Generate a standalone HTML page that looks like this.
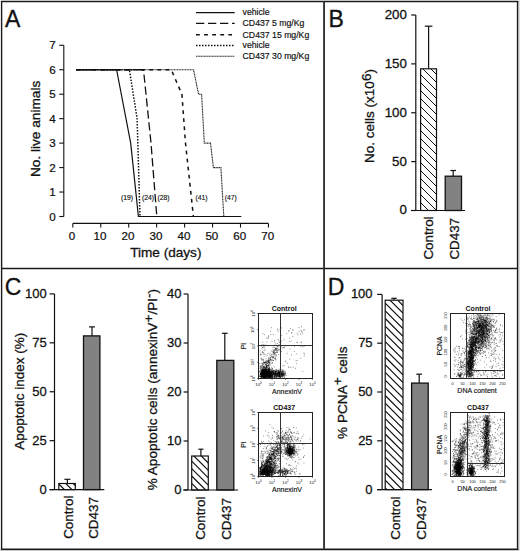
<!DOCTYPE html>
<html><head><meta charset="utf-8"><style>
html,body{margin:0;padding:0;background:#fff;width:520px;height:551px;overflow:hidden}
svg{display:block}
text{font-family:"Liberation Sans", sans-serif;fill:#111}
</style></head><body>
<svg width="520" height="551" viewBox="0 0 520 551">
<rect width="520" height="551" fill="#fff"/>
<rect x="0" y="550" width="520" height="1" fill="#c8c8c8"/>
<rect x="519" y="0" width="1" height="551" fill="#e0e0e0"/>
<text x="5.0" y="27.2" font-size="23" text-anchor="start" stroke="#111" stroke-width="0.3">A</text>
<line x1="63.8" y1="45.28" x2="63.8" y2="216.5" stroke="#111" stroke-width="1.1"/>
<line x1="59.3" y1="216.5" x2="63.8" y2="216.5" stroke="#111" stroke-width="1.1"/>
<text x="55.6" y="220.5" font-size="11.6" text-anchor="end" stroke="#111" stroke-width="0.24">0</text>
<line x1="59.3" y1="192.04" x2="63.8" y2="192.04" stroke="#111" stroke-width="1.1"/>
<text x="55.6" y="196.04" font-size="11.6" text-anchor="end" stroke="#111" stroke-width="0.24">1</text>
<line x1="59.3" y1="167.57999999999998" x2="63.8" y2="167.57999999999998" stroke="#111" stroke-width="1.1"/>
<text x="55.6" y="171.57999999999998" font-size="11.6" text-anchor="end" stroke="#111" stroke-width="0.24">2</text>
<line x1="59.3" y1="143.12" x2="63.8" y2="143.12" stroke="#111" stroke-width="1.1"/>
<text x="55.6" y="147.12" font-size="11.6" text-anchor="end" stroke="#111" stroke-width="0.24">3</text>
<line x1="59.3" y1="118.66" x2="63.8" y2="118.66" stroke="#111" stroke-width="1.1"/>
<text x="55.6" y="122.66" font-size="11.6" text-anchor="end" stroke="#111" stroke-width="0.24">4</text>
<line x1="59.3" y1="94.19999999999999" x2="63.8" y2="94.19999999999999" stroke="#111" stroke-width="1.1"/>
<text x="55.6" y="98.19999999999999" font-size="11.6" text-anchor="end" stroke="#111" stroke-width="0.24">5</text>
<line x1="59.3" y1="69.74000000000001" x2="63.8" y2="69.74000000000001" stroke="#111" stroke-width="1.1"/>
<text x="55.6" y="73.74000000000001" font-size="11.6" text-anchor="end" stroke="#111" stroke-width="0.24">6</text>
<line x1="59.3" y1="45.28" x2="63.8" y2="45.28" stroke="#111" stroke-width="1.1"/>
<text x="55.6" y="49.28" font-size="11.6" text-anchor="end" stroke="#111" stroke-width="0.24">7</text>
<line x1="72.8" y1="223.4" x2="268.45" y2="223.4" stroke="#111" stroke-width="1.1"/>
<line x1="72.8" y1="223.4" x2="72.8" y2="227.6" stroke="#111" stroke-width="1.1"/>
<text x="72.1" y="239.8" font-size="11.6" text-anchor="middle" stroke="#111" stroke-width="0.24">0</text>
<line x1="100.75" y1="223.4" x2="100.75" y2="227.6" stroke="#111" stroke-width="1.1"/>
<text x="100.05" y="239.8" font-size="11.6" text-anchor="middle" stroke="#111" stroke-width="0.24">10</text>
<line x1="128.7" y1="223.4" x2="128.7" y2="227.6" stroke="#111" stroke-width="1.1"/>
<text x="127.99999999999999" y="239.8" font-size="11.6" text-anchor="middle" stroke="#111" stroke-width="0.24">20</text>
<line x1="156.64999999999998" y1="223.4" x2="156.64999999999998" y2="227.6" stroke="#111" stroke-width="1.1"/>
<text x="155.95" y="239.8" font-size="11.6" text-anchor="middle" stroke="#111" stroke-width="0.24">30</text>
<line x1="184.6" y1="223.4" x2="184.6" y2="227.6" stroke="#111" stroke-width="1.1"/>
<text x="183.9" y="239.8" font-size="11.6" text-anchor="middle" stroke="#111" stroke-width="0.24">40</text>
<line x1="212.55" y1="223.4" x2="212.55" y2="227.6" stroke="#111" stroke-width="1.1"/>
<text x="211.85000000000002" y="239.8" font-size="11.6" text-anchor="middle" stroke="#111" stroke-width="0.24">50</text>
<line x1="240.5" y1="223.4" x2="240.5" y2="227.6" stroke="#111" stroke-width="1.1"/>
<text x="239.8" y="239.8" font-size="11.6" text-anchor="middle" stroke="#111" stroke-width="0.24">60</text>
<line x1="268.45" y1="223.4" x2="268.45" y2="227.6" stroke="#111" stroke-width="1.1"/>
<text x="267.75" y="239.8" font-size="11.6" text-anchor="middle" stroke="#111" stroke-width="0.24">70</text>
<text x="165.8" y="256.6" font-size="13.6" text-anchor="middle" stroke="#111" stroke-width="0.29">Time (days)</text>
<text x="39.9" y="128.9" font-size="13.65" text-anchor="middle" stroke="#111" stroke-width="0.29" transform="rotate(-90 39.9 128.9)">No. live animals</text>
<polyline points="76.30,69.74 193.50,69.74 198.60,94.20 201.60,94.20 204.30,143.12 210.50,143.12 213.40,167.58 220.90,167.58 223.80,216.50" fill="none" stroke="#222" stroke-width="1.1" stroke-dasharray="1.1 0.5"/>
<polyline points="76.30,69.74 171.30,69.74 181.90,94.20 185.50,143.12 193.40,216.50" fill="none" stroke="#111" stroke-width="1.5" stroke-dasharray="3.8 4.3"/>
<polyline points="76.30,69.74 143.50,69.74 151.00,143.12 156.80,216.50" fill="none" stroke="#111" stroke-width="1.3" stroke-dasharray="8.3 3.7"/>
<polyline points="76.30,69.74 129.40,69.74 137.10,118.66 140.00,216.50" fill="none" stroke="#111" stroke-width="1.5" stroke-dasharray="1.5 1.5"/>
<polyline points="76.30,69.74 116.60,69.74 130.70,143.12 138.40,216.50 241.30,216.50" fill="none" stroke="#111" stroke-width="1.2"/>
<text x="121.0" y="200.0" font-size="6.8" text-anchor="start" stroke="#111" stroke-width="0.14">(19)</text>
<text x="141.9" y="200.0" font-size="6.8" text-anchor="start" stroke="#111" stroke-width="0.14">(24)</text>
<text x="157.4" y="200.0" font-size="6.8" text-anchor="start" stroke="#111" stroke-width="0.14">(28)</text>
<text x="195.4" y="200.0" font-size="6.8" text-anchor="start" stroke="#111" stroke-width="0.14">(41)</text>
<text x="224.7" y="200.0" font-size="6.8" text-anchor="start" stroke="#111" stroke-width="0.14">(47)</text>
<line x1="196.0" y1="12.6" x2="234.7" y2="12.6" stroke="#111" stroke-width="1.2"/>
<line x1="196.0" y1="23.4" x2="234.7" y2="23.4" stroke="#111" stroke-width="1.3" stroke-dasharray="8.3 3.7"/>
<line x1="196.0" y1="34.8" x2="232.0" y2="34.8" stroke="#111" stroke-width="1.5" stroke-dasharray="3.8 4.3"/>
<line x1="196.0" y1="45.6" x2="234.7" y2="45.6" stroke="#111" stroke-width="1.5" stroke-dasharray="1.5 1.5"/>
<line x1="196.0" y1="56.3" x2="234.7" y2="56.3" stroke="#222" stroke-width="1.1" stroke-dasharray="1.1 0.5"/>
<text x="242.6" y="15.3" font-size="8.7" text-anchor="start" stroke="#111" stroke-width="0.18">vehicle</text>
<text x="242.6" y="26.099999999999998" font-size="8.7" text-anchor="start" stroke="#111" stroke-width="0.18">CD437 5 mg/Kg</text>
<text x="242.6" y="37.5" font-size="8.7" text-anchor="start" stroke="#111" stroke-width="0.18">CD437 15 mg/Kg</text>
<text x="242.6" y="48.300000000000004" font-size="8.7" text-anchor="start" stroke="#111" stroke-width="0.18">vehicle</text>
<text x="242.6" y="59.0" font-size="8.7" text-anchor="start" stroke="#111" stroke-width="0.18">CD437 30 mg/Kg</text>
<text x="328.5" y="27.4" font-size="23" text-anchor="start" stroke="#111" stroke-width="0.3">B</text>
<line x1="415.8" y1="15.0" x2="415.8" y2="210.5" stroke="#111" stroke-width="1.2"/>
<line x1="411.2" y1="210.5" x2="415.8" y2="210.5" stroke="#111" stroke-width="1.2"/>
<text x="406.9" y="214.4" font-size="13.3" text-anchor="end" stroke="#111" stroke-width="0.28">0</text>
<line x1="411.2" y1="161.625" x2="415.8" y2="161.625" stroke="#111" stroke-width="1.2"/>
<text x="406.9" y="165.525" font-size="13.3" text-anchor="end" stroke="#111" stroke-width="0.28">50</text>
<line x1="411.2" y1="112.75" x2="415.8" y2="112.75" stroke="#111" stroke-width="1.2"/>
<text x="406.9" y="116.65" font-size="13.3" text-anchor="end" stroke="#111" stroke-width="0.28">100</text>
<line x1="411.2" y1="63.875" x2="415.8" y2="63.875" stroke="#111" stroke-width="1.2"/>
<text x="406.9" y="67.775" font-size="13.3" text-anchor="end" stroke="#111" stroke-width="0.28">150</text>
<line x1="411.2" y1="15.0" x2="415.8" y2="15.0" stroke="#111" stroke-width="1.2"/>
<text x="406.9" y="18.9" font-size="13.3" text-anchor="end" stroke="#111" stroke-width="0.28">200</text>
<line x1="428.6" y1="68.76249999999999" x2="428.6" y2="26.2" stroke="#111" stroke-width="1.2"/>
<line x1="424.8" y1="26.2" x2="432.40000000000003" y2="26.2" stroke="#111" stroke-width="1.2"/>
<clipPath id="c1"><rect x="420.6" y="68.8" width="15.899999999999977" height="141.7"/></clipPath>
<rect x="420.6" y="68.8" width="15.899999999999977" height="141.7" fill="#fff"/>
<path d="M420.60,210.60L436.50,226.50M420.60,202.60L436.50,218.50M420.60,194.60L436.50,210.50M420.60,186.60L436.50,202.50M420.60,178.60L436.50,194.50M420.60,170.60L436.50,186.50M420.60,162.60L436.50,178.50M420.60,154.60L436.50,170.50M420.60,146.60L436.50,162.50M420.60,138.60L436.50,154.50M420.60,130.60L436.50,146.50M420.60,122.60L436.50,138.50M420.60,114.60L436.50,130.50M420.60,106.60L436.50,122.50M420.60,98.60L436.50,114.50M420.60,90.60L436.50,106.50M420.60,82.60L436.50,98.50M420.60,74.60L436.50,90.50M420.60,66.60L436.50,82.50M420.60,58.60L436.50,74.50M420.60,50.60L436.50,66.50" stroke="#111" stroke-width="1.0" clip-path="url(#c1)"/>
<rect x="420.6" y="68.8" width="15.899999999999977" height="141.7" fill="none" stroke="#111" stroke-width="1.2"/>
<line x1="453.2" y1="176.2" x2="453.2" y2="170.5" stroke="#111" stroke-width="1.2"/>
<line x1="450.4" y1="170.5" x2="456.0" y2="170.5" stroke="#111" stroke-width="1.2"/>
<rect x="445.2" y="176.2" width="16.30000000000001" height="34.30000000000001" fill="#828282" stroke="#111" stroke-width="1.3"/>
<line x1="411.2" y1="210.5" x2="465.0" y2="210.5" stroke="#111" stroke-width="1.2"/>
<text x="433.2" y="259.6" font-size="13.4" text-anchor="start" stroke="#111" stroke-width="0.28" transform="rotate(-90 433.2 259.6)">Control</text>
<text x="459.2" y="259.6" font-size="13.4" text-anchor="start" stroke="#111" stroke-width="0.28" transform="rotate(-90 459.2 259.6)">CD437</text>
<text x="374.5" y="162.9" font-size="13.5" stroke="#111" stroke-width="0.28" transform="rotate(-90 374.5 162.9)">No. cells (x10<tspan dy="-3">6</tspan><tspan dy="3">)</tspan></text>
<text x="4.8" y="295.2" font-size="23" text-anchor="start" stroke="#111" stroke-width="0.3">C</text>
<line x1="54.5" y1="293.9" x2="54.5" y2="489.6" stroke="#111" stroke-width="1.2"/>
<line x1="49.6" y1="489.6" x2="54.5" y2="489.6" stroke="#111" stroke-width="1.2"/>
<text x="46.8" y="493.70000000000005" font-size="13.0" text-anchor="end" stroke="#111" stroke-width="0.27">0</text>
<line x1="49.6" y1="440.675" x2="54.5" y2="440.675" stroke="#111" stroke-width="1.2"/>
<text x="46.8" y="444.77500000000003" font-size="13.0" text-anchor="end" stroke="#111" stroke-width="0.27">25</text>
<line x1="49.6" y1="391.75" x2="54.5" y2="391.75" stroke="#111" stroke-width="1.2"/>
<text x="46.8" y="395.85" font-size="13.0" text-anchor="end" stroke="#111" stroke-width="0.27">50</text>
<line x1="49.6" y1="342.82500000000005" x2="54.5" y2="342.82500000000005" stroke="#111" stroke-width="1.2"/>
<text x="46.8" y="346.92500000000007" font-size="13.0" text-anchor="end" stroke="#111" stroke-width="0.27">75</text>
<line x1="49.6" y1="293.9" x2="54.5" y2="293.9" stroke="#111" stroke-width="1.2"/>
<text x="46.8" y="298.0" font-size="13.0" text-anchor="end" stroke="#111" stroke-width="0.27">100</text>
<line x1="67.4" y1="483.5" x2="67.4" y2="479.3" stroke="#111" stroke-width="1.2"/>
<line x1="64.4" y1="479.3" x2="70.4" y2="479.3" stroke="#111" stroke-width="1.2"/>
<clipPath id="c2"><rect x="58.8" y="483.5" width="16.5" height="6.100000000000023"/></clipPath>
<rect x="58.8" y="483.5" width="16.5" height="6.100000000000023" fill="#fff"/>
<path d="M58.80,491.50L75.30,508.00M58.80,484.00L75.30,500.50M58.80,476.50L75.30,493.00M58.80,469.00L75.30,485.50M58.80,461.50L75.30,478.00" stroke="#111" stroke-width="1.2" clip-path="url(#c2)"/>
<rect x="58.8" y="483.5" width="16.5" height="6.100000000000023" fill="none" stroke="#111" stroke-width="1.2"/>
<line x1="92.0" y1="335.9" x2="92.0" y2="326.9" stroke="#111" stroke-width="1.2"/>
<line x1="89.0" y1="326.9" x2="95.0" y2="326.9" stroke="#111" stroke-width="1.2"/>
<rect x="83.5" y="335.9" width="16.400000000000006" height="153.70000000000005" fill="#828282" stroke="#111" stroke-width="1.3"/>
<line x1="49.6" y1="489.6" x2="104.3" y2="489.6" stroke="#111" stroke-width="1.2"/>
<text x="72.7" y="538.8" font-size="13.4" text-anchor="start" stroke="#111" stroke-width="0.28" transform="rotate(-90 72.7 538.8)">Control</text>
<text x="98.4" y="538.8" font-size="13.4" text-anchor="start" stroke="#111" stroke-width="0.28" transform="rotate(-90 98.4 538.8)">CD437</text>
<text x="23.6" y="449.8" font-size="13.5" text-anchor="start" stroke="#111" stroke-width="0.28" transform="rotate(-90 23.6 449.8)">Apoptotic index (%)</text>
<line x1="188.0" y1="294.0" x2="188.0" y2="490.0" stroke="#111" stroke-width="1.2"/>
<line x1="183.6" y1="490.0" x2="188.0" y2="490.0" stroke="#111" stroke-width="1.2"/>
<text x="181.4" y="494.2" font-size="13.0" text-anchor="end" stroke="#111" stroke-width="0.27">0</text>
<line x1="183.6" y1="441.0" x2="188.0" y2="441.0" stroke="#111" stroke-width="1.2"/>
<text x="181.4" y="445.2" font-size="13.0" text-anchor="end" stroke="#111" stroke-width="0.27">10</text>
<line x1="183.6" y1="392.0" x2="188.0" y2="392.0" stroke="#111" stroke-width="1.2"/>
<text x="181.4" y="396.2" font-size="13.0" text-anchor="end" stroke="#111" stroke-width="0.27">20</text>
<line x1="183.6" y1="343.0" x2="188.0" y2="343.0" stroke="#111" stroke-width="1.2"/>
<text x="181.4" y="347.2" font-size="13.0" text-anchor="end" stroke="#111" stroke-width="0.27">30</text>
<line x1="183.6" y1="294.0" x2="188.0" y2="294.0" stroke="#111" stroke-width="1.2"/>
<text x="181.4" y="298.2" font-size="13.0" text-anchor="end" stroke="#111" stroke-width="0.27">40</text>
<line x1="200.9" y1="456.0" x2="200.9" y2="449.2" stroke="#111" stroke-width="1.2"/>
<line x1="198.3" y1="449.2" x2="203.5" y2="449.2" stroke="#111" stroke-width="1.2"/>
<clipPath id="c3"><rect x="191.7" y="456.0" width="16.600000000000023" height="34.0"/></clipPath>
<rect x="191.7" y="456.0" width="16.600000000000023" height="34.0" fill="#fff"/>
<path d="M191.70,490.80L208.30,507.40M191.70,483.40L208.30,500.00M191.70,476.00L208.30,492.60M191.70,468.60L208.30,485.20M191.70,461.20L208.30,477.80M191.70,453.80L208.30,470.40M191.70,446.40L208.30,463.00M191.70,439.00L208.30,455.60" stroke="#111" stroke-width="1.2" clip-path="url(#c3)"/>
<rect x="191.7" y="456.0" width="16.600000000000023" height="34.0" fill="none" stroke="#111" stroke-width="1.2"/>
<line x1="224.8" y1="360.4" x2="224.8" y2="333.3" stroke="#111" stroke-width="1.2"/>
<line x1="221.9" y1="333.3" x2="227.70000000000002" y2="333.3" stroke="#111" stroke-width="1.2"/>
<rect x="216.8" y="360.4" width="17.0" height="129.60000000000002" fill="#828282" stroke="#111" stroke-width="1.3"/>
<line x1="183.3" y1="490.0" x2="238.1" y2="490.0" stroke="#111" stroke-width="1.2"/>
<text x="205.4" y="539.8" font-size="13.4" text-anchor="start" stroke="#111" stroke-width="0.28" transform="rotate(-90 205.4 539.8)">Control</text>
<text x="231.3" y="539.8" font-size="13.4" text-anchor="start" stroke="#111" stroke-width="0.28" transform="rotate(-90 231.3 539.8)">CD437</text>
<text x="157.4" y="490.3" font-size="13.6" stroke="#111" stroke-width="0.28" transform="rotate(-90 157.4 490.3)">% Apoptotic cells (annexinV<tspan dy="-4.5">+</tspan><tspan dy="4.5">/PI</tspan><tspan dy="-4.5">-</tspan><tspan dy="4.5">)</tspan></text>
<path d="M266.9,372.6h0.9M269.3,372.2h0.9M272.6,375.1h0.9M261.3,375.8h0.9M269.8,371.8h0.9M265.2,370.6h0.9M260.1,374.5h0.9M264.5,370.9h0.9M273.9,375.7h0.9M268.9,373.1h0.9M272.6,371.8h0.9M263.7,373.9h0.9M262.5,372.7h0.9M269.2,370.0h0.9M271.9,376.9h0.9M265.3,371.8h0.9M263.3,374.5h0.9M268.3,371.6h0.9M266.4,371.9h0.9M263.9,373.9h0.9M263.7,375.3h0.9M267.9,376.8h0.9M270.7,373.6h0.9M267.0,371.1h0.9M276.3,373.1h0.9M268.8,369.9h0.9M269.9,375.6h0.9M265.6,373.6h0.9M270.0,373.4h0.9M270.6,374.4h0.9M268.9,374.4h0.9M265.3,376.4h0.9M271.1,373.7h0.9M260.8,372.9h0.9M272.7,376.3h0.9M268.9,367.2h0.9M268.7,373.7h0.9M265.5,373.1h0.9M275.2,373.5h0.9M266.5,375.2h0.9M269.3,376.0h0.9M261.0,374.1h0.9M263.2,374.8h0.9M269.7,373.1h0.9M273.0,370.3h0.9M263.4,370.8h0.9M269.2,374.2h0.9M268.3,372.0h0.9M269.6,376.1h0.9M268.3,373.1h0.9M267.4,371.2h0.9M267.5,367.6h0.9M266.4,374.6h0.9M259.6,374.8h0.9M272.0,374.4h0.9M262.2,372.4h0.9M273.1,372.0h0.9M274.4,372.9h0.9M264.0,369.5h0.9M262.6,375.7h0.9M267.4,376.3h0.9M264.6,369.9h0.9M263.6,373.0h0.9M271.8,374.1h0.9M271.6,377.7h0.9M267.2,375.4h0.9M272.1,377.3h0.9M268.9,372.0h0.9M269.4,369.7h0.9M271.0,377.6h0.9M268.3,374.8h0.9M261.4,371.3h0.9M277.2,376.8h0.9M263.6,376.7h0.9M272.4,370.6h0.9M264.2,375.1h0.9M267.2,373.6h0.9M264.9,377.2h0.9M263.6,372.3h0.9M269.2,376.7h0.9M264.1,372.8h0.9M278.9,377.6h0.9M270.5,377.0h0.9M262.2,376.3h0.9M269.2,373.7h0.9M269.6,375.9h0.9M271.2,374.9h0.9M274.8,373.0h0.9M261.7,374.8h0.9M268.1,376.6h0.9M272.6,374.0h0.9M260.9,376.6h0.9M274.5,374.5h0.9M269.3,372.5h0.9M263.5,376.7h0.9M264.7,372.0h0.9M268.7,375.3h0.9M267.7,373.6h0.9M265.4,373.4h0.9M261.0,377.1h0.9M268.4,377.6h0.9M266.0,374.6h0.9M268.5,373.0h0.9M269.6,376.8h0.9M264.5,371.6h0.9M264.3,377.4h0.9M264.8,371.4h0.9M267.6,374.6h0.9M265.6,374.5h0.9M270.0,376.0h0.9M264.9,372.7h0.9M270.3,371.6h0.9M261.9,374.0h0.9M267.7,377.3h0.9M270.3,376.1h0.9M265.4,373.2h0.9M262.7,376.5h0.9M272.7,372.8h0.9M261.0,376.5h0.9M268.6,375.5h0.9M264.8,375.8h0.9M271.5,375.6h0.9M265.0,374.5h0.9M276.9,375.4h0.9M261.0,375.1h0.9M274.9,372.4h0.9M267.3,370.8h0.9M261.3,371.4h0.9M272.6,372.5h0.9M261.6,373.0h0.9M271.7,377.1h0.9M278.7,375.1h0.9M264.1,377.5h0.9M264.8,375.7h0.9M264.3,376.3h0.9M261.1,373.1h0.9M266.5,372.0h0.9M263.7,376.0h0.9M268.0,377.4h0.9M273.2,373.6h0.9M264.2,370.0h0.9M267.0,372.1h0.9M263.2,375.6h0.9M268.4,374.0h0.9M268.7,377.5h0.9M267.8,375.9h0.9M269.3,369.8h0.9M271.3,373.0h0.9M268.2,371.3h0.9M260.0,373.4h0.9M266.7,374.4h0.9M273.6,366.9h0.9M260.6,373.5h0.9M265.7,377.5h0.9M268.2,373.5h0.9M260.5,372.6h0.9M264.5,373.9h0.9M267.2,374.5h0.9M272.4,375.3h0.9M267.6,376.1h0.9M268.9,374.8h0.9M271.1,375.8h0.9M261.1,374.6h0.9M263.7,373.3h0.9M273.3,372.8h0.9M266.4,372.4h0.9M268.7,375.2h0.9M265.7,373.0h0.9M261.3,374.1h0.9M264.0,375.7h0.9M266.0,374.0h0.9M263.1,373.5h0.9M266.5,370.3h0.9M264.0,374.5h0.9M267.7,373.8h0.9M267.9,376.7h0.9M261.6,373.6h0.9M267.2,376.2h0.9M265.6,376.9h0.9M266.5,373.3h0.9M266.6,375.3h0.9M259.3,371.2h0.9M274.4,376.6h0.9M262.2,375.3h0.9M271.9,371.6h0.9M264.7,377.2h0.9M274.4,374.2h0.9M265.7,367.5h0.9M259.7,366.5h0.9M271.1,374.4h0.9M266.2,373.8h0.9M260.0,374.7h0.9M266.3,377.3h0.9M261.8,368.9h0.9M267.1,367.9h0.9M262.7,375.1h0.9M262.2,370.4h0.9M266.0,374.6h0.9M267.7,373.0h0.9M261.8,368.9h0.9M262.6,374.2h0.9M268.1,372.9h0.9M268.4,372.3h0.9M266.2,368.9h0.9M266.5,375.0h0.9M265.7,371.2h0.9M267.4,371.8h0.9M266.8,375.9h0.9M266.3,371.8h0.9M260.2,374.2h0.9M260.0,374.0h0.9M265.2,370.0h0.9M266.7,371.0h0.9M267.7,370.5h0.9M263.5,372.3h0.9M266.0,372.9h0.9M262.1,372.3h0.9M262.1,372.2h0.9M261.4,370.3h0.9M263.1,371.5h0.9M265.1,369.1h0.9M266.2,365.8h0.9M260.5,376.5h0.9M262.9,369.9h0.9M266.9,375.3h0.9M262.3,368.2h0.9M266.3,371.7h0.9M264.4,373.6h0.9M263.6,371.3h0.9M259.4,370.8h0.9M265.7,370.1h0.9M263.3,361.8h0.9M265.0,368.7h0.9M263.5,368.9h0.9M260.7,374.4h0.9M264.3,371.5h0.9M265.1,376.6h0.9M266.0,372.2h0.9M261.1,370.8h0.9M260.6,372.7h0.9M269.6,376.4h0.9M263.7,376.2h0.9M262.9,369.6h0.9M263.5,370.9h0.9M262.5,369.9h0.9M266.0,369.8h0.9M260.9,373.8h0.9M264.6,372.1h0.9M262.6,365.1h0.9M266.2,372.6h0.9M265.8,370.9h0.9M268.7,372.6h0.9M268.7,373.0h0.9M269.7,371.7h0.9M268.2,371.5h0.9M265.7,367.0h0.9M265.3,368.4h0.9M262.0,373.5h0.9M260.2,368.1h0.9M279.9,374.7h0.9M278.6,377.6h0.9M279.5,373.7h0.9M279.9,372.1h0.9M273.8,374.1h0.9M279.9,373.5h0.9M277.8,376.2h0.9M279.0,376.6h0.9M278.0,375.4h0.9M280.1,375.2h0.9M276.6,377.8h0.9M279.7,376.7h0.9M274.8,373.5h0.9M279.1,375.3h0.9M283.7,374.2h0.9M280.2,373.0h0.9M279.5,376.1h0.9M280.0,373.5h0.9M281.3,372.2h0.9M279.2,374.4h0.9M274.8,371.9h0.9M278.9,374.5h0.9M280.2,376.2h0.9M279.4,373.7h0.9M280.5,371.7h0.9M277.4,375.8h0.9M281.4,373.3h0.9M275.1,371.9h0.9M275.8,371.6h0.9M275.1,372.2h0.9M276.4,374.1h0.9M278.0,372.8h0.9M280.1,371.9h0.9M279.8,374.0h0.9M276.1,377.1h0.9M277.7,374.7h0.9M282.8,372.8h0.9M276.9,373.8h0.9M274.4,375.5h0.9M278.5,375.7h0.9M282.2,372.0h0.9M283.9,373.9h0.9M279.6,374.7h0.9M278.9,372.6h0.9M283.3,375.7h0.9M278.9,375.1h0.9M272.6,371.6h0.9M282.6,372.3h0.9M278.8,373.5h0.9M274.2,375.7h0.9M276.2,373.2h0.9M276.9,373.5h0.9M279.3,377.1h0.9M279.7,370.1h0.9M282.5,371.7h0.9M277.4,372.3h0.9M275.2,372.1h0.9M275.2,371.6h0.9M277.0,370.9h0.9M285.0,373.6h0.9M276.9,375.2h0.9M278.7,375.4h0.9M274.4,374.7h0.9M281.7,374.5h0.9M279.7,372.9h0.9M274.2,373.7h0.9M282.5,374.2h0.9M285.0,372.0h0.9M279.6,371.7h0.9M278.0,372.6h0.9M280.4,372.4h0.9M278.1,376.2h0.9M283.7,373.9h0.9M277.7,374.4h0.9M272.9,357.3h0.9M280.5,349.8h0.9M265.6,358.8h0.9M268.3,361.5h0.9M265.6,370.0h0.9M265.3,367.0h0.9M265.5,367.8h0.9M279.3,344.7h0.9M262.1,363.6h0.9M271.9,362.8h0.9M277.0,343.5h0.9M264.9,364.2h0.9M266.7,361.7h0.9M267.1,363.7h0.9M274.2,347.6h0.9M281.0,351.6h0.9M273.2,353.4h0.9M276.3,349.1h0.9M269.4,355.0h0.9M275.5,349.4h0.9M261.8,365.3h0.9M269.8,359.2h0.9M265.1,370.1h0.9M276.8,346.7h0.9M262.5,371.1h0.9M263.1,367.0h0.9M278.2,354.6h0.9M267.5,353.5h0.9M283.6,347.9h0.9M268.2,365.8h0.9M265.5,362.0h0.9M278.5,347.0h0.9M259.0,363.7h0.9M263.6,362.9h0.9M267.5,371.7h0.9M268.9,367.0h0.9M272.5,352.4h0.9M270.7,359.9h0.9M278.4,349.7h0.9M275.6,352.5h0.9M268.3,362.5h0.9M269.3,362.9h0.9M275.5,352.5h0.9M278.5,350.9h0.9M280.2,346.7h0.9M275.3,344.0h0.9M265.7,362.8h0.9M266.5,363.4h0.9M265.2,361.0h0.9M273.0,352.0h0.9M271.6,351.5h0.9M267.5,365.6h0.9M263.6,362.7h0.9M261.7,367.7h0.9M262.2,366.2h0.9M266.4,342.0h0.9M300.7,341.9h0.9M292.0,329.9h0.9M270.0,331.3h0.9M292.6,330.1h0.9M265.9,338.2h0.9M297.2,342.4h0.9M268.1,336.0h0.9M267.0,338.0h0.9M304.0,329.8h0.9M298.7,327.6h0.9M297.4,334.8h0.9M262.5,333.5h0.9M285.4,361.7h0.9M296.8,360.4h0.9M282.8,347.5h0.9M293.7,351.5h0.9M301.9,346.9h0.9M303.6,346.5h0.9M295.1,368.3h0.9M285.3,361.2h0.9M260.9,359.2h0.9M260.4,366.6h0.9M261.4,359.9h0.9M263.6,350.4h0.9M263.7,356.4h0.9M263.1,346.7h0.9M262.3,352.9h0.9M261.1,346.0h0.9M260.4,352.9h0.9M263.3,366.2h0.9" stroke="#000" stroke-opacity="0.5" stroke-width="0.9" fill="none"/><path d="M261.3,374.7h0.9M266.6,374.4h0.9M271.0,373.6h0.9M267.0,376.5h0.9M264.6,373.3h0.9M271.3,373.5h0.9M270.1,375.0h0.9M262.9,376.6h0.9M273.1,374.2h0.9M261.8,373.2h0.9M268.7,371.7h0.9M261.0,374.5h0.9M270.1,374.9h0.9M265.7,373.6h0.9M265.6,375.4h0.9M264.2,377.2h0.9M259.5,371.6h0.9M261.6,376.7h0.9M266.6,374.9h0.9M275.4,369.4h0.9M272.3,376.9h0.9M275.1,374.2h0.9M272.1,371.9h0.9M269.1,372.5h0.9M270.7,377.1h0.9M263.0,377.6h0.9M271.4,372.5h0.9M270.1,375.1h0.9M266.5,377.6h0.9M262.2,373.0h0.9M272.6,374.2h0.9M270.0,375.6h0.9M265.1,376.8h0.9M266.6,375.1h0.9M269.8,377.1h0.9M268.5,372.5h0.9M267.6,374.2h0.9M264.0,375.2h0.9M260.8,373.6h0.9M263.5,372.5h0.9M268.9,372.3h0.9M263.5,372.4h0.9M261.3,376.3h0.9M263.3,369.9h0.9M272.7,373.8h0.9M263.2,377.2h0.9M268.1,369.7h0.9M268.8,376.6h0.9M269.8,374.6h0.9M265.3,377.8h0.9M263.6,376.0h0.9M270.3,376.9h0.9M261.6,375.6h0.9M264.2,375.8h0.9M269.1,372.3h0.9M266.3,374.8h0.9M262.1,371.7h0.9M271.3,370.9h0.9M263.9,374.2h0.9M266.1,374.2h0.9M269.5,373.2h0.9M269.5,372.9h0.9M259.1,376.4h0.9M273.3,372.4h0.9M265.8,372.4h0.9M266.9,375.3h0.9M270.7,376.1h0.9M263.7,373.7h0.9M264.6,376.9h0.9M271.0,375.5h0.9M267.4,374.0h0.9M263.0,370.0h0.9M262.8,373.3h0.9M260.2,376.4h0.9M268.6,375.0h0.9M260.6,377.1h0.9M271.3,375.1h0.9M264.5,376.7h0.9M274.3,374.3h0.9M264.4,374.4h0.9M265.2,376.9h0.9M278.1,371.6h0.9M268.2,370.6h0.9M272.5,374.2h0.9M259.9,376.8h0.9M262.6,372.3h0.9M271.0,371.3h0.9M265.3,369.9h0.9M273.0,371.5h0.9M266.4,374.3h0.9M261.1,373.2h0.9M265.1,376.7h0.9M262.3,373.6h0.9M261.0,377.7h0.9M269.6,374.8h0.9M267.5,371.6h0.9M270.0,374.2h0.9M260.9,373.6h0.9M266.2,376.7h0.9M265.0,377.6h0.9M270.6,374.5h0.9M273.7,374.3h0.9M264.4,375.3h0.9M266.2,376.4h0.9M270.6,375.4h0.9M265.4,375.8h0.9M265.2,372.9h0.9M269.6,375.5h0.9M265.3,375.8h0.9M266.4,375.4h0.9M262.3,374.4h0.9M270.0,372.7h0.9M272.1,372.4h0.9M263.1,374.0h0.9M263.2,371.9h0.9M268.9,373.9h0.9M271.5,377.0h0.9M262.1,376.9h0.9M271.8,375.6h0.9M262.0,374.5h0.9M268.4,368.9h0.9M263.7,376.1h0.9M261.8,369.7h0.9M270.2,376.0h0.9M267.7,370.5h0.9M269.4,376.6h0.9M267.8,372.6h0.9M271.8,372.9h0.9M264.6,376.2h0.9M273.8,373.0h0.9M261.9,376.8h0.9M265.1,376.5h0.9M261.2,375.6h0.9M267.9,371.0h0.9M263.9,374.9h0.9M264.1,375.7h0.9M263.9,371.4h0.9M259.1,368.1h0.9M261.0,372.6h0.9M274.2,377.7h0.9M271.7,377.7h0.9M259.9,375.0h0.9M274.1,377.4h0.9M266.0,373.9h0.9M263.4,374.4h0.9M269.9,373.4h0.9M263.6,372.5h0.9M260.8,376.1h0.9M271.4,376.8h0.9M261.7,373.1h0.9M268.9,376.6h0.9M270.6,371.7h0.9M265.2,373.9h0.9M266.3,372.4h0.9M262.3,375.5h0.9M270.2,372.6h0.9M266.3,376.3h0.9M267.8,374.5h0.9M267.6,376.7h0.9M265.0,372.6h0.9M261.5,371.9h0.9M264.0,370.1h0.9M263.9,371.5h0.9M271.8,375.4h0.9M263.2,372.8h0.9M271.0,374.8h0.9M273.6,374.3h0.9M267.2,371.5h0.9M267.9,373.8h0.9M266.2,369.3h0.9M262.4,377.0h0.9M262.9,374.0h0.9M270.4,374.5h0.9M278.5,371.2h0.9M272.6,374.8h0.9M263.1,374.0h0.9M264.2,376.9h0.9M268.4,373.9h0.9M262.2,373.1h0.9M275.1,373.2h0.9M266.6,376.3h0.9M262.7,376.4h0.9M271.1,372.5h0.9M262.2,376.4h0.9M269.8,376.9h0.9M274.7,372.1h0.9M268.2,376.9h0.9M263.7,369.4h0.9M265.5,374.4h0.9M264.9,371.6h0.9M263.8,375.6h0.9M262.3,370.2h0.9M266.2,373.7h0.9M265.8,371.0h0.9M265.5,371.9h0.9M265.6,372.9h0.9M264.1,372.6h0.9M263.0,377.7h0.9M266.7,371.0h0.9M263.9,374.7h0.9M268.5,364.5h0.9M261.2,369.9h0.9M260.9,370.0h0.9M263.5,367.6h0.9M268.3,365.0h0.9M263.2,368.8h0.9M263.3,370.1h0.9M268.5,370.8h0.9M262.1,375.2h0.9M269.1,373.7h0.9M266.7,372.5h0.9M263.6,370.8h0.9M266.7,369.2h0.9M263.4,371.9h0.9M263.5,370.5h0.9M266.4,372.6h0.9M264.8,369.2h0.9M261.7,373.0h0.9M264.6,369.2h0.9M265.1,374.2h0.9M267.3,370.9h0.9M264.5,374.3h0.9M268.5,370.9h0.9M264.4,369.4h0.9M264.1,362.5h0.9M271.3,370.7h0.9M263.8,371.1h0.9M263.9,373.6h0.9M264.0,373.4h0.9M264.6,369.8h0.9M266.4,366.3h0.9M261.1,371.3h0.9M262.7,375.0h0.9M262.4,369.2h0.9M260.4,375.3h0.9M261.0,373.4h0.9M263.6,372.7h0.9M267.2,363.3h0.9M268.6,370.4h0.9M264.0,372.5h0.9M268.0,375.0h0.9M261.9,370.1h0.9M261.7,372.6h0.9M261.0,371.7h0.9M263.4,370.0h0.9M267.5,367.1h0.9M267.8,369.8h0.9M263.7,368.1h0.9M261.5,373.5h0.9M268.3,373.1h0.9M262.5,376.0h0.9M264.4,375.6h0.9M266.3,368.9h0.9M261.4,376.9h0.9M268.2,375.1h0.9M270.7,371.8h0.9M265.9,370.7h0.9M266.6,373.4h0.9M275.9,375.0h0.9M278.0,376.6h0.9M282.7,376.1h0.9M275.9,370.3h0.9M279.7,373.9h0.9M279.1,374.4h0.9M277.1,372.8h0.9M275.2,371.3h0.9M282.8,373.7h0.9M282.1,374.0h0.9M279.5,375.1h0.9M279.2,374.5h0.9M274.2,373.7h0.9M278.7,373.9h0.9M274.4,371.3h0.9M279.8,373.9h0.9M276.1,371.9h0.9M282.5,369.9h0.9M277.3,373.6h0.9M276.9,373.6h0.9M281.3,374.5h0.9M279.7,373.5h0.9M280.5,376.8h0.9M277.4,373.7h0.9M280.6,370.4h0.9M281.4,369.7h0.9M276.4,373.8h0.9M282.5,373.8h0.9M281.5,374.9h0.9M281.8,373.2h0.9M279.8,373.1h0.9M281.0,373.6h0.9M278.9,372.8h0.9M276.4,370.8h0.9M277.8,376.2h0.9M278.9,373.5h0.9M282.4,374.0h0.9M281.9,373.6h0.9M275.8,377.7h0.9M275.8,373.8h0.9M277.6,370.1h0.9M279.1,374.3h0.9M279.0,374.3h0.9M275.3,373.1h0.9M277.9,373.4h0.9M276.7,374.6h0.9M285.6,375.6h0.9M281.7,376.4h0.9M279.3,372.3h0.9M281.3,374.8h0.9M284.2,372.1h0.9M279.2,374.2h0.9M285.0,373.2h0.9M277.4,376.7h0.9M282.5,372.3h0.9M277.5,370.9h0.9M278.5,370.1h0.9M277.4,375.6h0.9M280.8,376.1h0.9M274.1,376.9h0.9M282.2,372.3h0.9M278.4,370.5h0.9M280.4,374.0h0.9M280.1,374.2h0.9M279.5,373.1h0.9M274.1,372.2h0.9M277.8,372.4h0.9M280.0,374.4h0.9M279.7,371.8h0.9M283.8,370.9h0.9M275.8,376.3h0.9M281.8,376.0h0.9M279.6,375.2h0.9M281.9,376.5h0.9M275.0,350.1h0.9M280.2,345.7h0.9M271.3,356.6h0.9M278.2,345.2h0.9M273.7,354.7h0.9M271.5,350.6h0.9M262.3,372.3h0.9M270.4,355.7h0.9M266.0,364.4h0.9M266.5,365.9h0.9M275.9,348.4h0.9M264.6,362.3h0.9M273.7,352.0h0.9M269.6,364.7h0.9M271.8,359.9h0.9M271.2,354.9h0.9M268.1,360.5h0.9M267.3,369.0h0.9M267.3,365.8h0.9M276.2,351.6h0.9M272.7,356.3h0.9M277.4,345.7h0.9M273.3,346.7h0.9M268.4,358.3h0.9M269.4,353.3h0.9M264.3,362.5h0.9M268.0,366.0h0.9M273.1,350.5h0.9M275.1,359.8h0.9M280.4,344.0h0.9M267.9,361.3h0.9M267.8,362.3h0.9M268.1,357.8h0.9M274.7,358.6h0.9M275.8,359.8h0.9M266.7,355.4h0.9M279.1,342.6h0.9M269.7,363.2h0.9M270.1,357.5h0.9M268.9,361.0h0.9M274.5,358.1h0.9M264.5,362.8h0.9M274.4,358.7h0.9M268.4,362.1h0.9M274.0,350.3h0.9M272.8,349.4h0.9M268.2,360.8h0.9M266.9,361.0h0.9M271.5,341.4h0.9M265.5,365.6h0.9M273.3,351.7h0.9M266.1,363.3h0.9M273.0,360.6h0.9M272.7,357.7h0.9M268.1,360.0h0.9M274.2,342.0h0.9M289.3,338.1h0.9M303.0,330.0h0.9M281.2,327.9h0.9M300.9,342.7h0.9M301.0,326.7h0.9M290.1,328.4h0.9M291.5,332.8h0.9M270.4,334.7h0.9M279.9,337.4h0.9M281.1,341.0h0.9M301.9,333.8h0.9M300.6,330.5h0.9M270.9,327.7h0.9M286.6,353.4h0.9M296.2,363.7h0.9M295.8,354.0h0.9M303.4,353.1h0.9M303.7,356.0h0.9M295.6,360.8h0.9M289.6,349.2h0.9M300.2,358.3h0.9M260.1,354.5h0.9M264.0,365.9h0.9M264.3,348.0h0.9M262.7,344.5h0.9M262.1,347.3h0.9M264.2,346.2h0.9M262.9,362.2h0.9M263.2,352.6h0.9M263.0,360.3h0.9M262.2,351.4h0.9" stroke="#000" stroke-opacity="0.5" stroke-width="0.9" fill="none"/><path d="M261.6,370.9h0.9M259.3,376.0h0.9M267.7,377.3h0.9M267.7,377.4h0.9M276.2,374.4h0.9M270.1,371.2h0.9M268.1,372.0h0.9M261.8,374.3h0.9M264.3,375.6h0.9M267.1,374.5h0.9M261.9,373.6h0.9M263.8,376.5h0.9M269.4,377.7h0.9M267.4,374.6h0.9M269.8,377.3h0.9M271.4,375.0h0.9M267.5,374.7h0.9M270.4,375.4h0.9M267.6,374.1h0.9M264.9,371.6h0.9M265.0,377.5h0.9M264.8,376.1h0.9M269.2,375.4h0.9M264.4,376.4h0.9M267.7,375.0h0.9M267.5,372.1h0.9M271.4,373.3h0.9M271.7,374.4h0.9M272.3,376.8h0.9M265.9,375.5h0.9M263.9,371.1h0.9M271.9,374.3h0.9M269.8,373.2h0.9M266.7,375.6h0.9M267.1,373.6h0.9M271.2,376.5h0.9M270.1,369.3h0.9M265.0,370.8h0.9M269.8,372.3h0.9M265.0,374.2h0.9M261.2,376.7h0.9M263.5,370.7h0.9M275.7,371.4h0.9M261.4,377.5h0.9M268.2,376.4h0.9M279.9,376.5h0.9M262.5,371.2h0.9M269.0,374.3h0.9M265.7,374.8h0.9M268.9,370.0h0.9M273.5,377.6h0.9M262.8,373.6h0.9M264.9,377.1h0.9M270.5,374.7h0.9M266.1,366.9h0.9M262.7,376.4h0.9M263.2,372.7h0.9M269.2,371.3h0.9M269.4,372.0h0.9M264.8,372.1h0.9M274.8,376.8h0.9M264.1,369.8h0.9M267.3,373.0h0.9M263.6,373.3h0.9M270.4,376.2h0.9M264.1,370.0h0.9M261.9,374.7h0.9M265.6,372.3h0.9M266.8,373.1h0.9M270.3,376.7h0.9M266.2,375.9h0.9M264.1,372.4h0.9M261.7,372.6h0.9M264.8,370.4h0.9M268.7,371.9h0.9M267.4,374.2h0.9M266.1,372.4h0.9M269.1,368.2h0.9M270.4,371.1h0.9M263.0,377.4h0.9M260.7,374.6h0.9M271.0,369.2h0.9M266.5,372.1h0.9M268.0,375.9h0.9M268.7,375.0h0.9M268.3,375.1h0.9M270.6,372.9h0.9M270.3,374.6h0.9M265.4,374.2h0.9M269.6,376.1h0.9M260.6,374.1h0.9M260.1,374.5h0.9M272.3,372.2h0.9M262.2,374.9h0.9M263.2,373.5h0.9M265.4,371.6h0.9M270.3,374.9h0.9M268.8,374.4h0.9M272.0,371.0h0.9M268.6,373.9h0.9M263.4,374.1h0.9M278.0,371.5h0.9M268.7,377.7h0.9M262.9,376.8h0.9M264.0,371.1h0.9M269.0,376.1h0.9M268.6,377.8h0.9M260.7,367.8h0.9M266.0,373.9h0.9M269.2,374.9h0.9M270.9,373.8h0.9M263.7,371.3h0.9M265.1,374.3h0.9M265.8,377.8h0.9M265.4,370.7h0.9M269.1,373.4h0.9M268.6,371.2h0.9M270.6,372.7h0.9M274.0,375.5h0.9M272.6,372.5h0.9M262.6,377.7h0.9M268.7,372.0h0.9M262.2,374.8h0.9M273.6,373.9h0.9M268.4,377.2h0.9M267.5,375.0h0.9M272.0,369.0h0.9M266.2,374.8h0.9M268.4,368.6h0.9M264.3,370.8h0.9M263.1,372.3h0.9M261.0,376.4h0.9M264.0,375.4h0.9M266.1,372.3h0.9M269.1,376.0h0.9M265.2,373.9h0.9M270.8,376.9h0.9M263.1,377.2h0.9M266.7,372.6h0.9M264.2,373.1h0.9M266.6,374.8h0.9M261.4,369.4h0.9M270.9,377.0h0.9M262.0,375.9h0.9M275.0,374.1h0.9M272.1,375.4h0.9M271.1,373.0h0.9M265.5,375.9h0.9M277.0,375.1h0.9M260.3,370.8h0.9M268.0,375.6h0.9M268.3,374.8h0.9M266.4,375.7h0.9M275.9,369.5h0.9M266.6,374.0h0.9M269.8,374.3h0.9M278.3,376.9h0.9M274.9,374.9h0.9M261.9,374.7h0.9M271.3,373.5h0.9M271.5,373.8h0.9M275.4,373.1h0.9M269.9,372.4h0.9M269.3,373.4h0.9M260.2,376.0h0.9M259.4,372.2h0.9M271.8,377.5h0.9M262.5,373.5h0.9M261.4,372.3h0.9M274.2,374.6h0.9M270.7,372.4h0.9M270.8,374.8h0.9M264.1,375.9h0.9M267.0,374.7h0.9M266.1,375.0h0.9M266.9,376.4h0.9M269.7,374.8h0.9M269.4,369.5h0.9M268.5,370.9h0.9M267.4,376.7h0.9M263.5,376.9h0.9M274.3,370.6h0.9M276.5,371.7h0.9M269.1,374.7h0.9M264.8,373.6h0.9M265.9,373.7h0.9M272.2,373.9h0.9M269.8,377.4h0.9M266.4,369.6h0.9M266.2,373.0h0.9M267.7,369.6h0.9M262.5,371.8h0.9M266.3,374.6h0.9M263.9,370.3h0.9M263.7,375.4h0.9M263.1,376.9h0.9M268.6,373.8h0.9M264.9,374.8h0.9M262.5,375.7h0.9M262.4,374.4h0.9M265.2,377.3h0.9M269.1,369.1h0.9M266.8,375.7h0.9M264.6,373.3h0.9M266.4,375.3h0.9M273.5,371.2h0.9M262.3,370.8h0.9M265.5,369.4h0.9M264.6,367.5h0.9M267.2,373.8h0.9M267.9,371.5h0.9M265.5,367.9h0.9M265.9,371.0h0.9M262.2,371.1h0.9M265.7,369.9h0.9M263.3,374.0h0.9M262.9,370.6h0.9M262.7,371.4h0.9M262.5,370.0h0.9M263.3,370.6h0.9M262.6,375.3h0.9M261.6,375.0h0.9M266.0,365.9h0.9M260.5,374.4h0.9M265.0,370.2h0.9M265.4,373.8h0.9M266.6,374.2h0.9M265.3,375.8h0.9M266.9,370.1h0.9M265.2,371.8h0.9M265.2,370.4h0.9M264.2,370.4h0.9M265.3,373.1h0.9M269.7,374.0h0.9M263.6,367.5h0.9M261.4,371.4h0.9M266.4,372.2h0.9M262.2,373.5h0.9M262.3,371.1h0.9M260.4,368.4h0.9M267.7,374.0h0.9M264.4,372.6h0.9M264.8,374.0h0.9M265.2,367.2h0.9M266.4,372.7h0.9M262.8,371.3h0.9M260.5,370.7h0.9M268.1,375.2h0.9M261.4,371.2h0.9M263.4,377.4h0.9M263.0,371.0h0.9M260.5,374.3h0.9M266.5,369.5h0.9M264.2,374.0h0.9M268.8,368.6h0.9M266.2,367.3h0.9M267.4,368.3h0.9M263.5,371.1h0.9M275.0,375.5h0.9M277.9,372.9h0.9M281.5,376.5h0.9M279.4,371.8h0.9M277.8,373.4h0.9M279.9,372.1h0.9M280.0,374.2h0.9M280.0,373.0h0.9M278.3,372.3h0.9M282.3,371.5h0.9M273.4,372.5h0.9M280.0,377.3h0.9M278.0,374.2h0.9M281.9,373.3h0.9M278.8,375.8h0.9M281.6,374.9h0.9M278.7,373.6h0.9M280.5,374.0h0.9M281.2,374.0h0.9M280.3,376.0h0.9M279.5,375.9h0.9M278.5,373.0h0.9M284.7,372.8h0.9M281.7,375.1h0.9M282.5,374.6h0.9M282.9,373.4h0.9M280.5,371.6h0.9M276.3,375.8h0.9M278.2,373.6h0.9M273.4,373.6h0.9M281.1,376.5h0.9M278.9,374.4h0.9M276.4,375.9h0.9M275.8,373.0h0.9M276.0,372.0h0.9M276.3,373.8h0.9M277.8,373.2h0.9M281.0,371.7h0.9M283.5,375.7h0.9M277.4,373.9h0.9M276.9,373.4h0.9M277.9,372.7h0.9M279.6,373.1h0.9M279.2,373.3h0.9M283.4,371.6h0.9M275.2,375.3h0.9M280.0,373.8h0.9M279.7,373.1h0.9M279.9,373.1h0.9M282.3,377.5h0.9M282.3,375.3h0.9M281.2,374.2h0.9M278.8,375.9h0.9M283.2,374.5h0.9M275.7,374.9h0.9M283.7,375.1h0.9M279.5,373.9h0.9M285.0,375.1h0.9M278.4,371.4h0.9M277.7,374.5h0.9M275.1,373.9h0.9M278.9,372.8h0.9M276.7,370.9h0.9M279.5,373.1h0.9M282.3,370.4h0.9M280.1,373.1h0.9M282.9,370.4h0.9M279.6,373.5h0.9M284.2,377.3h0.9M276.2,376.2h0.9M280.2,375.0h0.9M275.6,375.2h0.9M280.1,372.7h0.9M283.1,375.8h0.9M276.6,352.4h0.9M268.1,369.0h0.9M270.8,363.0h0.9M272.0,362.8h0.9M275.4,348.4h0.9M267.6,360.0h0.9M265.8,361.3h0.9M268.1,359.9h0.9M274.1,355.1h0.9M265.4,362.3h0.9M266.7,361.9h0.9M277.6,349.0h0.9M280.7,346.9h0.9M274.4,349.5h0.9M262.1,369.5h0.9M269.6,359.5h0.9M261.7,367.6h0.9M263.8,363.6h0.9M263.6,362.2h0.9M273.1,352.3h0.9M267.3,361.1h0.9M267.7,361.8h0.9M271.7,354.5h0.9M262.9,369.1h0.9M267.5,365.5h0.9M267.5,361.7h0.9M265.5,362.3h0.9M262.8,366.7h0.9M273.3,354.0h0.9M271.5,354.2h0.9M265.2,364.4h0.9M274.4,353.2h0.9M272.3,357.5h0.9M264.1,366.8h0.9M276.0,350.2h0.9M277.2,346.6h0.9M262.9,366.4h0.9M270.0,360.4h0.9M265.4,362.4h0.9M264.1,371.0h0.9M265.2,368.3h0.9M268.3,362.8h0.9M272.4,347.7h0.9M266.6,366.3h0.9M263.2,366.8h0.9M264.3,366.9h0.9M266.0,365.7h0.9M275.0,348.1h0.9M272.8,360.4h0.9M274.1,353.1h0.9M275.2,356.9h0.9M273.3,356.9h0.9M275.2,349.1h0.9M260.8,363.3h0.9M274.6,350.6h0.9M298.5,331.5h0.9M279.5,329.9h0.9M274.0,340.5h0.9M262.5,342.2h0.9M289.0,341.5h0.9M272.8,334.5h0.9M291.0,332.8h0.9M277.3,328.8h0.9M300.0,334.1h0.9M286.2,333.6h0.9M296.5,342.5h0.9M290.7,341.0h0.9M268.0,338.0h0.9M268.3,336.3h0.9M283.7,365.3h0.9M282.5,366.1h0.9M304.0,354.0h0.9M302.4,371.6h0.9M288.3,366.9h0.9M290.3,367.5h0.9M294.1,346.4h0.9M262.5,347.7h0.9M262.4,363.1h0.9M264.6,344.9h0.9M261.3,365.4h0.9M262.6,363.9h0.9M263.2,364.3h0.9M260.9,354.6h0.9M262.5,359.6h0.9M264.7,349.9h0.9M261.5,348.6h0.9" stroke="#000" stroke-opacity="0.5" stroke-width="0.9" fill="none"/><path d="M267.6,374.9h0.9M267.6,374.2h0.9M270.0,374.9h0.9M266.3,375.1h0.9M269.8,376.2h0.9M273.6,371.2h0.9M269.5,377.5h0.9M265.4,374.6h0.9M267.4,371.4h0.9M268.5,369.9h0.9M275.8,376.4h0.9M260.0,373.7h0.9M272.2,371.0h0.9M266.7,372.6h0.9M268.5,376.4h0.9M263.8,375.4h0.9M263.9,371.7h0.9M276.3,373.5h0.9M271.9,368.6h0.9M263.4,376.3h0.9M267.4,374.3h0.9M262.4,370.2h0.9M269.5,373.6h0.9M271.0,372.0h0.9M275.3,376.9h0.9M263.5,373.8h0.9M267.0,374.2h0.9M268.8,375.6h0.9M267.3,374.7h0.9M277.6,371.0h0.9M266.3,377.8h0.9M262.6,371.6h0.9M263.5,377.4h0.9M264.8,374.3h0.9M269.4,374.1h0.9M270.1,373.5h0.9M270.9,371.0h0.9M266.6,375.5h0.9M263.1,376.0h0.9M265.0,375.7h0.9M266.7,374.9h0.9M267.0,377.6h0.9M268.4,374.9h0.9M266.0,371.1h0.9M266.7,373.8h0.9M269.0,371.2h0.9M271.3,374.1h0.9M262.6,373.0h0.9M262.0,372.1h0.9M272.6,374.1h0.9M272.5,377.5h0.9M262.0,374.6h0.9M268.1,370.7h0.9M269.4,371.9h0.9M265.6,376.1h0.9M259.8,372.5h0.9M261.9,371.9h0.9M264.4,376.3h0.9M265.2,374.8h0.9M264.1,371.3h0.9M262.0,374.2h0.9M276.8,375.7h0.9M264.5,373.5h0.9M264.0,374.4h0.9M264.4,374.7h0.9M273.1,373.8h0.9M268.3,376.2h0.9M268.1,374.6h0.9M267.3,374.4h0.9M272.3,369.8h0.9M267.6,374.9h0.9M264.3,373.1h0.9M264.9,374.5h0.9M265.1,370.3h0.9M272.4,375.4h0.9M264.5,374.4h0.9M269.9,369.8h0.9M264.6,374.0h0.9M268.6,372.7h0.9M275.2,375.9h0.9M264.6,376.7h0.9M274.3,372.4h0.9M273.1,373.3h0.9M264.2,371.5h0.9M262.9,374.0h0.9M270.7,371.6h0.9M263.9,371.7h0.9M267.3,371.5h0.9M269.8,372.3h0.9M272.7,371.8h0.9M271.6,368.8h0.9M270.2,377.8h0.9M275.5,371.1h0.9M264.3,375.0h0.9M270.4,374.6h0.9M274.2,373.9h0.9M260.3,377.1h0.9M261.8,373.7h0.9M265.7,373.6h0.9M268.0,373.6h0.9M266.9,372.2h0.9M265.9,377.8h0.9M260.1,373.9h0.9M263.1,377.6h0.9M270.5,369.5h0.9M271.7,376.3h0.9M270.4,372.8h0.9M263.0,377.6h0.9M273.5,376.6h0.9M264.3,373.1h0.9M268.9,371.1h0.9M260.4,374.0h0.9M263.6,374.5h0.9M261.7,375.0h0.9M270.7,375.0h0.9M271.7,370.4h0.9M278.6,374.9h0.9M267.8,371.1h0.9M268.0,374.6h0.9M269.5,370.0h0.9M275.0,374.5h0.9M264.4,371.1h0.9M263.3,367.7h0.9M267.8,371.8h0.9M260.5,373.7h0.9M269.4,375.3h0.9M271.5,374.9h0.9M271.2,367.6h0.9M269.5,374.2h0.9M263.2,371.9h0.9M270.2,374.3h0.9M274.2,374.2h0.9M262.8,376.2h0.9M268.9,376.2h0.9M263.5,374.2h0.9M267.0,373.7h0.9M269.8,375.5h0.9M274.3,377.2h0.9M275.1,376.3h0.9M268.1,377.6h0.9M269.0,375.8h0.9M274.7,373.7h0.9M265.2,374.8h0.9M272.9,373.7h0.9M276.3,376.8h0.9M275.8,374.3h0.9M272.2,373.3h0.9M268.5,370.2h0.9M264.2,376.7h0.9M261.2,375.6h0.9M264.2,377.4h0.9M260.5,371.1h0.9M266.3,376.4h0.9M267.4,373.7h0.9M267.7,374.1h0.9M268.5,375.5h0.9M266.0,372.8h0.9M274.3,377.0h0.9M261.1,377.0h0.9M265.6,374.7h0.9M265.4,372.3h0.9M260.9,373.3h0.9M263.9,371.8h0.9M259.5,376.0h0.9M274.7,374.8h0.9M268.9,373.3h0.9M273.0,373.7h0.9M265.2,377.2h0.9M264.1,373.2h0.9M264.6,377.5h0.9M263.9,377.8h0.9M271.4,376.2h0.9M271.3,376.5h0.9M273.9,376.2h0.9M269.9,374.7h0.9M269.3,373.3h0.9M261.4,371.2h0.9M267.4,375.2h0.9M269.0,375.8h0.9M266.5,377.3h0.9M271.6,371.9h0.9M264.7,373.8h0.9M266.7,372.1h0.9M269.7,377.5h0.9M272.5,376.3h0.9M268.9,377.6h0.9M268.6,367.3h0.9M267.1,372.5h0.9M262.9,373.8h0.9M261.1,377.0h0.9M267.8,369.7h0.9M264.0,372.5h0.9M267.4,372.9h0.9M263.0,375.6h0.9M265.8,372.2h0.9M260.5,367.8h0.9M265.3,371.5h0.9M263.9,376.4h0.9M261.7,370.3h0.9M260.0,369.3h0.9M265.0,377.3h0.9M262.1,370.5h0.9M269.1,373.7h0.9M265.1,368.9h0.9M266.9,372.1h0.9M266.5,373.8h0.9M261.7,373.1h0.9M265.2,372.3h0.9M260.4,374.2h0.9M263.4,372.7h0.9M260.4,376.6h0.9M265.3,370.9h0.9M267.8,373.2h0.9M268.4,368.5h0.9M259.7,373.9h0.9M264.9,372.5h0.9M265.0,370.0h0.9M268.0,364.9h0.9M262.3,372.3h0.9M266.1,365.1h0.9M263.5,369.2h0.9M264.2,370.2h0.9M265.2,373.2h0.9M267.3,373.8h0.9M261.9,373.6h0.9M266.5,371.6h0.9M266.1,367.1h0.9M267.8,374.1h0.9M267.8,373.5h0.9M264.7,371.1h0.9M264.0,372.9h0.9M263.3,374.2h0.9M265.0,372.7h0.9M265.1,371.6h0.9M268.9,368.8h0.9M262.0,377.1h0.9M264.3,375.6h0.9M264.0,371.1h0.9M267.8,369.9h0.9M264.2,373.1h0.9M266.7,370.7h0.9M263.2,370.5h0.9M264.2,368.6h0.9M261.5,374.5h0.9M270.6,370.8h0.9M270.2,372.0h0.9M264.3,371.2h0.9M261.9,369.2h0.9M264.2,370.1h0.9M265.8,373.6h0.9M267.3,375.2h0.9M266.8,377.1h0.9M261.3,377.6h0.9M264.8,377.0h0.9M267.3,372.0h0.9M264.5,372.6h0.9M268.1,368.7h0.9M262.5,375.6h0.9M274.4,370.6h0.9M278.5,376.5h0.9M280.3,369.4h0.9M279.0,372.4h0.9M279.7,368.8h0.9M282.5,375.4h0.9M281.2,374.4h0.9M275.2,371.1h0.9M284.1,373.8h0.9M280.2,375.1h0.9M281.3,371.8h0.9M278.3,372.3h0.9M280.8,374.6h0.9M277.3,373.6h0.9M278.9,374.4h0.9M278.3,375.3h0.9M279.7,373.9h0.9M280.5,374.1h0.9M278.8,376.4h0.9M274.4,376.5h0.9M282.2,371.8h0.9M276.7,375.0h0.9M282.5,374.3h0.9M283.9,375.2h0.9M277.4,374.1h0.9M279.7,373.4h0.9M280.7,372.2h0.9M282.3,375.8h0.9M279.5,369.8h0.9M278.1,372.5h0.9M278.1,370.9h0.9M282.3,375.3h0.9M279.5,371.8h0.9M279.7,373.7h0.9M284.5,374.4h0.9M281.0,373.9h0.9M280.0,372.8h0.9M278.4,372.0h0.9M279.0,372.8h0.9M283.5,373.8h0.9M276.9,375.8h0.9M280.2,373.1h0.9M280.6,375.5h0.9M281.9,374.6h0.9M281.5,373.2h0.9M278.6,371.9h0.9M273.0,371.1h0.9M279.4,376.6h0.9M276.5,375.3h0.9M275.6,374.9h0.9M280.0,369.7h0.9M278.5,372.0h0.9M281.2,375.2h0.9M277.6,372.7h0.9M279.2,372.3h0.9M275.1,374.9h0.9M283.0,372.2h0.9M280.2,371.8h0.9M281.1,373.7h0.9M280.3,375.7h0.9M273.7,371.0h0.9M277.6,372.8h0.9M284.1,376.9h0.9M282.9,374.6h0.9M282.7,373.5h0.9M280.3,372.2h0.9M279.3,373.4h0.9M278.6,375.6h0.9M279.7,376.7h0.9M281.4,375.1h0.9M277.6,373.0h0.9M279.7,374.4h0.9M275.9,377.2h0.9M278.7,375.3h0.9M274.7,353.5h0.9M275.2,348.7h0.9M266.5,365.1h0.9M276.9,352.4h0.9M273.9,351.1h0.9M280.3,345.6h0.9M264.0,367.7h0.9M262.8,367.9h0.9M270.5,359.4h0.9M271.7,357.0h0.9M267.6,365.6h0.9M271.5,360.7h0.9M261.9,364.1h0.9M268.9,362.5h0.9M265.2,364.1h0.9M265.4,354.8h0.9M275.9,347.9h0.9M273.0,352.3h0.9M269.0,363.6h0.9M272.4,356.8h0.9M278.7,349.7h0.9M271.5,360.3h0.9M279.8,350.0h0.9M277.3,348.4h0.9M262.0,373.4h0.9M266.2,360.8h0.9M261.8,360.1h0.9M269.5,357.2h0.9M269.4,358.4h0.9M266.1,368.0h0.9M275.6,349.8h0.9M261.0,366.2h0.9M272.4,358.1h0.9M277.0,350.9h0.9M274.7,358.0h0.9M276.3,356.0h0.9M270.6,357.2h0.9M269.8,358.7h0.9M269.4,365.5h0.9M282.2,347.8h0.9M269.1,360.6h0.9M274.2,345.3h0.9M266.1,366.3h0.9M268.5,362.6h0.9M269.4,361.4h0.9M275.7,355.0h0.9M276.5,350.3h0.9M269.7,359.6h0.9M265.3,364.6h0.9M268.4,363.4h0.9M262.8,359.4h0.9M277.2,349.9h0.9M275.0,354.9h0.9M274.0,353.0h0.9M266.5,369.3h0.9M277.8,331.3h0.9M288.5,330.5h0.9M281.3,335.6h0.9M292.4,336.6h0.9M278.3,340.2h0.9M301.7,332.2h0.9M279.4,341.8h0.9M264.1,334.8h0.9M301.1,331.4h0.9M276.9,330.0h0.9M288.1,331.1h0.9M283.6,339.8h0.9M296.8,333.2h0.9M277.6,339.4h0.9M286.9,363.4h0.9M292.7,367.2h0.9M291.1,354.9h0.9M288.3,367.2h0.9M284.2,346.7h0.9M299.9,346.6h0.9M289.4,359.0h0.9M259.6,355.0h0.9M259.9,365.9h0.9M261.5,358.2h0.9M261.4,344.9h0.9M262.0,352.2h0.9M259.6,350.8h0.9M260.3,366.3h0.9M263.3,354.1h0.9M263.8,354.2h0.9M260.4,358.2h0.9" stroke="#000" stroke-opacity="0.5" stroke-width="0.9" fill="none"/>
<rect x="258.5" y="313.5" width="54.0" height="65.0" fill="none" stroke="#222" stroke-width="1"/>
<line x1="280.5" y1="313.5" x2="280.5" y2="378.5" stroke="#333" stroke-width="1"/>
<line x1="258.5" y1="345.5" x2="312.5" y2="345.5" stroke="#333" stroke-width="1"/>
<text x="284.2" y="310.7" font-size="7.0" text-anchor="middle" font-weight="bold">Control</text>
<text x="287.0" y="393.8" font-size="7.0" text-anchor="middle" stroke="#111" stroke-width="0.15">AnnexinV</text>
<text x="245.9" y="346.0" font-size="7.0" text-anchor="middle" stroke="#111" stroke-width="0.15" transform="rotate(-90 245.9 346.0)">PI</text>
<text x="258.5" y="385.5" font-size="4.2" text-anchor="middle" fill="#444" stroke="none">10<tspan font-size="3" dy="-1.5">0</tspan></text>
<text x="254.5" y="378.5" font-size="4.2" text-anchor="middle" fill="#444" stroke="none" transform="rotate(-90 254.5 378.5)">10<tspan font-size="3" dy="-1.5">0</tspan></text>
<line x1="258.5" y1="378.5" x2="258.5" y2="380.0" stroke="#333" stroke-width="0.6"/>
<line x1="257.0" y1="378.5" x2="258.5" y2="378.5" stroke="#333" stroke-width="0.6"/>
<text x="272.0" y="385.5" font-size="4.2" text-anchor="middle" fill="#444" stroke="none">10<tspan font-size="3" dy="-1.5">1</tspan></text>
<text x="254.5" y="362.2" font-size="4.2" text-anchor="middle" fill="#444" stroke="none" transform="rotate(-90 254.5 362.2)">10<tspan font-size="3" dy="-1.5">1</tspan></text>
<line x1="272.0" y1="378.5" x2="272.0" y2="380.0" stroke="#333" stroke-width="0.6"/>
<line x1="257.0" y1="362.25" x2="258.5" y2="362.25" stroke="#333" stroke-width="0.6"/>
<text x="285.5" y="385.5" font-size="4.2" text-anchor="middle" fill="#444" stroke="none">10<tspan font-size="3" dy="-1.5">2</tspan></text>
<text x="254.5" y="346.0" font-size="4.2" text-anchor="middle" fill="#444" stroke="none" transform="rotate(-90 254.5 346.0)">10<tspan font-size="3" dy="-1.5">2</tspan></text>
<line x1="285.5" y1="378.5" x2="285.5" y2="380.0" stroke="#333" stroke-width="0.6"/>
<line x1="257.0" y1="346.0" x2="258.5" y2="346.0" stroke="#333" stroke-width="0.6"/>
<text x="299.0" y="385.5" font-size="4.2" text-anchor="middle" fill="#444" stroke="none">10<tspan font-size="3" dy="-1.5">3</tspan></text>
<text x="254.5" y="329.8" font-size="4.2" text-anchor="middle" fill="#444" stroke="none" transform="rotate(-90 254.5 329.8)">10<tspan font-size="3" dy="-1.5">3</tspan></text>
<line x1="299.0" y1="378.5" x2="299.0" y2="380.0" stroke="#333" stroke-width="0.6"/>
<line x1="257.0" y1="329.75" x2="258.5" y2="329.75" stroke="#333" stroke-width="0.6"/>
<text x="312.5" y="385.5" font-size="4.2" text-anchor="middle" fill="#444" stroke="none">10<tspan font-size="3" dy="-1.5">4</tspan></text>
<text x="254.5" y="313.5" font-size="4.2" text-anchor="middle" fill="#444" stroke="none" transform="rotate(-90 254.5 313.5)">10<tspan font-size="3" dy="-1.5">4</tspan></text>
<line x1="312.5" y1="378.5" x2="312.5" y2="380.0" stroke="#333" stroke-width="0.6"/>
<line x1="257.0" y1="313.5" x2="258.5" y2="313.5" stroke="#333" stroke-width="0.6"/>
<path d="M275.1,469.9h0.9M260.3,469.3h0.9M270.1,470.8h0.9M259.5,471.4h0.9M271.0,468.5h0.9M265.2,467.0h0.9M265.7,474.8h0.9M271.5,470.7h0.9M263.8,471.1h0.9M263.0,469.9h0.9M271.9,472.8h0.9M267.5,471.9h0.9M269.6,472.7h0.9M261.9,472.4h0.9M261.3,470.4h0.9M270.5,472.5h0.9M277.7,467.9h0.9M260.3,473.8h0.9M267.2,473.2h0.9M260.3,473.6h0.9M266.3,469.1h0.9M268.0,473.6h0.9M268.1,473.2h0.9M266.6,473.1h0.9M264.1,468.3h0.9M272.5,470.4h0.9M259.1,474.1h0.9M266.7,472.6h0.9M261.9,467.8h0.9M269.3,474.2h0.9M272.5,471.8h0.9M260.6,472.4h0.9M264.8,467.3h0.9M269.8,472.3h0.9M264.2,467.7h0.9M264.8,467.8h0.9M265.3,472.1h0.9M271.3,474.6h0.9M267.2,474.7h0.9M260.9,471.3h0.9M260.3,467.5h0.9M266.8,467.7h0.9M262.0,474.1h0.9M272.7,467.6h0.9M262.1,474.2h0.9M261.1,464.8h0.9M263.0,469.3h0.9M262.6,474.5h0.9M267.1,469.3h0.9M265.0,475.4h0.9M267.2,472.7h0.9M269.3,472.0h0.9M260.7,472.9h0.9M265.2,471.6h0.9M271.1,471.2h0.9M263.5,472.0h0.9M266.4,473.2h0.9M270.9,466.6h0.9M262.9,470.4h0.9M261.5,472.5h0.9M265.8,474.0h0.9M272.1,473.6h0.9M261.4,469.0h0.9M269.6,469.6h0.9M264.0,469.6h0.9M267.5,471.0h0.9M261.7,472.4h0.9M267.8,475.8h0.9M263.9,474.1h0.9M263.6,474.3h0.9M263.0,471.2h0.9M268.0,465.3h0.9M263.4,468.3h0.9M261.4,474.2h0.9M264.3,471.1h0.9M266.1,467.9h0.9M267.4,474.2h0.9M262.8,472.7h0.9M259.8,467.7h0.9M271.8,472.0h0.9M265.6,470.2h0.9M266.0,471.5h0.9M265.3,474.1h0.9M259.7,471.6h0.9M260.4,471.7h0.9M271.7,472.7h0.9M262.0,473.2h0.9M260.0,470.7h0.9M260.0,469.4h0.9M266.2,469.2h0.9M269.8,469.8h0.9M264.0,472.6h0.9M264.2,473.2h0.9M269.9,472.7h0.9M269.3,468.8h0.9M259.3,471.9h0.9M268.7,468.8h0.9M272.4,469.2h0.9M271.5,474.8h0.9M267.6,471.5h0.9M266.9,468.4h0.9M269.0,475.0h0.9M259.8,467.7h0.9M275.5,470.8h0.9M265.8,472.1h0.9M261.4,472.3h0.9M267.0,474.3h0.9M264.0,473.2h0.9M270.6,469.9h0.9M261.7,474.3h0.9M260.1,468.5h0.9M267.4,473.5h0.9M266.1,473.6h0.9M266.4,470.2h0.9M264.6,474.5h0.9M267.6,471.8h0.9M265.5,472.2h0.9M266.6,473.9h0.9M265.8,473.1h0.9M261.5,471.2h0.9M267.3,468.6h0.9M266.2,471.5h0.9M262.3,472.4h0.9M268.6,472.8h0.9M270.6,471.2h0.9M273.7,469.5h0.9M265.8,471.5h0.9M270.0,474.9h0.9M263.8,468.1h0.9M265.1,472.0h0.9M265.6,473.7h0.9M264.6,473.3h0.9M266.3,472.0h0.9M269.5,471.9h0.9M266.6,473.7h0.9M268.7,475.3h0.9M271.7,469.9h0.9M271.8,470.3h0.9M263.8,468.2h0.9M264.8,470.7h0.9M264.2,473.1h0.9M273.1,463.9h0.9M260.6,472.9h0.9M259.6,467.0h0.9M265.0,465.4h0.9M261.4,474.2h0.9M269.3,465.7h0.9M266.2,470.8h0.9M266.1,475.6h0.9M268.9,474.1h0.9M260.5,469.2h0.9M271.5,470.7h0.9M259.6,469.0h0.9M266.5,469.3h0.9M264.3,464.8h0.9M263.1,470.3h0.9M269.9,475.1h0.9M260.2,470.5h0.9M259.2,475.4h0.9M271.8,469.1h0.9M266.7,469.9h0.9M266.2,469.7h0.9M264.2,471.7h0.9M261.1,473.6h0.9M262.8,466.4h0.9M269.2,471.7h0.9M271.7,467.4h0.9M266.4,466.9h0.9M265.8,467.6h0.9M268.4,466.4h0.9M267.3,462.4h0.9M275.4,459.1h0.9M268.8,471.8h0.9M263.8,467.6h0.9M270.6,459.3h0.9M270.6,466.2h0.9M271.3,467.5h0.9M268.7,460.1h0.9M271.4,472.6h0.9M270.8,466.1h0.9M268.8,467.7h0.9M266.3,475.5h0.9M267.2,469.3h0.9M271.5,461.4h0.9M265.9,463.3h0.9M268.6,466.5h0.9M271.2,464.8h0.9M269.8,468.9h0.9M275.4,468.5h0.9M261.2,463.4h0.9M269.6,466.8h0.9M272.7,469.5h0.9M268.5,466.4h0.9M268.4,464.8h0.9M268.9,467.8h0.9M267.7,471.5h0.9M277.0,467.2h0.9M268.5,467.5h0.9M270.7,464.5h0.9M270.7,468.3h0.9M268.6,466.7h0.9M270.0,466.2h0.9M263.6,472.1h0.9M266.9,460.9h0.9M264.1,465.8h0.9M266.8,468.3h0.9M270.3,461.4h0.9M263.2,465.2h0.9M270.4,472.1h0.9M272.4,464.3h0.9M266.9,466.7h0.9M265.2,469.2h0.9M269.5,469.8h0.9M273.4,473.2h0.9M275.3,466.7h0.9M270.2,468.7h0.9M269.7,461.5h0.9M266.4,468.2h0.9M269.1,464.5h0.9M270.0,464.3h0.9M275.1,460.5h0.9M270.2,463.7h0.9M274.4,462.6h0.9M266.9,467.0h0.9M272.0,459.2h0.9M267.7,462.3h0.9M268.0,460.8h0.9M269.5,458.7h0.9M266.3,466.2h0.9M276.2,446.8h0.9M271.5,458.9h0.9M262.9,460.8h0.9M274.6,448.1h0.9M267.5,456.5h0.9M274.4,453.0h0.9M264.2,463.6h0.9M277.4,449.4h0.9M274.2,462.1h0.9M275.6,450.2h0.9M271.2,460.6h0.9M274.1,454.7h0.9M276.8,451.0h0.9M270.2,459.2h0.9M263.9,466.8h0.9M267.5,459.6h0.9M276.5,453.2h0.9M280.4,448.9h0.9M274.9,450.2h0.9M266.0,462.7h0.9M279.5,446.7h0.9M271.2,459.4h0.9M262.5,466.8h0.9M273.3,468.1h0.9M285.1,451.3h0.9M274.4,451.2h0.9M274.2,460.1h0.9M270.2,459.3h0.9M271.9,460.7h0.9M278.7,448.7h0.9M269.4,467.3h0.9M262.0,458.4h0.9M272.7,451.7h0.9M266.5,461.7h0.9M269.9,464.9h0.9M264.4,464.0h0.9M276.3,454.7h0.9M272.3,454.1h0.9M276.3,456.6h0.9M271.2,460.1h0.9M275.2,455.1h0.9M264.0,464.7h0.9M271.5,460.0h0.9M269.9,461.5h0.9M278.5,455.6h0.9M278.7,452.3h0.9M270.0,458.4h0.9M265.4,461.0h0.9M263.6,461.8h0.9M275.4,450.8h0.9M273.0,459.6h0.9M271.3,455.1h0.9M266.3,459.7h0.9M270.7,448.3h0.9M266.3,461.0h0.9M265.0,470.1h0.9M278.6,453.3h0.9M267.3,460.9h0.9M266.1,463.8h0.9M278.3,449.1h0.9M265.1,464.8h0.9M271.6,448.7h0.9M264.2,466.9h0.9M279.5,447.0h0.9M269.4,462.4h0.9M274.0,458.6h0.9M269.0,461.4h0.9M276.8,446.1h0.9M265.8,467.0h0.9M273.9,455.2h0.9M261.4,463.4h0.9M268.0,459.8h0.9M270.5,450.6h0.9M273.5,450.8h0.9M267.0,461.9h0.9M267.9,457.6h0.9M277.8,442.8h0.9M270.1,463.3h0.9M272.3,454.2h0.9M268.7,454.8h0.9M270.0,457.5h0.9M279.2,445.6h0.9M269.0,466.0h0.9M267.4,462.0h0.9M265.4,459.7h0.9M275.7,454.5h0.9M273.0,454.5h0.9M276.8,447.2h0.9M275.1,460.7h0.9M277.9,449.7h0.9M260.5,467.5h0.9M273.5,462.1h0.9M277.0,451.7h0.9M264.7,462.3h0.9M265.9,461.0h0.9M280.2,451.0h0.9M267.1,462.2h0.9M266.3,467.4h0.9M287.1,446.3h0.9M290.7,450.6h0.9M289.6,443.2h0.9M295.9,451.3h0.9M296.2,451.8h0.9M288.7,453.3h0.9M288.5,448.5h0.9M292.3,454.1h0.9M288.9,449.3h0.9M284.0,452.0h0.9M287.7,451.1h0.9M289.3,446.8h0.9M282.6,452.9h0.9M287.6,450.6h0.9M285.9,451.2h0.9M290.6,451.2h0.9M286.9,454.4h0.9M291.3,448.4h0.9M289.6,450.1h0.9M289.7,451.1h0.9M288.3,454.4h0.9M292.1,449.1h0.9M288.9,449.6h0.9M291.7,449.7h0.9M286.5,453.4h0.9M293.2,453.3h0.9M285.8,450.1h0.9M288.9,444.8h0.9M286.7,450.9h0.9M291.9,449.5h0.9M293.9,449.9h0.9M288.9,445.6h0.9M294.2,443.5h0.9M291.4,455.1h0.9M292.7,444.9h0.9M289.8,454.4h0.9M290.8,457.9h0.9M288.8,449.3h0.9M289.3,442.0h0.9M289.3,450.6h0.9M287.2,447.7h0.9M285.2,453.1h0.9M290.3,450.0h0.9M289.5,453.2h0.9M287.2,444.8h0.9M291.0,453.5h0.9M287.9,455.1h0.9M290.8,449.3h0.9M288.7,449.0h0.9M289.1,452.7h0.9M289.2,450.1h0.9M291.7,450.3h0.9M291.1,453.5h0.9M288.1,453.2h0.9M292.4,447.8h0.9M287.6,451.2h0.9M290.0,451.8h0.9M282.7,456.1h0.9M289.4,449.2h0.9M287.6,449.2h0.9M292.5,447.1h0.9M289.6,455.6h0.9M292.4,453.7h0.9M293.4,450.0h0.9M289.1,444.3h0.9M290.3,447.9h0.9M293.4,450.2h0.9M284.6,447.9h0.9M286.6,448.8h0.9M288.3,444.5h0.9M291.2,453.8h0.9M291.6,451.2h0.9M287.3,448.7h0.9M284.7,454.0h0.9M289.1,453.7h0.9M288.0,447.8h0.9M287.8,458.3h0.9M291.6,452.2h0.9M287.9,450.9h0.9M284.8,452.8h0.9M287.1,448.4h0.9M289.7,450.5h0.9M292.2,453.4h0.9M292.3,451.8h0.9M285.4,448.7h0.9M289.4,452.3h0.9M286.0,447.5h0.9M289.5,448.7h0.9M289.9,453.8h0.9M287.2,447.1h0.9M293.3,447.8h0.9M288.4,450.2h0.9M291.9,449.8h0.9M291.1,450.2h0.9M285.3,451.1h0.9M289.9,447.6h0.9M286.4,453.8h0.9M286.8,452.5h0.9M290.0,449.9h0.9M295.2,455.9h0.9M294.7,450.6h0.9M289.7,453.4h0.9M290.3,451.9h0.9M289.2,450.5h0.9M291.8,448.4h0.9M290.9,450.5h0.9M290.3,450.0h0.9M292.6,452.3h0.9M289.1,449.9h0.9M289.5,452.4h0.9M287.8,450.7h0.9M288.0,451.7h0.9M289.0,456.9h0.9M285.2,454.4h0.9M292.0,450.4h0.9M290.5,450.7h0.9M288.8,450.9h0.9M291.1,451.1h0.9M289.4,449.3h0.9M293.4,455.5h0.9M263.2,435.9h0.9M281.3,442.3h0.9M293.7,439.7h0.9M281.8,440.1h0.9M288.4,445.7h0.9M284.1,435.1h0.9M285.4,438.4h0.9M287.7,436.1h0.9M273.2,440.7h0.9M277.2,433.0h0.9M277.1,438.3h0.9M293.4,446.4h0.9M297.4,438.2h0.9M289.7,437.4h0.9M278.7,436.9h0.9M287.2,434.8h0.9M284.5,442.8h0.9M286.0,439.7h0.9M285.9,432.6h0.9M298.4,438.9h0.9M293.6,432.9h0.9M275.4,441.9h0.9M295.1,437.1h0.9M282.7,444.4h0.9M286.6,434.0h0.9M288.4,428.2h0.9M281.8,431.6h0.9M269.6,445.1h0.9M288.1,440.6h0.9M278.4,435.3h0.9M289.4,446.5h0.9M284.4,434.0h0.9M293.0,447.3h0.9M287.2,445.4h0.9M285.6,441.5h0.9M288.0,430.8h0.9M280.2,435.4h0.9M288.0,437.4h0.9M288.4,439.5h0.9M285.3,435.6h0.9M296.2,441.1h0.9M281.8,438.7h0.9M268.3,432.6h0.9M267.5,435.9h0.9M270.7,439.2h0.9M276.0,437.1h0.9M288.0,444.8h0.9M269.6,424.4h0.9M268.8,437.1h0.9M284.7,441.8h0.9M279.3,438.7h0.9M283.0,442.3h0.9M280.6,439.4h0.9M280.9,428.8h0.9M283.6,442.7h0.9M280.5,443.1h0.9M295.8,428.0h0.9M287.2,442.3h0.9M279.5,470.4h0.9M274.8,471.7h0.9M287.4,473.3h0.9M284.1,473.5h0.9M287.1,471.0h0.9M284.8,474.4h0.9M287.6,472.2h0.9M299.7,473.9h0.9M292.8,467.7h0.9M273.8,472.9h0.9M270.0,467.3h0.9M285.1,470.5h0.9M280.8,472.2h0.9M287.2,471.6h0.9M277.9,471.2h0.9M294.4,474.3h0.9M271.2,471.8h0.9M289.6,472.7h0.9M285.7,471.5h0.9M281.0,470.2h0.9M282.8,471.7h0.9M279.3,470.1h0.9M284.8,469.8h0.9M280.4,471.8h0.9M280.6,472.1h0.9M284.4,470.9h0.9M283.6,471.7h0.9M290.8,469.3h0.9M282.2,472.0h0.9M286.4,469.6h0.9M281.6,471.7h0.9M287.2,472.5h0.9M282.3,471.6h0.9M279.9,472.8h0.9M284.0,473.2h0.9M278.0,470.5h0.9M282.7,468.1h0.9M283.6,471.5h0.9M278.7,471.9h0.9M279.6,472.0h0.9M280.9,472.2h0.9M277.8,473.4h0.9M283.0,470.0h0.9M284.1,474.1h0.9M287.2,473.1h0.9M279.2,471.5h0.9M286.2,470.5h0.9M289.1,470.3h0.9M279.4,470.0h0.9M262.8,454.8h0.9M278.5,445.9h0.9M263.0,457.0h0.9M264.8,464.0h0.9M259.8,446.2h0.9M271.8,448.4h0.9M274.4,453.1h0.9M261.0,466.5h0.9M273.0,446.8h0.9M268.3,466.3h0.9M274.8,444.3h0.9M277.7,458.8h0.9M271.2,446.8h0.9M276.1,454.2h0.9M273.2,451.4h0.9M274.6,441.5h0.9M267.5,445.0h0.9M270.3,448.0h0.9M270.1,452.2h0.9M272.5,451.8h0.9M269.1,458.6h0.9M262.4,458.8h0.9M265.7,466.0h0.9M266.8,463.2h0.9M260.4,460.7h0.9M269.2,454.1h0.9M261.7,466.8h0.9M278.8,463.7h0.9M261.0,462.2h0.9M279.4,461.1h0.9M276.6,447.0h0.9M279.4,458.2h0.9M262.9,441.6h0.9M271.5,449.5h0.9M268.7,454.9h0.9M267.1,446.5h0.9M277.2,445.4h0.9M266.3,458.1h0.9M267.1,460.4h0.9M267.1,460.2h0.9M264.3,463.7h0.9M266.9,456.6h0.9M277.8,459.6h0.9M279.5,466.8h0.9M279.5,459.3h0.9M286.0,458.8h0.9M285.8,441.1h0.9M296.8,455.3h0.9M288.1,435.5h0.9M303.5,444.4h0.9M290.0,437.2h0.9M280.7,447.6h0.9M297.3,462.9h0.9M287.4,432.2h0.9M300.4,459.0h0.9M294.3,446.3h0.9M294.8,461.9h0.9M303.2,434.9h0.9M303.0,457.5h0.9M293.8,446.2h0.9" stroke="#000" stroke-opacity="0.5" stroke-width="0.9" fill="none"/><path d="M266.7,472.5h0.9M262.8,471.1h0.9M261.8,472.9h0.9M265.1,472.7h0.9M264.1,465.1h0.9M259.8,473.0h0.9M264.2,470.2h0.9M259.8,471.9h0.9M268.0,467.4h0.9M269.1,474.4h0.9M268.3,472.3h0.9M268.8,472.7h0.9M265.7,466.8h0.9M263.0,469.7h0.9M262.6,471.9h0.9M265.9,472.9h0.9M265.5,475.5h0.9M266.1,472.0h0.9M265.3,474.2h0.9M263.8,471.5h0.9M262.2,470.3h0.9M268.5,468.0h0.9M271.4,474.5h0.9M272.3,475.0h0.9M262.0,474.8h0.9M272.5,469.5h0.9M270.0,469.9h0.9M275.2,466.2h0.9M260.1,473.5h0.9M264.3,469.6h0.9M262.8,471.2h0.9M262.5,464.7h0.9M265.6,465.8h0.9M262.8,465.6h0.9M272.4,468.3h0.9M268.8,475.4h0.9M261.0,467.5h0.9M265.9,468.8h0.9M261.5,472.6h0.9M259.6,472.4h0.9M262.5,469.4h0.9M263.9,474.2h0.9M264.3,473.2h0.9M259.2,473.6h0.9M265.9,469.8h0.9M264.6,466.7h0.9M262.9,473.2h0.9M272.8,468.7h0.9M267.2,474.3h0.9M265.0,475.0h0.9M267.7,469.3h0.9M259.1,472.7h0.9M263.7,471.9h0.9M268.1,473.9h0.9M273.8,474.1h0.9M267.3,468.5h0.9M267.3,473.4h0.9M263.9,468.3h0.9M262.4,473.9h0.9M266.2,462.6h0.9M259.5,469.8h0.9M268.6,466.6h0.9M274.1,471.1h0.9M261.2,473.7h0.9M267.5,470.8h0.9M265.9,467.1h0.9M266.8,475.4h0.9M266.9,470.3h0.9M266.9,469.7h0.9M264.3,469.1h0.9M268.4,475.6h0.9M267.1,474.2h0.9M265.3,474.2h0.9M269.2,471.4h0.9M263.8,468.9h0.9M263.0,467.0h0.9M259.2,471.0h0.9M262.6,474.3h0.9M269.1,469.7h0.9M266.1,471.0h0.9M270.5,473.2h0.9M268.4,470.0h0.9M269.4,472.1h0.9M268.2,474.4h0.9M266.9,467.6h0.9M271.1,471.4h0.9M272.6,470.3h0.9M265.1,468.7h0.9M269.2,471.4h0.9M268.8,475.8h0.9M259.8,474.6h0.9M262.9,472.5h0.9M261.4,470.1h0.9M264.7,471.0h0.9M262.2,471.0h0.9M267.7,471.8h0.9M262.4,471.9h0.9M259.3,468.3h0.9M265.9,474.0h0.9M268.0,465.8h0.9M266.1,469.5h0.9M262.2,472.5h0.9M259.8,467.1h0.9M262.0,470.1h0.9M260.6,468.1h0.9M270.6,473.8h0.9M263.2,471.7h0.9M266.8,475.2h0.9M263.4,473.7h0.9M265.3,469.8h0.9M261.3,471.4h0.9M262.6,474.7h0.9M267.9,473.7h0.9M272.7,472.1h0.9M266.4,469.5h0.9M266.2,469.5h0.9M273.1,469.1h0.9M267.8,467.2h0.9M265.9,470.4h0.9M271.9,471.9h0.9M264.9,474.6h0.9M265.6,470.0h0.9M268.9,472.9h0.9M262.3,473.2h0.9M269.1,472.4h0.9M260.6,469.2h0.9M268.2,472.5h0.9M262.0,467.9h0.9M268.4,472.5h0.9M270.5,470.9h0.9M265.8,469.7h0.9M267.3,468.3h0.9M264.3,473.3h0.9M263.8,470.9h0.9M260.5,475.3h0.9M261.2,472.5h0.9M267.0,472.3h0.9M264.9,470.0h0.9M261.7,471.4h0.9M264.5,471.3h0.9M267.7,470.4h0.9M267.9,469.8h0.9M264.0,467.3h0.9M270.9,473.6h0.9M272.2,471.6h0.9M264.2,467.2h0.9M267.1,475.4h0.9M264.9,472.3h0.9M260.0,471.5h0.9M266.3,470.3h0.9M262.0,469.7h0.9M272.4,474.0h0.9M261.3,470.2h0.9M263.8,467.3h0.9M261.2,473.9h0.9M266.8,471.6h0.9M266.4,469.8h0.9M260.3,469.9h0.9M264.2,470.8h0.9M270.0,472.5h0.9M272.8,473.0h0.9M262.5,473.8h0.9M268.5,474.0h0.9M269.3,473.5h0.9M268.9,470.3h0.9M270.1,469.8h0.9M267.2,472.7h0.9M267.5,472.4h0.9M270.8,463.4h0.9M273.6,463.3h0.9M270.0,466.0h0.9M267.4,464.9h0.9M270.8,471.9h0.9M270.5,467.5h0.9M268.5,471.4h0.9M270.8,464.6h0.9M270.2,468.6h0.9M268.8,464.9h0.9M268.7,469.3h0.9M267.6,465.9h0.9M270.3,467.2h0.9M271.8,468.2h0.9M266.2,471.2h0.9M275.6,466.0h0.9M269.5,462.8h0.9M272.2,465.4h0.9M266.4,471.5h0.9M272.1,468.6h0.9M270.6,462.2h0.9M270.7,472.7h0.9M271.4,464.3h0.9M267.7,463.9h0.9M264.8,467.8h0.9M275.8,463.4h0.9M275.8,468.9h0.9M272.0,469.2h0.9M269.9,469.1h0.9M273.6,463.5h0.9M273.8,465.6h0.9M266.3,466.5h0.9M267.8,465.1h0.9M267.5,468.9h0.9M270.3,471.4h0.9M268.3,467.3h0.9M272.3,462.0h0.9M276.3,467.7h0.9M264.9,465.9h0.9M271.7,474.8h0.9M273.6,463.8h0.9M269.0,463.8h0.9M270.8,462.7h0.9M268.7,473.4h0.9M274.2,466.8h0.9M269.2,463.9h0.9M268.8,467.3h0.9M274.3,466.0h0.9M275.5,465.0h0.9M269.0,462.9h0.9M270.3,464.4h0.9M277.6,459.0h0.9M270.7,463.1h0.9M271.4,467.0h0.9M268.7,460.7h0.9M273.6,461.2h0.9M267.2,468.5h0.9M272.3,473.1h0.9M271.7,463.7h0.9M263.2,468.3h0.9M264.6,462.7h0.9M284.2,449.1h0.9M268.4,463.1h0.9M275.3,453.0h0.9M261.7,456.2h0.9M265.2,464.0h0.9M275.0,458.0h0.9M275.1,458.4h0.9M278.2,453.5h0.9M270.4,463.7h0.9M270.8,459.4h0.9M261.1,463.2h0.9M268.4,459.1h0.9M273.3,451.2h0.9M274.8,446.0h0.9M268.9,462.0h0.9M268.7,450.5h0.9M273.1,449.5h0.9M281.2,451.5h0.9M273.6,455.8h0.9M272.7,451.8h0.9M277.1,455.6h0.9M272.3,448.1h0.9M276.5,458.3h0.9M269.4,467.1h0.9M271.3,454.1h0.9M273.2,454.5h0.9M276.6,454.3h0.9M267.1,463.1h0.9M270.5,461.5h0.9M272.6,464.6h0.9M265.1,460.2h0.9M268.3,462.6h0.9M277.5,458.6h0.9M269.1,457.8h0.9M269.9,459.0h0.9M271.6,447.0h0.9M265.0,466.8h0.9M280.9,453.3h0.9M273.6,450.5h0.9M262.3,464.4h0.9M268.1,462.0h0.9M266.9,472.5h0.9M268.2,459.4h0.9M274.1,458.0h0.9M277.7,448.4h0.9M276.8,450.7h0.9M276.2,451.5h0.9M273.1,454.6h0.9M272.4,453.7h0.9M278.8,449.8h0.9M263.9,465.3h0.9M279.3,447.6h0.9M263.1,468.3h0.9M269.6,450.4h0.9M268.6,466.2h0.9M277.0,447.4h0.9M271.5,454.0h0.9M278.0,449.8h0.9M271.6,459.5h0.9M272.7,456.1h0.9M272.4,458.0h0.9M271.7,461.7h0.9M268.5,460.8h0.9M277.2,455.5h0.9M279.3,455.3h0.9M273.0,453.1h0.9M266.3,461.0h0.9M282.3,449.5h0.9M267.3,471.8h0.9M275.7,451.6h0.9M273.2,456.1h0.9M282.3,454.5h0.9M265.6,463.5h0.9M273.7,458.2h0.9M276.5,452.2h0.9M262.3,456.9h0.9M263.0,461.4h0.9M276.5,450.9h0.9M271.2,451.3h0.9M281.1,451.7h0.9M266.0,462.3h0.9M263.8,468.8h0.9M266.4,464.7h0.9M273.2,453.0h0.9M275.0,462.0h0.9M277.4,448.2h0.9M262.8,466.0h0.9M268.1,455.9h0.9M270.9,453.9h0.9M280.6,447.5h0.9M270.7,458.5h0.9M268.9,457.2h0.9M266.2,461.8h0.9M273.3,458.2h0.9M280.9,450.6h0.9M279.3,448.3h0.9M267.0,470.8h0.9M279.6,448.0h0.9M284.1,451.1h0.9M285.9,452.4h0.9M290.2,451.2h0.9M290.9,451.1h0.9M292.2,452.0h0.9M291.9,449.1h0.9M288.6,448.1h0.9M285.7,450.0h0.9M287.0,447.7h0.9M289.2,448.8h0.9M287.2,445.5h0.9M293.0,457.6h0.9M290.4,452.0h0.9M288.9,455.5h0.9M289.4,452.7h0.9M293.2,447.1h0.9M288.4,453.1h0.9M288.7,447.2h0.9M288.6,446.6h0.9M290.2,446.3h0.9M289.2,449.2h0.9M287.5,452.7h0.9M291.2,453.1h0.9M295.0,451.4h0.9M292.0,450.8h0.9M285.4,449.9h0.9M290.0,447.5h0.9M288.6,453.1h0.9M291.0,454.8h0.9M286.9,456.0h0.9M293.0,452.3h0.9M292.8,451.0h0.9M289.5,451.5h0.9M286.4,450.5h0.9M290.3,455.8h0.9M286.9,453.1h0.9M291.8,450.7h0.9M288.8,455.1h0.9M289.8,452.8h0.9M290.9,451.4h0.9M291.2,446.4h0.9M287.6,450.2h0.9M288.1,449.3h0.9M289.5,447.2h0.9M291.3,450.7h0.9M289.3,451.9h0.9M292.9,453.9h0.9M292.5,452.0h0.9M291.8,452.7h0.9M285.5,447.7h0.9M290.1,447.9h0.9M286.8,446.1h0.9M291.5,449.5h0.9M286.1,450.2h0.9M288.9,448.5h0.9M293.2,451.4h0.9M291.0,452.9h0.9M291.4,454.8h0.9M293.4,445.5h0.9M293.2,449.2h0.9M286.3,452.5h0.9M293.9,451.3h0.9M292.3,447.9h0.9M290.5,450.9h0.9M288.6,449.2h0.9M290.7,452.1h0.9M289.5,454.8h0.9M288.6,450.6h0.9M288.4,448.9h0.9M288.0,451.9h0.9M290.1,452.9h0.9M286.7,448.5h0.9M289.1,454.5h0.9M291.5,448.0h0.9M292.6,453.3h0.9M288.5,455.2h0.9M290.2,454.7h0.9M291.6,453.1h0.9M285.2,452.4h0.9M289.9,446.3h0.9M285.8,449.7h0.9M288.9,451.2h0.9M290.5,449.1h0.9M286.5,450.5h0.9M292.1,452.6h0.9M289.9,447.5h0.9M290.4,454.2h0.9M290.3,443.9h0.9M288.1,445.6h0.9M290.0,451.6h0.9M290.1,451.8h0.9M285.6,449.5h0.9M291.2,453.9h0.9M292.3,453.2h0.9M287.1,452.7h0.9M293.9,451.7h0.9M291.4,456.9h0.9M288.3,455.3h0.9M288.9,452.7h0.9M292.9,447.6h0.9M290.8,452.8h0.9M289.6,453.3h0.9M291.7,450.8h0.9M286.4,445.6h0.9M290.4,448.4h0.9M289.9,448.5h0.9M289.1,452.0h0.9M293.6,445.3h0.9M294.1,450.4h0.9M289.8,447.1h0.9M293.5,448.0h0.9M288.3,451.0h0.9M296.2,449.4h0.9M289.2,450.3h0.9M290.8,455.8h0.9M295.7,449.1h0.9M291.3,447.8h0.9M288.5,449.6h0.9M289.5,450.2h0.9M286.1,454.1h0.9M279.6,439.1h0.9M283.9,446.1h0.9M282.6,442.3h0.9M294.8,445.7h0.9M285.5,440.0h0.9M285.6,430.9h0.9M283.8,437.9h0.9M286.0,451.0h0.9M280.2,446.7h0.9M280.2,434.3h0.9M287.0,444.8h0.9M295.2,440.2h0.9M272.9,428.5h0.9M283.0,436.0h0.9M290.3,441.3h0.9M291.3,437.9h0.9M291.4,433.3h0.9M267.5,435.0h0.9M281.8,437.6h0.9M276.5,439.3h0.9M296.8,431.3h0.9M285.4,442.5h0.9M282.1,439.8h0.9M286.7,445.1h0.9M286.3,439.0h0.9M284.9,439.4h0.9M296.3,439.7h0.9M279.6,445.2h0.9M297.3,437.7h0.9M265.1,430.9h0.9M282.9,438.6h0.9M281.7,444.1h0.9M285.2,432.7h0.9M300.1,440.8h0.9M291.1,439.5h0.9M290.8,439.6h0.9M274.5,445.3h0.9M285.4,442.5h0.9M279.2,445.0h0.9M296.9,439.2h0.9M294.3,438.9h0.9M289.2,438.3h0.9M287.3,442.9h0.9M282.5,436.7h0.9M284.3,436.5h0.9M286.7,437.3h0.9M290.1,436.5h0.9M291.7,435.7h0.9M282.0,438.8h0.9M287.1,442.3h0.9M284.5,435.6h0.9M282.0,430.8h0.9M283.5,433.2h0.9M290.4,436.1h0.9M278.4,437.1h0.9M287.0,437.1h0.9M285.2,440.3h0.9M274.3,471.0h0.9M281.3,470.2h0.9M282.6,474.1h0.9M272.3,472.0h0.9M280.3,470.3h0.9M278.0,475.4h0.9M284.6,470.2h0.9M287.3,472.0h0.9M284.3,474.2h0.9M295.3,474.0h0.9M292.3,471.2h0.9M271.7,474.0h0.9M285.5,472.9h0.9M287.4,473.4h0.9M277.2,473.1h0.9M285.8,474.4h0.9M281.5,469.9h0.9M280.1,472.9h0.9M277.9,472.6h0.9M280.0,468.9h0.9M279.1,470.3h0.9M289.4,473.4h0.9M283.8,470.8h0.9M286.6,472.1h0.9M283.9,474.7h0.9M281.4,473.4h0.9M286.6,470.7h0.9M288.2,471.8h0.9M272.8,475.0h0.9M278.9,471.2h0.9M276.9,472.5h0.9M286.5,471.3h0.9M291.0,474.2h0.9M285.1,471.2h0.9M275.6,472.1h0.9M282.9,471.7h0.9M283.2,475.0h0.9M279.1,475.2h0.9M274.6,473.5h0.9M277.2,469.9h0.9M279.8,469.9h0.9M282.0,475.6h0.9M280.1,468.4h0.9M293.8,471.8h0.9M281.8,472.9h0.9M282.2,470.5h0.9M277.2,472.6h0.9M281.4,472.7h0.9M278.0,473.1h0.9M269.7,457.3h0.9M265.4,465.9h0.9M261.0,453.0h0.9M261.1,441.3h0.9M263.5,453.4h0.9M278.8,461.3h0.9M277.3,441.6h0.9M265.8,465.6h0.9M269.4,441.9h0.9M269.4,453.7h0.9M273.5,455.6h0.9M276.1,447.4h0.9M274.2,450.0h0.9M275.6,444.5h0.9M273.1,462.5h0.9M263.2,443.6h0.9M265.9,460.1h0.9M265.6,465.9h0.9M260.1,456.1h0.9M275.6,443.3h0.9M263.8,446.6h0.9M259.6,457.5h0.9M279.9,449.8h0.9M265.9,447.4h0.9M279.8,444.9h0.9M273.0,459.6h0.9M266.5,463.0h0.9M273.1,453.5h0.9M261.2,451.0h0.9M271.2,442.5h0.9M276.9,453.1h0.9M265.2,452.7h0.9M279.3,450.2h0.9M277.1,465.4h0.9M275.2,463.2h0.9M267.5,451.8h0.9M278.6,458.1h0.9M276.5,453.9h0.9M266.7,456.8h0.9M261.8,443.7h0.9M279.5,444.4h0.9M274.7,464.9h0.9M270.4,454.1h0.9M262.9,455.3h0.9M277.8,466.0h0.9M296.1,466.0h0.9M280.8,436.0h0.9M289.7,444.9h0.9M287.5,454.3h0.9M303.5,462.9h0.9M281.2,440.3h0.9M296.0,468.9h0.9M298.5,463.9h0.9M295.9,433.4h0.9M304.2,455.7h0.9M286.1,463.7h0.9M297.1,439.7h0.9M295.2,461.2h0.9M287.4,432.0h0.9M288.1,465.1h0.9" stroke="#000" stroke-opacity="0.5" stroke-width="0.9" fill="none"/><path d="M268.6,467.5h0.9M261.1,473.4h0.9M266.0,472.2h0.9M263.9,473.6h0.9M265.6,466.4h0.9M268.9,469.9h0.9M267.8,470.6h0.9M261.6,468.6h0.9M267.3,470.9h0.9M266.9,470.1h0.9M266.0,470.3h0.9M259.6,468.5h0.9M270.9,468.9h0.9M268.8,474.1h0.9M268.2,471.4h0.9M267.5,472.4h0.9M259.5,468.0h0.9M263.2,472.9h0.9M260.2,471.6h0.9M260.4,473.9h0.9M269.1,471.7h0.9M269.7,472.4h0.9M261.2,474.3h0.9M264.6,471.4h0.9M266.0,469.6h0.9M264.1,474.2h0.9M265.8,470.7h0.9M263.6,470.7h0.9M269.1,474.6h0.9M268.8,469.8h0.9M264.0,472.3h0.9M263.6,468.5h0.9M259.7,474.7h0.9M260.3,467.3h0.9M271.4,475.5h0.9M262.0,473.0h0.9M263.2,474.2h0.9M261.5,467.0h0.9M270.5,472.3h0.9M266.5,471.4h0.9M266.0,470.8h0.9M262.0,472.6h0.9M262.5,472.5h0.9M268.4,470.8h0.9M267.2,467.8h0.9M271.9,466.5h0.9M268.9,471.2h0.9M265.3,468.6h0.9M266.7,471.4h0.9M265.1,474.4h0.9M265.4,470.3h0.9M260.3,469.6h0.9M260.9,465.6h0.9M266.1,473.6h0.9M265.2,475.7h0.9M261.3,466.1h0.9M267.8,472.8h0.9M267.2,471.1h0.9M260.8,473.4h0.9M263.0,467.6h0.9M260.0,468.3h0.9M264.0,471.5h0.9M261.5,472.6h0.9M264.1,468.6h0.9M262.3,475.5h0.9M266.0,468.6h0.9M266.7,475.4h0.9M260.2,468.9h0.9M273.7,472.5h0.9M260.8,473.2h0.9M263.9,472.8h0.9M274.6,470.4h0.9M270.9,473.8h0.9M260.8,472.5h0.9M263.0,471.9h0.9M265.2,472.7h0.9M269.4,474.5h0.9M270.2,470.0h0.9M265.9,471.9h0.9M259.2,470.9h0.9M272.9,470.8h0.9M266.7,471.2h0.9M261.5,472.0h0.9M260.9,472.8h0.9M268.0,475.7h0.9M262.0,471.0h0.9M264.2,471.5h0.9M264.9,467.4h0.9M259.5,468.4h0.9M262.4,469.4h0.9M266.9,465.4h0.9M268.8,470.9h0.9M269.1,470.3h0.9M262.6,475.2h0.9M263.0,470.8h0.9M264.4,469.8h0.9M260.9,474.0h0.9M267.0,473.7h0.9M273.8,472.4h0.9M267.2,472.7h0.9M273.9,473.2h0.9M268.8,472.7h0.9M267.1,472.3h0.9M271.7,470.6h0.9M269.6,467.9h0.9M267.1,471.6h0.9M270.1,470.2h0.9M259.6,474.5h0.9M271.1,470.7h0.9M266.5,471.3h0.9M261.8,472.0h0.9M263.4,474.0h0.9M264.5,472.2h0.9M262.2,473.9h0.9M260.7,473.9h0.9M260.3,470.2h0.9M263.2,472.4h0.9M269.6,471.7h0.9M263.7,470.0h0.9M267.4,465.4h0.9M264.9,472.7h0.9M263.4,474.4h0.9M269.6,471.5h0.9M260.1,475.3h0.9M271.2,471.3h0.9M265.4,472.3h0.9M270.7,472.5h0.9M262.3,473.3h0.9M265.2,474.4h0.9M262.8,470.0h0.9M268.9,474.3h0.9M262.9,469.8h0.9M261.8,470.1h0.9M268.2,474.6h0.9M262.3,472.9h0.9M274.5,472.1h0.9M269.2,474.7h0.9M273.2,468.2h0.9M266.1,466.3h0.9M267.0,472.1h0.9M265.5,465.6h0.9M262.3,470.8h0.9M262.8,465.7h0.9M260.7,471.5h0.9M270.9,467.9h0.9M269.0,475.5h0.9M263.9,473.1h0.9M265.9,474.5h0.9M275.2,470.0h0.9M268.3,475.2h0.9M270.7,471.4h0.9M265.5,473.1h0.9M262.7,475.6h0.9M264.8,472.3h0.9M268.2,471.4h0.9M268.2,470.2h0.9M259.5,472.3h0.9M261.1,473.3h0.9M260.9,473.8h0.9M267.2,470.6h0.9M271.2,471.2h0.9M265.9,472.0h0.9M267.7,473.9h0.9M268.3,475.1h0.9M261.5,472.0h0.9M269.7,469.5h0.9M270.7,469.4h0.9M271.8,464.7h0.9M273.7,465.4h0.9M267.8,466.5h0.9M271.3,461.1h0.9M264.8,465.1h0.9M274.4,467.3h0.9M267.6,465.7h0.9M267.0,462.6h0.9M272.4,472.1h0.9M269.7,464.5h0.9M273.1,470.6h0.9M272.7,472.7h0.9M270.6,474.1h0.9M265.8,466.9h0.9M265.6,465.8h0.9M270.3,465.3h0.9M265.6,471.4h0.9M271.2,463.0h0.9M270.6,468.0h0.9M273.7,467.5h0.9M269.9,465.1h0.9M269.9,467.8h0.9M266.7,468.7h0.9M268.2,470.4h0.9M270.6,473.7h0.9M269.0,470.7h0.9M270.0,468.2h0.9M272.4,475.2h0.9M271.2,467.9h0.9M273.3,467.6h0.9M270.5,464.1h0.9M276.8,471.1h0.9M268.2,462.0h0.9M268.6,466.3h0.9M271.5,465.5h0.9M269.5,469.8h0.9M266.3,459.3h0.9M270.3,465.9h0.9M265.4,465.1h0.9M270.9,463.7h0.9M265.2,467.5h0.9M267.2,466.4h0.9M270.4,468.2h0.9M268.9,462.3h0.9M269.5,468.9h0.9M269.5,463.0h0.9M266.9,469.6h0.9M266.2,465.7h0.9M273.7,463.5h0.9M273.7,466.2h0.9M273.6,466.0h0.9M273.3,464.5h0.9M272.9,471.0h0.9M269.6,465.9h0.9M268.9,470.1h0.9M271.3,473.3h0.9M272.6,474.0h0.9M270.1,469.4h0.9M267.2,468.1h0.9M266.1,465.4h0.9M262.3,464.3h0.9M270.4,456.4h0.9M264.9,463.0h0.9M279.8,447.8h0.9M267.0,463.0h0.9M264.0,464.7h0.9M261.6,462.8h0.9M275.1,456.5h0.9M267.5,460.3h0.9M273.2,466.7h0.9M266.5,465.0h0.9M270.3,458.3h0.9M272.2,454.6h0.9M273.3,468.2h0.9M262.6,474.0h0.9M281.3,449.6h0.9M277.4,451.7h0.9M272.6,459.5h0.9M275.9,460.2h0.9M268.4,462.2h0.9M274.9,456.2h0.9M271.4,457.8h0.9M270.6,457.9h0.9M265.5,461.5h0.9M260.9,464.8h0.9M275.0,448.0h0.9M274.7,453.5h0.9M271.3,454.4h0.9M270.3,457.3h0.9M278.8,455.8h0.9M271.3,459.0h0.9M266.6,462.1h0.9M272.6,453.4h0.9M273.9,456.0h0.9M267.1,464.3h0.9M274.2,457.9h0.9M263.5,468.7h0.9M266.8,459.6h0.9M274.6,449.8h0.9M273.7,453.3h0.9M268.6,459.1h0.9M275.5,456.4h0.9M274.1,457.7h0.9M268.7,461.5h0.9M268.6,456.5h0.9M278.3,453.4h0.9M262.4,462.8h0.9M266.1,462.1h0.9M269.4,463.1h0.9M273.9,468.8h0.9M266.6,450.8h0.9M267.2,464.0h0.9M267.2,453.5h0.9M283.8,450.2h0.9M282.5,450.6h0.9M270.7,457.3h0.9M275.0,457.1h0.9M272.9,453.4h0.9M263.8,466.2h0.9M267.1,467.6h0.9M269.6,459.6h0.9M277.0,449.1h0.9M278.2,453.2h0.9M275.4,458.4h0.9M269.5,457.8h0.9M276.7,443.0h0.9M271.9,454.8h0.9M273.8,456.8h0.9M278.7,447.3h0.9M278.8,453.1h0.9M268.2,454.8h0.9M271.8,461.3h0.9M271.8,462.8h0.9M271.1,452.8h0.9M262.9,462.7h0.9M270.8,450.9h0.9M264.6,466.6h0.9M268.5,456.8h0.9M266.9,458.0h0.9M266.2,461.4h0.9M267.7,461.1h0.9M275.5,450.7h0.9M279.4,451.5h0.9M274.4,461.8h0.9M277.2,449.2h0.9M265.3,461.3h0.9M280.9,448.3h0.9M273.5,449.0h0.9M278.5,450.5h0.9M269.6,454.6h0.9M261.7,464.9h0.9M270.8,457.5h0.9M264.9,467.3h0.9M274.5,450.1h0.9M274.6,455.6h0.9M276.9,448.5h0.9M274.2,451.3h0.9M277.6,448.1h0.9M277.2,444.7h0.9M280.7,452.4h0.9M289.1,446.4h0.9M291.6,446.0h0.9M290.3,450.3h0.9M287.1,450.9h0.9M289.9,452.7h0.9M290.7,452.2h0.9M297.6,454.2h0.9M293.5,452.5h0.9M290.0,457.1h0.9M285.2,454.5h0.9M287.2,455.5h0.9M291.6,451.5h0.9M292.1,451.1h0.9M293.3,450.9h0.9M289.9,450.7h0.9M283.2,449.7h0.9M289.9,451.0h0.9M289.4,454.0h0.9M297.1,453.8h0.9M290.1,451.9h0.9M288.5,450.1h0.9M285.4,452.7h0.9M287.9,451.3h0.9M289.2,451.3h0.9M284.0,445.0h0.9M285.6,450.3h0.9M292.7,447.4h0.9M286.9,444.6h0.9M287.2,449.7h0.9M282.7,446.7h0.9M286.5,451.3h0.9M287.9,451.3h0.9M288.7,451.4h0.9M291.4,458.2h0.9M288.3,452.0h0.9M290.2,446.0h0.9M287.6,453.5h0.9M291.1,450.4h0.9M292.7,450.3h0.9M290.5,450.0h0.9M290.0,449.0h0.9M290.6,450.4h0.9M289.4,450.1h0.9M287.6,453.0h0.9M286.3,451.3h0.9M288.5,446.3h0.9M291.8,450.2h0.9M288.7,451.8h0.9M287.8,452.5h0.9M291.0,449.1h0.9M289.8,444.9h0.9M293.7,452.0h0.9M288.6,451.7h0.9M289.5,450.5h0.9M291.8,451.3h0.9M294.1,453.4h0.9M287.8,452.8h0.9M291.6,448.7h0.9M289.4,453.1h0.9M292.1,448.4h0.9M289.6,449.0h0.9M290.3,451.1h0.9M291.6,456.7h0.9M293.7,457.6h0.9M290.0,450.2h0.9M290.9,453.6h0.9M291.3,450.9h0.9M287.6,444.4h0.9M287.1,449.9h0.9M289.8,453.4h0.9M287.1,454.3h0.9M290.1,453.4h0.9M291.9,453.3h0.9M291.3,446.6h0.9M285.8,451.0h0.9M291.5,457.4h0.9M295.0,453.9h0.9M290.5,450.1h0.9M287.2,451.5h0.9M288.2,450.2h0.9M289.7,454.1h0.9M292.9,448.3h0.9M289.9,449.4h0.9M293.6,447.9h0.9M288.0,453.7h0.9M286.3,450.4h0.9M288.7,451.0h0.9M291.7,451.9h0.9M288.7,449.5h0.9M287.5,446.5h0.9M290.3,450.2h0.9M289.0,451.6h0.9M289.0,451.7h0.9M289.7,444.1h0.9M289.9,450.1h0.9M293.5,451.4h0.9M295.6,451.9h0.9M291.3,450.6h0.9M289.7,449.0h0.9M289.5,448.5h0.9M288.1,448.1h0.9M286.3,447.6h0.9M288.1,449.0h0.9M287.8,453.2h0.9M290.9,453.0h0.9M282.5,456.6h0.9M292.4,447.6h0.9M290.3,450.2h0.9M285.1,448.9h0.9M287.2,446.7h0.9M289.5,453.0h0.9M289.4,452.1h0.9M289.3,455.7h0.9M292.6,452.6h0.9M284.1,453.1h0.9M288.7,449.9h0.9M291.6,449.2h0.9M292.7,447.0h0.9M293.5,451.0h0.9M291.4,449.3h0.9M288.9,429.4h0.9M288.9,435.0h0.9M297.9,447.0h0.9M278.7,438.5h0.9M287.0,444.5h0.9M283.3,439.2h0.9M285.4,438.0h0.9M282.4,436.0h0.9M287.9,438.7h0.9M276.0,442.9h0.9M286.0,434.3h0.9M290.3,431.5h0.9M294.8,443.3h0.9M291.4,439.0h0.9M289.8,432.4h0.9M293.6,432.4h0.9M279.9,434.4h0.9M288.2,438.1h0.9M281.2,441.3h0.9M284.2,439.8h0.9M277.0,437.1h0.9M291.5,438.8h0.9M293.0,441.9h0.9M281.2,428.6h0.9M289.4,441.2h0.9M276.4,436.5h0.9M298.3,440.9h0.9M287.3,438.1h0.9M300.8,438.2h0.9M288.3,440.9h0.9M291.0,437.8h0.9M281.0,432.7h0.9M289.7,439.8h0.9M284.5,447.9h0.9M280.6,438.0h0.9M280.9,441.3h0.9M277.4,430.7h0.9M276.7,433.8h0.9M278.5,438.0h0.9M293.5,444.8h0.9M277.9,443.4h0.9M282.1,437.7h0.9M287.4,440.3h0.9M291.0,436.9h0.9M274.5,432.4h0.9M279.9,442.3h0.9M277.5,435.8h0.9M280.4,432.2h0.9M276.1,442.0h0.9M289.2,434.0h0.9M282.5,436.9h0.9M285.1,433.4h0.9M286.4,427.5h0.9M284.1,444.5h0.9M292.2,440.4h0.9M283.4,439.0h0.9M276.2,432.4h0.9M290.0,468.5h0.9M286.4,471.0h0.9M275.1,471.1h0.9M280.4,471.0h0.9M287.5,470.5h0.9M279.2,470.4h0.9M290.0,472.1h0.9M281.6,471.0h0.9M282.1,474.9h0.9M285.3,472.8h0.9M285.4,475.6h0.9M284.3,468.8h0.9M282.6,471.4h0.9M283.8,471.3h0.9M279.2,472.9h0.9M285.4,472.2h0.9M278.4,471.3h0.9M274.8,467.4h0.9M288.0,470.8h0.9M295.9,471.4h0.9M276.1,472.5h0.9M274.9,473.3h0.9M278.6,472.1h0.9M285.3,473.1h0.9M284.3,469.0h0.9M290.4,469.6h0.9M281.9,474.0h0.9M291.4,471.2h0.9M290.7,471.9h0.9M286.7,471.2h0.9M278.4,471.8h0.9M285.7,475.2h0.9M284.0,473.8h0.9M285.4,470.6h0.9M284.7,472.3h0.9M281.8,471.3h0.9M265.6,472.4h0.9M282.7,473.3h0.9M284.3,468.5h0.9M281.9,472.2h0.9M278.0,470.3h0.9M275.0,473.4h0.9M281.6,472.1h0.9M287.8,471.2h0.9M293.7,472.2h0.9M281.1,472.0h0.9M285.1,472.2h0.9M274.7,472.1h0.9M282.3,472.4h0.9M259.6,444.5h0.9M272.9,462.5h0.9M265.7,448.8h0.9M279.1,449.6h0.9M269.0,454.8h0.9M261.9,461.2h0.9M262.3,454.0h0.9M261.6,451.6h0.9M265.6,453.8h0.9M261.4,443.2h0.9M272.6,462.0h0.9M272.8,460.8h0.9M264.5,451.9h0.9M261.2,458.1h0.9M261.6,442.5h0.9M267.8,452.6h0.9M277.1,458.7h0.9M272.2,465.0h0.9M276.3,463.5h0.9M275.0,464.7h0.9M266.0,448.5h0.9M261.6,466.2h0.9M273.3,452.4h0.9M267.4,460.9h0.9M271.9,454.9h0.9M261.5,466.3h0.9M267.6,461.5h0.9M264.7,461.2h0.9M273.1,462.1h0.9M268.1,461.3h0.9M274.4,458.3h0.9M273.9,459.8h0.9M273.8,449.3h0.9M270.9,466.9h0.9M268.8,453.9h0.9M263.1,465.5h0.9M276.7,455.8h0.9M266.6,451.6h0.9M266.0,464.0h0.9M268.3,459.1h0.9M278.1,455.0h0.9M271.4,463.7h0.9M263.6,451.1h0.9M269.0,456.4h0.9M266.0,447.8h0.9M303.0,448.0h0.9M303.0,456.9h0.9M289.4,455.6h0.9M290.9,432.3h0.9M285.3,432.8h0.9M301.9,436.6h0.9M283.5,467.7h0.9M286.5,435.0h0.9M285.9,439.1h0.9M286.7,459.9h0.9M297.5,451.0h0.9M298.6,449.6h0.9M288.1,452.2h0.9M298.2,457.3h0.9M299.8,449.7h0.9" stroke="#000" stroke-opacity="0.5" stroke-width="0.9" fill="none"/><path d="M263.2,469.6h0.9M262.6,461.8h0.9M261.3,472.6h0.9M263.7,470.2h0.9M267.5,471.6h0.9M264.2,468.4h0.9M268.1,470.6h0.9M263.9,474.0h0.9M264.9,470.9h0.9M269.0,472.6h0.9M264.0,472.6h0.9M267.9,473.9h0.9M269.4,468.2h0.9M266.6,470.8h0.9M261.4,470.0h0.9M270.0,474.6h0.9M264.1,469.6h0.9M264.5,469.7h0.9M271.8,470.8h0.9M265.8,473.3h0.9M271.5,472.6h0.9M260.8,474.0h0.9M265.1,468.8h0.9M260.9,467.4h0.9M260.1,471.4h0.9M261.6,472.2h0.9M267.7,474.7h0.9M264.1,474.2h0.9M271.9,470.4h0.9M263.7,468.9h0.9M267.2,475.5h0.9M268.7,471.3h0.9M271.0,471.4h0.9M275.3,472.8h0.9M265.3,469.9h0.9M260.5,470.6h0.9M264.0,472.0h0.9M266.5,470.7h0.9M269.0,471.4h0.9M266.6,469.6h0.9M262.1,469.7h0.9M271.1,475.8h0.9M261.6,473.0h0.9M267.6,473.4h0.9M269.5,470.3h0.9M265.2,463.1h0.9M265.7,472.6h0.9M261.9,471.4h0.9M266.8,473.7h0.9M262.0,470.2h0.9M261.7,470.0h0.9M273.2,471.6h0.9M268.2,473.3h0.9M264.1,470.8h0.9M262.8,471.4h0.9M268.2,474.9h0.9M260.6,475.1h0.9M271.3,475.7h0.9M267.1,468.2h0.9M270.4,472.8h0.9M263.5,468.5h0.9M265.7,473.5h0.9M263.9,469.6h0.9M263.8,470.6h0.9M260.9,474.5h0.9M261.2,472.9h0.9M261.6,470.8h0.9M269.9,468.8h0.9M266.2,474.6h0.9M265.4,471.5h0.9M261.9,469.1h0.9M269.0,469.0h0.9M268.9,475.4h0.9M265.6,474.2h0.9M259.8,471.8h0.9M262.7,472.2h0.9M270.5,474.5h0.9M270.9,475.5h0.9M271.4,472.3h0.9M260.8,473.3h0.9M263.3,469.7h0.9M263.7,471.3h0.9M264.2,471.2h0.9M270.5,471.3h0.9M267.8,474.2h0.9M260.5,473.3h0.9M270.3,471.3h0.9M267.1,471.6h0.9M263.6,469.2h0.9M266.6,469.0h0.9M261.9,467.9h0.9M259.4,468.8h0.9M265.7,472.4h0.9M274.2,466.9h0.9M261.6,472.6h0.9M262.2,470.8h0.9M263.2,473.6h0.9M264.9,471.9h0.9M262.8,472.3h0.9M263.3,472.1h0.9M266.1,475.2h0.9M265.5,470.2h0.9M270.9,475.4h0.9M266.8,475.9h0.9M271.4,471.5h0.9M269.0,465.9h0.9M265.5,469.7h0.9M266.9,469.5h0.9M271.3,473.3h0.9M268.5,467.6h0.9M260.7,472.9h0.9M272.4,469.5h0.9M259.2,474.3h0.9M266.9,474.1h0.9M269.0,467.5h0.9M261.6,470.7h0.9M267.7,468.8h0.9M273.9,470.8h0.9M265.3,471.1h0.9M270.2,470.4h0.9M261.8,469.8h0.9M271.0,470.8h0.9M261.0,466.1h0.9M269.4,475.7h0.9M265.2,468.4h0.9M269.2,467.5h0.9M273.3,469.1h0.9M272.0,467.5h0.9M263.8,470.2h0.9M261.8,465.9h0.9M266.1,474.1h0.9M266.7,464.0h0.9M270.9,471.0h0.9M261.1,469.7h0.9M263.0,474.4h0.9M267.0,472.5h0.9M259.9,469.5h0.9M265.8,470.9h0.9M265.4,469.3h0.9M272.8,470.9h0.9M266.4,473.8h0.9M267.9,469.3h0.9M266.6,469.0h0.9M267.6,473.8h0.9M269.9,468.1h0.9M267.7,472.8h0.9M260.0,473.7h0.9M269.3,465.2h0.9M269.3,472.8h0.9M267.0,473.5h0.9M263.9,471.2h0.9M265.7,468.4h0.9M265.1,474.5h0.9M269.1,467.7h0.9M267.5,472.2h0.9M268.4,470.6h0.9M265.5,469.5h0.9M263.0,471.8h0.9M266.9,469.9h0.9M265.3,471.6h0.9M265.7,468.9h0.9M262.0,465.7h0.9M271.3,471.0h0.9M266.8,469.1h0.9M261.5,466.2h0.9M274.4,464.3h0.9M271.6,466.4h0.9M269.2,471.1h0.9M273.7,467.6h0.9M272.1,469.2h0.9M268.7,462.6h0.9M267.9,460.9h0.9M269.4,458.5h0.9M266.9,470.1h0.9M267.2,464.7h0.9M267.5,467.9h0.9M267.9,469.6h0.9M266.9,471.5h0.9M266.3,466.8h0.9M270.5,470.8h0.9M278.6,466.9h0.9M269.6,466.3h0.9M265.5,468.2h0.9M267.1,463.5h0.9M270.0,458.4h0.9M267.5,468.8h0.9M273.7,472.2h0.9M272.7,467.6h0.9M269.9,464.1h0.9M266.2,470.3h0.9M265.9,463.3h0.9M274.9,465.6h0.9M267.7,468.0h0.9M276.3,467.9h0.9M267.5,471.1h0.9M261.1,462.3h0.9M273.6,469.2h0.9M269.5,461.1h0.9M268.0,474.6h0.9M266.8,471.9h0.9M270.3,469.9h0.9M264.5,466.3h0.9M275.5,469.7h0.9M268.0,465.8h0.9M270.7,467.3h0.9M275.8,465.5h0.9M271.0,464.8h0.9M271.0,467.9h0.9M265.3,466.9h0.9M266.7,469.9h0.9M273.2,465.8h0.9M266.4,465.5h0.9M267.9,465.9h0.9M274.5,469.0h0.9M268.2,459.4h0.9M274.0,463.9h0.9M271.0,469.4h0.9M274.3,467.2h0.9M274.7,465.3h0.9M273.9,473.6h0.9M273.6,469.9h0.9M274.5,463.6h0.9M266.3,464.2h0.9M269.3,466.6h0.9M267.0,466.0h0.9M272.2,471.7h0.9M270.0,467.3h0.9M270.8,458.6h0.9M272.2,451.7h0.9M268.8,455.4h0.9M276.7,445.5h0.9M283.8,446.8h0.9M275.4,450.9h0.9M273.5,455.6h0.9M274.2,457.5h0.9M271.1,459.3h0.9M270.4,456.0h0.9M261.0,467.0h0.9M283.3,439.6h0.9M278.3,452.7h0.9M269.5,458.9h0.9M272.2,449.5h0.9M276.2,450.2h0.9M266.6,457.8h0.9M271.9,456.1h0.9M272.4,451.9h0.9M265.6,464.9h0.9M273.8,453.0h0.9M273.3,453.7h0.9M270.4,451.3h0.9M269.9,455.3h0.9M275.4,451.6h0.9M276.7,449.3h0.9M262.4,460.3h0.9M277.1,444.7h0.9M269.9,462.0h0.9M266.0,457.3h0.9M281.4,445.7h0.9M264.4,469.1h0.9M266.9,462.5h0.9M271.2,459.0h0.9M268.4,464.0h0.9M272.1,451.4h0.9M273.7,450.9h0.9M267.7,461.4h0.9M269.4,459.5h0.9M264.0,464.6h0.9M273.1,451.9h0.9M275.2,447.2h0.9M276.2,446.7h0.9M270.8,456.0h0.9M274.7,456.6h0.9M272.7,455.8h0.9M270.5,463.9h0.9M277.8,448.8h0.9M271.4,458.3h0.9M268.7,462.0h0.9M270.6,461.2h0.9M276.4,450.2h0.9M272.7,447.4h0.9M269.3,457.5h0.9M279.8,452.2h0.9M271.1,454.0h0.9M267.5,469.6h0.9M274.5,452.5h0.9M271.1,457.0h0.9M266.8,458.1h0.9M264.8,471.9h0.9M264.4,469.3h0.9M277.5,453.1h0.9M268.5,460.6h0.9M277.8,451.3h0.9M272.9,453.6h0.9M261.0,463.9h0.9M266.4,460.8h0.9M270.2,458.4h0.9M260.4,469.5h0.9M276.3,453.8h0.9M276.6,450.0h0.9M281.1,452.6h0.9M274.7,447.9h0.9M269.2,457.5h0.9M273.7,451.8h0.9M272.3,456.9h0.9M270.8,456.7h0.9M276.3,450.3h0.9M269.9,456.9h0.9M267.4,458.8h0.9M266.7,457.6h0.9M278.0,460.2h0.9M270.4,450.9h0.9M268.9,456.7h0.9M276.2,446.3h0.9M262.5,465.0h0.9M265.3,463.2h0.9M270.8,454.9h0.9M268.5,459.4h0.9M267.1,462.4h0.9M280.0,451.6h0.9M268.8,463.8h0.9M279.3,455.3h0.9M263.8,471.1h0.9M266.5,466.6h0.9M274.7,457.0h0.9M268.6,449.4h0.9M269.4,461.6h0.9M289.5,446.5h0.9M290.2,456.0h0.9M288.6,453.9h0.9M292.0,452.3h0.9M289.8,445.1h0.9M294.1,453.4h0.9M289.2,451.7h0.9M289.8,447.1h0.9M294.5,449.3h0.9M289.6,451.9h0.9M292.5,449.7h0.9M285.7,450.9h0.9M292.9,453.7h0.9M290.8,448.4h0.9M292.0,450.0h0.9M290.2,454.2h0.9M291.8,446.7h0.9M291.2,446.1h0.9M293.7,454.3h0.9M292.9,450.7h0.9M285.9,453.8h0.9M290.8,447.8h0.9M289.7,451.4h0.9M291.8,449.6h0.9M286.4,447.5h0.9M288.5,456.2h0.9M294.1,454.4h0.9M289.8,452.2h0.9M289.0,450.1h0.9M288.8,450.0h0.9M290.8,446.3h0.9M297.4,449.8h0.9M290.4,450.6h0.9M293.0,449.9h0.9M293.8,446.7h0.9M289.1,447.6h0.9M289.3,453.6h0.9M292.8,453.6h0.9M288.9,445.2h0.9M288.5,447.6h0.9M288.8,452.0h0.9M283.1,453.3h0.9M287.0,447.1h0.9M286.7,451.5h0.9M287.2,448.2h0.9M291.3,452.5h0.9M290.1,452.6h0.9M290.3,454.7h0.9M290.1,449.9h0.9M287.8,448.5h0.9M288.7,448.5h0.9M293.4,454.9h0.9M288.7,454.0h0.9M288.6,452.3h0.9M281.3,451.6h0.9M292.3,449.8h0.9M288.6,450.3h0.9M295.9,453.1h0.9M289.8,448.6h0.9M289.3,448.4h0.9M285.5,448.6h0.9M292.5,453.6h0.9M291.0,453.2h0.9M292.5,450.4h0.9M291.8,456.6h0.9M288.5,453.1h0.9M289.7,450.9h0.9M291.7,451.9h0.9M288.9,449.2h0.9M289.7,449.3h0.9M287.4,448.5h0.9M287.9,451.6h0.9M289.2,449.7h0.9M288.7,452.3h0.9M287.9,451.1h0.9M295.6,452.2h0.9M291.0,454.0h0.9M293.6,449.1h0.9M292.0,452.4h0.9M289.1,446.5h0.9M289.5,446.1h0.9M294.9,447.6h0.9M289.7,447.0h0.9M289.4,454.0h0.9M289.8,457.1h0.9M290.6,450.3h0.9M291.0,454.4h0.9M290.3,449.0h0.9M289.7,448.7h0.9M289.0,451.0h0.9M290.3,450.6h0.9M287.5,451.9h0.9M287.9,449.4h0.9M288.0,449.5h0.9M287.9,444.9h0.9M289.0,447.7h0.9M292.3,448.6h0.9M295.3,452.3h0.9M288.3,450.5h0.9M293.5,447.5h0.9M290.0,453.4h0.9M289.8,452.4h0.9M287.7,449.7h0.9M293.2,453.3h0.9M294.0,449.7h0.9M289.8,453.2h0.9M286.5,448.7h0.9M291.8,447.9h0.9M292.5,449.1h0.9M288.1,452.8h0.9M287.0,452.2h0.9M291.1,449.1h0.9M287.2,448.0h0.9M289.6,449.4h0.9M293.9,448.2h0.9M288.8,448.7h0.9M290.1,451.8h0.9M286.6,451.6h0.9M290.0,454.5h0.9M286.5,452.9h0.9M286.4,442.4h0.9M297.9,433.8h0.9M282.3,437.4h0.9M288.8,429.7h0.9M297.3,433.2h0.9M276.8,439.3h0.9M282.1,441.9h0.9M279.3,443.2h0.9M284.0,435.8h0.9M271.5,427.2h0.9M302.0,444.9h0.9M278.4,442.1h0.9M288.7,439.3h0.9M277.5,443.5h0.9M291.9,443.8h0.9M289.1,434.3h0.9M278.0,435.6h0.9M279.2,444.7h0.9M277.5,436.1h0.9M278.5,438.6h0.9M284.6,445.9h0.9M293.5,444.5h0.9M290.5,441.4h0.9M309.7,438.9h0.9M285.1,432.7h0.9M268.2,440.8h0.9M273.7,431.5h0.9M281.3,441.7h0.9M281.1,437.9h0.9M282.9,438.0h0.9M271.8,437.1h0.9M290.0,442.9h0.9M278.0,431.2h0.9M276.2,434.3h0.9M279.9,436.7h0.9M277.6,443.5h0.9M293.6,437.0h0.9M281.6,437.4h0.9M272.1,438.1h0.9M282.3,434.2h0.9M277.3,435.2h0.9M291.8,440.8h0.9M287.2,439.7h0.9M288.9,443.9h0.9M293.1,427.5h0.9M284.8,437.2h0.9M278.3,437.2h0.9M290.2,449.5h0.9M286.2,437.9h0.9M288.4,437.3h0.9M279.6,448.5h0.9M272.0,435.4h0.9M292.4,436.1h0.9M281.0,442.2h0.9M289.9,429.9h0.9M283.5,443.9h0.9M274.0,431.6h0.9M291.7,433.3h0.9M289.8,470.8h0.9M277.9,471.8h0.9M275.7,470.3h0.9M282.7,473.0h0.9M285.2,469.3h0.9M284.6,470.8h0.9M288.6,470.4h0.9M278.8,470.3h0.9M283.3,472.9h0.9M281.8,469.6h0.9M291.6,471.3h0.9M278.2,472.5h0.9M290.0,473.5h0.9M283.1,472.0h0.9M276.6,472.5h0.9M279.4,474.0h0.9M294.3,472.6h0.9M286.5,474.1h0.9M274.4,473.6h0.9M279.8,471.3h0.9M282.1,470.0h0.9M282.2,475.0h0.9M277.7,467.0h0.9M292.1,471.1h0.9M272.9,469.6h0.9M280.5,470.7h0.9M286.6,469.3h0.9M276.7,472.0h0.9M285.6,473.6h0.9M299.2,473.8h0.9M285.3,471.4h0.9M286.8,473.1h0.9M284.0,471.4h0.9M280.5,469.1h0.9M283.2,471.4h0.9M285.4,473.9h0.9M284.4,474.1h0.9M275.4,467.0h0.9M285.1,472.1h0.9M277.4,473.6h0.9M282.7,475.8h0.9M284.2,474.1h0.9M292.5,469.4h0.9M280.1,471.2h0.9M286.9,473.0h0.9M294.0,468.8h0.9M289.8,473.8h0.9M286.8,471.6h0.9M278.9,471.0h0.9M271.0,458.3h0.9M275.9,461.9h0.9M262.1,464.7h0.9M273.1,444.5h0.9M271.5,448.4h0.9M273.9,449.5h0.9M270.3,455.3h0.9M269.5,462.8h0.9M276.2,450.2h0.9M260.1,444.3h0.9M278.2,442.0h0.9M277.1,460.9h0.9M263.7,443.9h0.9M278.5,443.2h0.9M278.6,444.8h0.9M261.8,455.0h0.9M268.8,453.3h0.9M272.6,447.7h0.9M261.8,443.5h0.9M275.5,449.6h0.9M272.0,455.1h0.9M271.9,454.3h0.9M261.5,451.4h0.9M266.9,465.2h0.9M275.8,454.2h0.9M263.2,448.5h0.9M277.1,448.7h0.9M270.5,445.0h0.9M277.9,451.6h0.9M272.7,458.1h0.9M279.2,463.9h0.9M269.7,444.4h0.9M277.1,443.6h0.9M278.1,451.4h0.9M271.2,455.1h0.9M267.9,458.2h0.9M264.0,443.6h0.9M277.1,465.2h0.9M260.5,453.6h0.9M261.5,455.7h0.9M274.2,447.3h0.9M278.4,457.9h0.9M277.6,447.5h0.9M278.4,445.1h0.9M269.6,452.6h0.9M288.7,448.2h0.9M295.2,468.1h0.9M290.9,432.6h0.9M285.8,468.9h0.9M284.8,458.3h0.9M283.9,469.5h0.9M298.6,459.6h0.9M299.9,441.2h0.9M290.4,465.4h0.9M288.9,465.0h0.9M289.4,465.4h0.9M292.5,459.8h0.9M280.1,444.6h0.9M292.3,450.3h0.9M288.9,455.7h0.9" stroke="#000" stroke-opacity="0.5" stroke-width="0.9" fill="none"/>
<rect x="258.5" y="412.5" width="54.0" height="64.0" fill="none" stroke="#222" stroke-width="1"/>
<line x1="280.5" y1="412.5" x2="280.5" y2="476.5" stroke="#333" stroke-width="1"/>
<line x1="258.5" y1="443.5" x2="312.5" y2="443.5" stroke="#333" stroke-width="1"/>
<text x="284.2" y="409.7" font-size="7.0" text-anchor="middle" font-weight="bold">CD437</text>
<text x="287.0" y="491.8" font-size="7.0" text-anchor="middle" stroke="#111" stroke-width="0.15">AnnexinV</text>
<text x="245.9" y="444.5" font-size="7.0" text-anchor="middle" stroke="#111" stroke-width="0.15" transform="rotate(-90 245.9 444.5)">PI</text>
<text x="258.5" y="483.5" font-size="4.2" text-anchor="middle" fill="#444" stroke="none">10<tspan font-size="3" dy="-1.5">0</tspan></text>
<text x="254.5" y="476.5" font-size="4.2" text-anchor="middle" fill="#444" stroke="none" transform="rotate(-90 254.5 476.5)">10<tspan font-size="3" dy="-1.5">0</tspan></text>
<line x1="258.5" y1="476.5" x2="258.5" y2="478.0" stroke="#333" stroke-width="0.6"/>
<line x1="257.0" y1="476.5" x2="258.5" y2="476.5" stroke="#333" stroke-width="0.6"/>
<text x="272.0" y="483.5" font-size="4.2" text-anchor="middle" fill="#444" stroke="none">10<tspan font-size="3" dy="-1.5">1</tspan></text>
<text x="254.5" y="460.5" font-size="4.2" text-anchor="middle" fill="#444" stroke="none" transform="rotate(-90 254.5 460.5)">10<tspan font-size="3" dy="-1.5">1</tspan></text>
<line x1="272.0" y1="476.5" x2="272.0" y2="478.0" stroke="#333" stroke-width="0.6"/>
<line x1="257.0" y1="460.5" x2="258.5" y2="460.5" stroke="#333" stroke-width="0.6"/>
<text x="285.5" y="483.5" font-size="4.2" text-anchor="middle" fill="#444" stroke="none">10<tspan font-size="3" dy="-1.5">2</tspan></text>
<text x="254.5" y="444.5" font-size="4.2" text-anchor="middle" fill="#444" stroke="none" transform="rotate(-90 254.5 444.5)">10<tspan font-size="3" dy="-1.5">2</tspan></text>
<line x1="285.5" y1="476.5" x2="285.5" y2="478.0" stroke="#333" stroke-width="0.6"/>
<line x1="257.0" y1="444.5" x2="258.5" y2="444.5" stroke="#333" stroke-width="0.6"/>
<text x="299.0" y="483.5" font-size="4.2" text-anchor="middle" fill="#444" stroke="none">10<tspan font-size="3" dy="-1.5">3</tspan></text>
<text x="254.5" y="428.5" font-size="4.2" text-anchor="middle" fill="#444" stroke="none" transform="rotate(-90 254.5 428.5)">10<tspan font-size="3" dy="-1.5">3</tspan></text>
<line x1="299.0" y1="476.5" x2="299.0" y2="478.0" stroke="#333" stroke-width="0.6"/>
<line x1="257.0" y1="428.5" x2="258.5" y2="428.5" stroke="#333" stroke-width="0.6"/>
<text x="312.5" y="483.5" font-size="4.2" text-anchor="middle" fill="#444" stroke="none">10<tspan font-size="3" dy="-1.5">4</tspan></text>
<text x="254.5" y="412.5" font-size="4.2" text-anchor="middle" fill="#444" stroke="none" transform="rotate(-90 254.5 412.5)">10<tspan font-size="3" dy="-1.5">4</tspan></text>
<line x1="312.5" y1="476.5" x2="312.5" y2="478.0" stroke="#333" stroke-width="0.6"/>
<line x1="257.0" y1="412.5" x2="258.5" y2="412.5" stroke="#333" stroke-width="0.6"/>
<text x="327.8" y="295.0" font-size="23" text-anchor="start" stroke="#111" stroke-width="0.3">D</text>
<line x1="382.1" y1="294.40000000000003" x2="382.1" y2="489.6" stroke="#111" stroke-width="1.2"/>
<line x1="377.2" y1="489.6" x2="382.1" y2="489.6" stroke="#111" stroke-width="1.2"/>
<text x="372.6" y="493.5" font-size="13.0" text-anchor="end" stroke="#111" stroke-width="0.27">0</text>
<line x1="377.2" y1="440.8" x2="382.1" y2="440.8" stroke="#111" stroke-width="1.2"/>
<text x="372.6" y="444.7" font-size="13.0" text-anchor="end" stroke="#111" stroke-width="0.27">25</text>
<line x1="377.2" y1="392.0" x2="382.1" y2="392.0" stroke="#111" stroke-width="1.2"/>
<text x="372.6" y="395.9" font-size="13.0" text-anchor="end" stroke="#111" stroke-width="0.27">50</text>
<line x1="377.2" y1="343.20000000000005" x2="382.1" y2="343.20000000000005" stroke="#111" stroke-width="1.2"/>
<text x="372.6" y="347.1" font-size="13.0" text-anchor="end" stroke="#111" stroke-width="0.27">75</text>
<line x1="377.2" y1="294.40000000000003" x2="382.1" y2="294.40000000000003" stroke="#111" stroke-width="1.2"/>
<text x="372.6" y="298.3" font-size="13.0" text-anchor="end" stroke="#111" stroke-width="0.27">100</text>
<line x1="394.0" y1="300.2" x2="394.0" y2="298.3" stroke="#111" stroke-width="1.2"/>
<line x1="391.3" y1="298.3" x2="396.7" y2="298.3" stroke="#111" stroke-width="1.2"/>
<clipPath id="c4"><rect x="385.2" y="300.2" width="17.80000000000001" height="189.40000000000003"/></clipPath>
<rect x="385.2" y="300.2" width="17.80000000000001" height="189.40000000000003" fill="#fff"/>
<path d="M385.20,495.60L403.00,513.40M385.20,487.90L403.00,505.70M385.20,480.20L403.00,498.00M385.20,472.50L403.00,490.30M385.20,464.80L403.00,482.60M385.20,457.10L403.00,474.90M385.20,449.40L403.00,467.20M385.20,441.70L403.00,459.50M385.20,434.00L403.00,451.80M385.20,426.30L403.00,444.10M385.20,418.60L403.00,436.40M385.20,410.90L403.00,428.70M385.20,403.20L403.00,421.00M385.20,395.50L403.00,413.30M385.20,387.80L403.00,405.60M385.20,380.10L403.00,397.90M385.20,372.40L403.00,390.20M385.20,364.70L403.00,382.50M385.20,357.00L403.00,374.80M385.20,349.30L403.00,367.10M385.20,341.60L403.00,359.40M385.20,333.90L403.00,351.70M385.20,326.20L403.00,344.00M385.20,318.50L403.00,336.30M385.20,310.80L403.00,328.60M385.20,303.10L403.00,320.90M385.20,295.40L403.00,313.20M385.20,287.70L403.00,305.50M385.20,280.00L403.00,297.80" stroke="#111" stroke-width="1.2" clip-path="url(#c4)"/>
<rect x="385.2" y="300.2" width="17.80000000000001" height="189.40000000000003" fill="none" stroke="#111" stroke-width="1.2"/>
<line x1="419.2" y1="383.1" x2="419.2" y2="374.2" stroke="#111" stroke-width="1.2"/>
<line x1="416.3" y1="374.2" x2="422.09999999999997" y2="374.2" stroke="#111" stroke-width="1.2"/>
<rect x="411.6" y="383.1" width="16.599999999999966" height="106.5" fill="#828282" stroke="#111" stroke-width="1.3"/>
<line x1="377.2" y1="489.6" x2="432.0" y2="489.6" stroke="#111" stroke-width="1.2"/>
<text x="400.3" y="539.7" font-size="13.4" text-anchor="start" stroke="#111" stroke-width="0.28" transform="rotate(-90 400.3 539.7)">Control</text>
<text x="425.8" y="539.7" font-size="13.4" text-anchor="start" stroke="#111" stroke-width="0.28" transform="rotate(-90 425.8 539.7)">CD437</text>
<text x="346.9" y="438.9" font-size="13.6" stroke="#111" stroke-width="0.28" transform="rotate(-90 346.9 438.9)">% PCNA<tspan dy="-4.5">+</tspan><tspan dy="4.5"> cells</tspan></text>
<path d="M472.9,336.7h0.9M473.0,320.4h0.9M495.5,330.2h0.9M481.8,339.8h0.9M471.4,333.0h0.9M478.5,339.5h0.9M491.3,328.1h0.9M487.7,339.1h0.9M483.5,338.0h0.9M483.7,347.7h0.9M490.7,329.8h0.9M494.7,350.3h0.9M486.8,339.9h0.9M469.6,324.2h0.9M485.0,355.5h0.9M480.9,348.2h0.9M484.1,335.9h0.9M484.9,333.8h0.9M472.1,348.6h0.9M493.2,335.4h0.9M486.8,338.6h0.9M471.1,341.6h0.9M487.6,339.7h0.9M469.6,339.8h0.9M478.0,322.2h0.9M481.3,338.7h0.9M482.2,342.8h0.9M486.2,316.8h0.9M475.3,324.9h0.9M481.4,331.0h0.9M478.9,333.6h0.9M474.3,322.6h0.9M479.4,327.0h0.9M471.9,343.7h0.9M471.0,317.8h0.9M477.9,327.6h0.9M496.4,329.7h0.9M485.8,338.2h0.9M481.3,327.3h0.9M485.1,320.4h0.9M477.8,348.3h0.9M487.4,315.7h0.9M473.4,330.4h0.9M473.8,328.6h0.9M479.4,344.0h0.9M483.0,330.7h0.9M475.1,343.7h0.9M474.0,331.0h0.9M475.5,323.8h0.9M484.4,328.1h0.9M480.8,348.7h0.9M472.8,341.5h0.9M471.2,332.7h0.9M477.2,330.7h0.9M470.4,336.9h0.9M476.7,315.1h0.9M479.2,332.9h0.9M474.5,326.2h0.9M482.6,323.9h0.9M479.8,329.3h0.9M481.8,356.3h0.9M488.7,333.0h0.9M479.9,342.9h0.9M473.5,329.4h0.9M472.0,323.5h0.9M478.6,330.8h0.9M475.9,322.7h0.9M485.7,346.6h0.9M491.8,342.4h0.9M479.1,322.2h0.9M480.8,336.1h0.9M474.8,328.0h0.9M489.7,346.5h0.9M473.1,325.5h0.9M482.2,333.8h0.9M487.8,340.6h0.9M479.8,314.4h0.9M476.1,336.4h0.9M490.1,344.4h0.9M480.6,329.2h0.9M479.5,338.3h0.9M492.5,321.7h0.9M491.8,324.7h0.9M482.8,344.8h0.9M483.7,327.6h0.9M480.9,329.7h0.9M486.3,345.7h0.9M476.0,338.5h0.9M485.5,327.9h0.9M488.4,329.3h0.9M477.6,337.2h0.9M486.6,342.3h0.9M483.0,334.1h0.9M482.1,340.3h0.9M479.4,353.3h0.9M493.9,340.3h0.9M477.8,327.0h0.9M482.1,337.8h0.9M486.2,346.6h0.9M479.6,328.7h0.9M481.7,323.2h0.9M486.4,348.4h0.9M474.4,344.5h0.9M486.0,333.7h0.9M481.4,326.7h0.9M473.3,342.1h0.9M479.3,324.4h0.9M482.8,341.9h0.9M478.3,335.1h0.9M476.2,338.7h0.9M475.9,321.7h0.9M469.7,332.0h0.9M476.0,342.2h0.9M484.9,355.2h0.9M473.7,352.7h0.9M472.9,329.6h0.9M488.2,345.7h0.9M477.9,331.8h0.9M475.6,319.0h0.9M483.9,340.5h0.9M479.2,330.9h0.9M473.7,322.5h0.9M474.9,338.6h0.9M479.3,336.0h0.9M484.8,340.5h0.9M478.1,342.2h0.9M470.7,341.4h0.9M485.5,341.5h0.9M488.8,322.0h0.9M477.7,343.7h0.9M483.3,329.1h0.9M484.6,351.7h0.9M479.5,327.9h0.9M482.0,339.5h0.9M480.9,341.2h0.9M473.4,337.4h0.9M484.4,337.2h0.9M481.7,332.8h0.9M472.2,328.2h0.9M477.3,322.2h0.9M470.7,339.1h0.9M478.6,333.0h0.9M487.1,334.3h0.9M473.4,327.9h0.9M475.0,324.8h0.9M485.1,345.6h0.9M481.9,332.5h0.9M484.5,334.8h0.9M499.5,339.9h0.9M466.8,338.4h0.9M479.0,330.3h0.9M471.3,344.7h0.9M482.3,338.6h0.9M482.8,328.0h0.9M482.1,339.9h0.9M485.4,329.4h0.9M490.8,343.1h0.9M483.5,334.4h0.9M479.0,325.7h0.9M475.3,338.4h0.9M488.5,335.1h0.9M483.1,327.8h0.9M476.9,343.1h0.9M480.4,337.3h0.9M479.8,331.0h0.9M474.5,327.4h0.9M479.5,347.4h0.9M489.7,327.1h0.9M484.4,326.4h0.9M483.5,332.2h0.9M476.7,337.5h0.9M485.4,331.3h0.9M491.0,328.9h0.9M480.2,321.0h0.9M482.3,334.4h0.9M486.4,349.7h0.9M479.2,325.7h0.9M474.5,328.8h0.9M478.1,326.8h0.9M477.8,323.6h0.9M481.5,334.9h0.9M473.6,330.0h0.9M472.7,321.8h0.9M481.5,337.1h0.9M477.2,330.8h0.9M482.3,334.1h0.9M483.7,351.7h0.9M475.6,321.6h0.9M483.8,334.0h0.9M484.3,333.4h0.9M471.6,343.4h0.9M478.9,325.9h0.9M474.2,318.2h0.9M484.7,337.9h0.9M482.8,336.3h0.9M465.9,327.4h0.9M466.4,343.6h0.9M485.2,330.2h0.9M477.7,327.7h0.9M488.7,345.2h0.9M474.0,325.5h0.9M483.3,330.7h0.9M492.8,354.2h0.9M482.3,321.8h0.9M473.1,336.4h0.9M481.8,322.0h0.9M481.2,327.6h0.9M483.0,337.2h0.9M482.4,346.2h0.9M477.4,340.2h0.9M477.9,322.7h0.9M489.3,332.5h0.9M470.4,341.2h0.9M480.9,345.8h0.9M485.6,329.1h0.9M466.4,341.8h0.9M483.8,328.5h0.9M490.5,345.1h0.9M491.8,318.7h0.9M476.3,321.3h0.9M486.2,337.4h0.9M483.9,340.6h0.9M480.0,350.8h0.9M492.1,325.9h0.9M478.0,344.0h0.9M481.0,325.8h0.9M481.8,329.3h0.9M479.5,333.7h0.9M483.0,333.8h0.9M484.3,336.6h0.9M487.5,328.8h0.9M476.0,340.6h0.9M486.9,337.5h0.9M475.9,333.7h0.9M467.6,319.3h0.9M477.4,343.5h0.9M482.0,323.2h0.9M482.8,325.4h0.9M488.1,337.1h0.9M479.6,332.5h0.9M480.3,323.5h0.9M488.6,345.3h0.9M467.7,324.9h0.9M478.7,333.4h0.9M487.9,342.9h0.9M474.2,326.6h0.9M485.5,331.9h0.9M490.4,340.1h0.9M485.7,327.2h0.9M489.2,336.3h0.9M481.1,328.8h0.9M480.9,320.2h0.9M477.2,351.6h0.9M479.0,340.2h0.9M482.7,328.9h0.9M473.1,314.5h0.9M480.9,343.6h0.9M481.8,356.7h0.9M477.5,331.0h0.9M487.8,335.4h0.9M476.5,331.9h0.9M477.8,333.3h0.9M475.5,346.0h0.9M487.0,334.4h0.9M465.3,330.0h0.9M484.6,319.9h0.9M483.2,324.4h0.9M474.9,331.6h0.9M480.1,344.1h0.9M481.4,333.9h0.9M483.8,317.0h0.9M477.6,326.8h0.9M475.8,331.1h0.9M489.4,323.8h0.9M496.4,320.3h0.9M488.2,329.1h0.9M479.6,335.4h0.9M487.5,327.7h0.9M482.3,325.3h0.9M476.9,321.4h0.9M483.2,323.1h0.9M482.1,324.3h0.9M487.3,323.7h0.9M479.3,327.7h0.9M485.9,321.3h0.9M480.9,326.3h0.9M489.9,327.8h0.9M489.4,323.3h0.9M472.6,324.1h0.9M487.3,315.1h0.9M474.4,323.6h0.9M487.7,315.2h0.9M484.0,319.2h0.9M470.9,315.9h0.9M485.7,320.0h0.9M489.3,316.7h0.9M485.6,323.7h0.9M479.7,327.0h0.9M490.4,321.1h0.9M494.4,325.5h0.9M482.1,327.9h0.9M476.1,326.0h0.9M482.5,316.7h0.9M482.0,321.5h0.9M482.8,315.8h0.9M483.5,322.1h0.9M472.2,319.4h0.9M483.3,324.5h0.9M494.0,320.3h0.9M484.2,333.5h0.9M480.0,317.8h0.9M478.1,331.7h0.9M493.1,321.9h0.9M473.2,326.3h0.9M488.5,323.8h0.9M486.5,334.1h0.9M479.2,314.7h0.9M485.3,323.0h0.9M486.3,329.6h0.9M476.2,319.7h0.9M486.7,325.3h0.9M480.4,323.0h0.9M481.8,326.5h0.9M481.3,322.1h0.9M476.3,324.0h0.9M483.4,330.4h0.9M490.2,319.3h0.9M482.7,328.1h0.9M473.6,321.4h0.9M471.7,349.6h0.9M474.7,347.7h0.9M483.7,319.4h0.9M484.1,326.2h0.9M479.0,325.2h0.9M480.9,320.9h0.9M483.6,335.8h0.9M471.1,347.3h0.9M480.4,340.8h0.9M474.2,349.0h0.9M488.2,324.7h0.9M483.4,322.6h0.9M480.3,330.2h0.9M481.5,332.8h0.9M473.9,355.5h0.9M479.1,352.7h0.9M476.2,348.2h0.9M482.6,339.0h0.9M476.3,336.9h0.9M469.5,351.4h0.9M488.8,325.3h0.9M479.7,336.3h0.9M484.4,330.7h0.9M481.8,334.6h0.9M484.3,336.7h0.9M481.9,331.2h0.9M482.7,332.9h0.9M479.9,323.5h0.9M469.7,352.6h0.9M472.2,344.7h0.9M481.6,342.8h0.9M481.6,346.4h0.9M487.1,336.5h0.9M479.0,347.5h0.9M475.1,334.2h0.9M478.8,348.2h0.9M478.2,326.8h0.9M476.9,323.5h0.9M484.6,320.5h0.9M478.3,342.1h0.9M473.9,350.2h0.9M481.9,327.4h0.9M481.8,324.5h0.9M489.0,322.7h0.9M475.9,328.1h0.9M478.4,341.5h0.9M478.0,325.4h0.9M478.8,335.7h0.9M484.7,325.2h0.9M482.0,325.9h0.9M470.4,353.5h0.9M468.7,344.2h0.9M472.3,352.7h0.9M487.3,331.4h0.9M479.9,341.5h0.9M474.9,341.3h0.9M478.9,335.4h0.9M481.2,328.3h0.9M485.9,320.7h0.9M478.6,325.5h0.9M478.2,333.9h0.9M488.6,333.1h0.9M474.9,342.3h0.9M475.2,349.7h0.9M485.3,327.0h0.9M482.2,324.6h0.9M491.6,319.8h0.9M472.4,346.1h0.9M482.8,317.5h0.9M475.6,349.4h0.9M480.8,344.4h0.9M483.3,328.5h0.9M470.9,355.4h0.9M478.5,335.9h0.9M478.5,341.0h0.9M476.5,355.5h0.9M477.6,347.5h0.9M490.6,323.8h0.9M481.2,330.1h0.9M483.3,333.4h0.9M478.1,341.2h0.9M478.5,349.0h0.9M479.5,340.0h0.9M483.6,325.6h0.9M472.7,351.5h0.9M482.3,337.3h0.9M486.1,328.3h0.9M479.4,345.7h0.9M474.6,344.9h0.9M473.3,350.3h0.9M483.2,330.9h0.9M485.8,323.5h0.9M467.9,353.6h0.9M479.6,339.0h0.9M479.0,323.4h0.9M473.0,339.9h0.9M469.9,339.1h0.9M480.7,340.3h0.9M474.0,345.0h0.9M468.5,364.7h0.9M468.3,353.6h0.9M468.2,362.6h0.9M472.1,357.7h0.9M473.6,351.9h0.9M465.8,337.2h0.9M469.3,344.3h0.9M468.1,368.6h0.9M473.5,374.3h0.9M467.5,355.5h0.9M470.5,357.5h0.9M472.4,365.6h0.9M468.6,359.9h0.9M471.5,343.9h0.9M469.8,333.9h0.9M466.5,367.7h0.9M471.0,344.9h0.9M468.4,371.6h0.9M473.0,344.4h0.9M472.4,353.3h0.9M469.7,356.5h0.9M468.4,353.4h0.9M472.9,349.1h0.9M474.3,350.5h0.9M471.0,368.6h0.9M475.3,340.5h0.9M469.8,352.3h0.9M472.6,341.9h0.9M471.9,361.2h0.9M468.2,377.7h0.9M469.7,362.9h0.9M472.4,342.9h0.9M472.6,348.5h0.9M470.7,352.5h0.9M472.6,351.9h0.9M469.9,359.1h0.9M469.1,363.8h0.9M468.6,364.5h0.9M473.4,339.5h0.9M470.5,364.4h0.9M469.2,344.5h0.9M473.7,370.2h0.9M469.3,374.7h0.9M473.3,372.7h0.9M469.6,360.6h0.9M470.7,347.6h0.9M468.8,341.5h0.9M471.0,344.2h0.9M470.6,366.1h0.9M470.6,353.3h0.9M470.6,350.3h0.9M473.3,339.7h0.9M471.4,346.4h0.9M472.8,355.3h0.9M467.4,372.3h0.9M470.1,358.2h0.9M470.8,362.3h0.9M470.4,356.4h0.9M467.4,365.2h0.9M472.2,370.2h0.9M475.5,364.0h0.9M470.0,361.2h0.9M469.9,342.5h0.9M470.9,370.5h0.9M468.0,373.3h0.9M471.4,357.2h0.9M472.2,342.0h0.9M471.1,352.2h0.9M471.0,355.4h0.9M468.1,376.5h0.9M471.3,353.8h0.9M466.6,365.5h0.9M466.5,352.7h0.9M467.8,365.2h0.9M469.9,340.0h0.9M467.9,344.6h0.9M472.4,344.2h0.9M470.8,363.4h0.9M472.2,337.5h0.9M471.2,354.5h0.9M470.7,363.0h0.9M475.1,348.4h0.9M469.5,373.1h0.9M468.0,356.8h0.9M468.5,344.2h0.9M471.1,364.9h0.9M466.7,362.8h0.9M472.2,343.1h0.9M475.2,360.6h0.9M471.7,336.4h0.9M468.6,354.4h0.9M472.8,374.3h0.9M467.5,359.2h0.9M474.5,344.2h0.9M474.2,339.6h0.9M469.1,368.1h0.9M475.2,334.2h0.9M472.1,367.1h0.9M467.3,358.1h0.9M470.5,351.5h0.9M471.9,352.9h0.9M472.6,339.7h0.9M469.6,348.0h0.9M470.8,359.6h0.9M469.9,352.1h0.9M472.0,348.9h0.9M474.9,368.5h0.9M470.4,345.7h0.9M473.0,353.3h0.9M468.6,340.5h0.9M467.4,366.4h0.9M471.9,343.3h0.9M470.9,368.1h0.9M469.9,346.8h0.9M468.3,342.7h0.9M471.9,345.5h0.9M467.0,359.0h0.9M470.3,358.2h0.9M472.0,347.2h0.9M472.1,361.9h0.9M468.3,357.8h0.9M470.1,351.1h0.9M469.6,359.8h0.9M472.1,367.7h0.9M474.3,353.2h0.9M468.9,347.9h0.9M470.3,358.6h0.9M468.0,361.5h0.9M471.4,364.5h0.9M471.7,350.9h0.9M468.9,363.8h0.9M467.9,372.3h0.9M468.1,363.8h0.9M468.5,364.6h0.9M474.1,342.5h0.9M472.4,345.8h0.9M470.1,365.5h0.9M470.1,369.5h0.9M467.4,372.1h0.9M472.5,342.2h0.9M471.2,353.1h0.9M466.3,371.7h0.9M469.9,345.1h0.9M471.4,354.9h0.9M468.7,365.3h0.9M469.9,362.0h0.9M467.5,363.7h0.9M472.9,358.8h0.9M471.2,337.1h0.9M471.1,346.3h0.9M475.8,347.3h0.9M471.0,339.6h0.9M471.2,369.4h0.9M472.1,370.3h0.9M469.6,364.5h0.9M470.7,344.2h0.9M468.8,361.7h0.9M470.3,345.3h0.9M469.1,343.5h0.9M475.4,343.1h0.9M470.4,344.0h0.9M472.0,367.5h0.9M473.2,337.0h0.9M469.7,366.6h0.9M470.7,359.3h0.9M469.1,371.8h0.9M468.3,346.9h0.9M471.0,340.7h0.9M474.9,339.5h0.9M472.0,369.2h0.9M469.4,342.8h0.9M471.5,356.7h0.9M469.6,369.6h0.9M470.1,356.2h0.9M472.0,345.5h0.9M470.6,362.7h0.9M472.4,361.1h0.9M470.3,370.4h0.9M470.6,354.1h0.9M474.0,342.9h0.9M471.8,350.5h0.9M470.5,369.7h0.9M469.8,353.8h0.9M475.9,365.0h0.9M470.5,376.0h0.9M470.7,373.4h0.9M470.0,365.6h0.9M472.8,357.8h0.9M470.9,365.7h0.9M469.2,368.5h0.9M468.8,373.2h0.9M472.8,345.5h0.9M471.0,354.6h0.9M471.2,362.9h0.9M471.3,358.4h0.9M472.0,374.0h0.9M469.7,363.2h0.9M470.0,363.7h0.9M471.2,361.6h0.9M470.6,376.0h0.9M470.1,373.8h0.9M468.1,371.6h0.9M471.1,375.0h0.9M470.5,374.2h0.9M471.5,358.4h0.9M468.0,368.1h0.9M468.3,374.3h0.9M471.0,365.4h0.9M471.9,349.8h0.9M470.5,368.1h0.9M468.0,365.5h0.9M469.2,352.5h0.9M470.7,364.8h0.9M468.2,356.4h0.9M471.8,358.1h0.9M469.5,362.1h0.9M471.5,357.0h0.9M469.8,344.4h0.9M465.4,365.5h0.9M468.5,366.6h0.9M472.1,362.6h0.9M467.4,352.3h0.9M473.2,356.3h0.9M469.8,363.5h0.9M465.9,348.4h0.9M468.6,360.9h0.9M470.4,374.9h0.9M468.6,360.4h0.9M474.3,352.4h0.9M470.7,366.9h0.9M471.8,366.3h0.9M469.1,356.6h0.9M471.6,358.4h0.9M472.3,361.2h0.9M470.5,370.2h0.9M467.3,371.4h0.9M473.4,360.4h0.9M468.7,353.9h0.9M472.1,366.4h0.9M468.3,354.3h0.9M467.9,366.0h0.9M470.5,364.5h0.9M468.6,369.2h0.9M469.2,340.8h0.9M469.2,357.3h0.9M468.4,363.3h0.9M469.6,358.3h0.9M472.1,355.6h0.9M472.3,358.9h0.9M470.2,360.8h0.9M471.3,365.2h0.9M467.7,376.5h0.9M469.6,366.8h0.9M469.5,354.4h0.9M469.2,361.2h0.9M468.1,366.6h0.9M471.6,357.1h0.9M470.4,362.1h0.9M468.5,350.8h0.9M470.9,368.9h0.9M470.5,357.6h0.9M464.9,351.3h0.9M467.7,365.2h0.9M464.0,364.5h0.9M466.1,375.7h0.9M454.5,347.6h0.9M454.6,352.3h0.9M466.1,367.8h0.9M462.3,348.2h0.9M464.6,355.1h0.9M464.3,365.8h0.9M464.7,373.8h0.9M458.8,357.7h0.9M467.6,361.8h0.9M462.4,348.4h0.9M456.9,374.8h0.9M461.1,355.8h0.9M466.5,346.7h0.9M455.9,376.3h0.9M467.3,356.5h0.9M463.7,352.3h0.9M459.1,348.5h0.9M454.3,357.3h0.9M464.2,353.5h0.9M461.1,353.8h0.9M456.9,351.8h0.9M466.8,366.4h0.9M461.6,377.8h0.9M463.9,374.8h0.9M459.9,367.6h0.9M466.4,370.3h0.9M458.5,370.0h0.9M463.4,367.0h0.9M467.3,372.0h0.9M466.5,371.4h0.9M462.5,365.4h0.9M465.1,368.9h0.9M457.8,372.5h0.9M471.0,367.5h0.9M467.8,374.0h0.9M465.3,367.4h0.9M467.8,371.0h0.9M456.9,369.5h0.9M462.1,374.2h0.9M467.3,361.2h0.9M459.3,376.4h0.9M458.3,375.1h0.9M459.5,375.0h0.9M460.3,375.9h0.9M458.9,376.1h0.9M460.2,375.6h0.9M460.1,372.8h0.9M459.8,374.3h0.9M459.5,376.8h0.9M487.6,348.2h0.9M498.8,346.5h0.9M499.0,328.9h0.9M486.9,325.5h0.9M499.0,354.4h0.9M502.1,325.9h0.9M495.2,330.8h0.9M501.3,338.2h0.9M493.8,344.6h0.9M490.3,334.7h0.9M495.0,330.0h0.9M490.4,329.8h0.9M498.9,331.3h0.9M497.2,346.1h0.9M490.5,361.5h0.9M487.9,323.7h0.9M495.1,330.4h0.9M493.8,343.0h0.9M495.6,366.7h0.9M496.9,332.6h0.9M498.3,358.5h0.9M498.7,329.8h0.9M493.3,358.2h0.9M488.3,337.0h0.9M492.0,368.0h0.9M494.8,359.4h0.9M490.4,331.3h0.9M489.2,332.0h0.9M492.2,366.9h0.9M493.0,330.1h0.9M495.5,373.0h0.9M482.8,374.9h0.9M491.3,375.9h0.9M477.6,374.6h0.9M487.4,374.1h0.9M490.4,372.0h0.9M492.8,371.7h0.9M478.2,371.7h0.9M482.9,371.2h0.9M492.3,377.0h0.9M494.9,375.7h0.9M493.0,373.5h0.9M471.0,373.3h0.9" stroke="#000" stroke-opacity="0.5" stroke-width="0.9" fill="none"/><path d="M486.1,328.0h0.9M484.4,337.6h0.9M475.5,321.9h0.9M486.7,335.0h0.9M475.6,335.1h0.9M479.6,336.6h0.9M484.3,333.0h0.9M481.0,325.4h0.9M481.9,335.0h0.9M486.0,343.3h0.9M476.1,352.1h0.9M481.3,340.3h0.9M480.6,346.2h0.9M481.6,338.1h0.9M486.2,324.1h0.9M479.7,351.1h0.9M469.4,326.0h0.9M478.2,334.2h0.9M488.8,331.3h0.9M488.6,334.8h0.9M479.4,317.8h0.9M485.3,323.4h0.9M492.4,332.2h0.9M488.8,341.2h0.9M470.1,318.5h0.9M487.4,325.0h0.9M484.5,326.4h0.9M479.6,338.9h0.9M475.7,350.1h0.9M478.2,320.7h0.9M482.3,326.7h0.9M478.6,327.0h0.9M479.4,341.9h0.9M482.3,330.7h0.9M474.7,341.8h0.9M478.3,315.3h0.9M470.0,329.0h0.9M470.5,327.8h0.9M474.9,347.8h0.9M486.7,329.2h0.9M475.6,323.9h0.9M483.2,351.4h0.9M479.1,331.6h0.9M479.4,329.6h0.9M484.6,340.4h0.9M480.4,330.9h0.9M487.8,342.7h0.9M475.8,340.1h0.9M485.1,322.2h0.9M474.9,353.3h0.9M480.0,337.4h0.9M484.2,333.7h0.9M481.0,336.5h0.9M481.8,339.0h0.9M477.1,342.7h0.9M482.9,342.7h0.9M488.6,322.1h0.9M490.9,331.1h0.9M489.9,320.9h0.9M476.6,342.2h0.9M477.5,325.3h0.9M477.2,317.3h0.9M483.9,335.0h0.9M487.7,330.4h0.9M493.4,339.3h0.9M486.0,329.6h0.9M478.2,348.1h0.9M470.4,346.3h0.9M474.1,337.8h0.9M491.0,330.6h0.9M477.2,332.1h0.9M481.5,321.2h0.9M482.0,319.7h0.9M480.3,326.7h0.9M479.4,343.2h0.9M472.2,328.7h0.9M482.9,335.2h0.9M482.3,324.3h0.9M482.4,334.9h0.9M482.2,347.0h0.9M474.2,345.2h0.9M485.7,327.6h0.9M480.3,342.2h0.9M482.4,321.4h0.9M487.3,334.6h0.9M470.2,328.0h0.9M477.6,327.1h0.9M488.9,330.1h0.9M484.3,320.2h0.9M471.0,330.7h0.9M482.0,342.8h0.9M480.8,326.9h0.9M481.9,339.3h0.9M484.9,347.5h0.9M484.9,328.4h0.9M482.1,323.9h0.9M486.9,333.8h0.9M478.2,339.8h0.9M491.2,333.2h0.9M473.6,334.4h0.9M482.4,330.9h0.9M478.3,340.8h0.9M484.9,339.0h0.9M479.1,326.0h0.9M476.5,327.6h0.9M480.0,339.5h0.9M481.4,329.2h0.9M484.3,321.8h0.9M485.7,328.1h0.9M479.3,333.9h0.9M485.5,334.0h0.9M483.9,321.1h0.9M486.1,345.0h0.9M477.4,328.4h0.9M475.9,341.3h0.9M475.9,330.2h0.9M477.2,353.2h0.9M483.9,334.2h0.9M474.3,341.8h0.9M476.9,330.5h0.9M478.6,328.2h0.9M480.7,316.7h0.9M468.4,324.5h0.9M479.3,319.9h0.9M474.2,332.8h0.9M480.4,336.7h0.9M481.9,348.9h0.9M480.4,332.9h0.9M475.7,338.5h0.9M495.2,322.2h0.9M483.1,325.2h0.9M482.9,334.4h0.9M477.9,334.3h0.9M474.8,318.2h0.9M488.1,326.6h0.9M478.4,332.4h0.9M480.4,325.7h0.9M470.6,336.9h0.9M474.7,344.0h0.9M483.7,331.2h0.9M482.6,316.2h0.9M472.5,324.2h0.9M474.3,337.2h0.9M481.3,326.1h0.9M479.5,345.9h0.9M485.3,318.0h0.9M470.2,334.1h0.9M482.7,329.6h0.9M481.0,317.2h0.9M476.7,339.7h0.9M475.1,345.5h0.9M472.6,344.5h0.9M481.7,343.7h0.9M478.5,335.5h0.9M469.7,346.8h0.9M481.1,317.4h0.9M475.6,347.9h0.9M479.0,331.6h0.9M478.8,318.7h0.9M483.0,327.8h0.9M470.3,325.9h0.9M478.5,329.9h0.9M479.5,338.6h0.9M476.8,341.6h0.9M475.8,338.9h0.9M478.1,339.6h0.9M482.8,343.1h0.9M474.4,323.3h0.9M481.6,331.5h0.9M481.7,339.6h0.9M471.6,333.6h0.9M473.1,349.7h0.9M484.7,344.5h0.9M480.6,340.4h0.9M487.6,342.1h0.9M481.5,330.6h0.9M479.1,324.5h0.9M478.0,319.9h0.9M480.6,334.5h0.9M476.2,325.8h0.9M478.0,348.4h0.9M476.6,339.0h0.9M486.1,331.8h0.9M484.3,330.0h0.9M476.8,327.5h0.9M484.2,327.8h0.9M474.1,334.0h0.9M477.8,355.7h0.9M481.9,335.6h0.9M481.1,332.6h0.9M485.0,318.3h0.9M481.3,331.9h0.9M474.6,343.4h0.9M480.0,326.3h0.9M476.5,341.4h0.9M483.6,352.3h0.9M481.4,342.8h0.9M482.5,341.4h0.9M470.9,319.4h0.9M477.8,323.0h0.9M478.7,332.8h0.9M461.9,339.0h0.9M475.9,333.4h0.9M482.4,332.9h0.9M482.8,328.2h0.9M480.7,350.5h0.9M478.4,336.3h0.9M471.4,345.2h0.9M487.0,322.0h0.9M476.9,327.3h0.9M482.2,336.5h0.9M479.7,323.8h0.9M474.7,338.8h0.9M477.6,352.3h0.9M479.9,319.8h0.9M477.8,347.5h0.9M475.4,337.3h0.9M485.0,337.9h0.9M488.5,335.0h0.9M496.2,328.1h0.9M473.1,341.3h0.9M480.1,328.9h0.9M479.0,316.3h0.9M485.7,334.4h0.9M485.7,341.9h0.9M478.5,334.7h0.9M482.2,328.4h0.9M486.4,347.8h0.9M475.4,357.1h0.9M490.4,347.1h0.9M467.3,332.9h0.9M474.7,334.3h0.9M474.5,330.1h0.9M480.2,321.7h0.9M474.9,342.8h0.9M470.3,331.3h0.9M484.0,325.4h0.9M475.7,349.4h0.9M467.3,325.8h0.9M479.7,322.9h0.9M474.2,336.4h0.9M476.4,322.4h0.9M481.7,342.8h0.9M474.9,336.9h0.9M484.2,344.2h0.9M474.3,341.2h0.9M478.8,326.3h0.9M473.4,343.8h0.9M475.9,333.6h0.9M473.4,327.9h0.9M481.1,326.3h0.9M491.1,319.9h0.9M479.5,325.4h0.9M484.8,341.3h0.9M487.6,318.2h0.9M480.9,325.5h0.9M473.6,344.5h0.9M491.1,347.8h0.9M485.3,332.4h0.9M489.2,331.4h0.9M474.7,331.5h0.9M472.6,334.0h0.9M495.2,323.0h0.9M472.6,325.0h0.9M483.0,333.9h0.9M472.4,331.4h0.9M477.4,340.7h0.9M477.2,323.4h0.9M483.0,318.7h0.9M483.7,326.7h0.9M491.5,327.4h0.9M498.6,314.8h0.9M477.9,326.2h0.9M480.1,324.6h0.9M473.6,333.3h0.9M489.5,317.6h0.9M485.5,324.7h0.9M473.7,321.6h0.9M477.8,331.4h0.9M473.3,325.0h0.9M482.3,318.0h0.9M484.0,332.4h0.9M486.7,324.3h0.9M488.2,318.7h0.9M493.5,319.3h0.9M481.0,319.5h0.9M477.1,328.7h0.9M480.8,330.0h0.9M487.0,322.5h0.9M481.4,334.5h0.9M478.7,332.9h0.9M496.2,321.7h0.9M482.4,334.9h0.9M490.3,320.2h0.9M485.7,330.6h0.9M467.7,318.0h0.9M483.1,319.7h0.9M485.4,330.2h0.9M492.7,321.2h0.9M474.7,321.9h0.9M483.7,324.0h0.9M482.5,329.1h0.9M485.9,321.0h0.9M486.6,328.6h0.9M479.9,317.7h0.9M486.5,325.0h0.9M474.1,327.6h0.9M480.6,323.4h0.9M473.2,323.8h0.9M475.2,323.0h0.9M477.2,327.4h0.9M474.8,324.9h0.9M474.0,327.8h0.9M483.5,332.1h0.9M482.3,319.2h0.9M489.8,325.8h0.9M481.6,316.4h0.9M482.9,318.7h0.9M489.3,318.5h0.9M462.2,320.3h0.9M478.3,315.8h0.9M475.1,328.6h0.9M483.8,324.7h0.9M484.3,331.1h0.9M470.7,326.6h0.9M491.6,334.1h0.9M484.7,327.5h0.9M483.2,331.5h0.9M483.4,324.1h0.9M473.1,338.8h0.9M470.7,356.8h0.9M479.3,327.6h0.9M472.1,352.7h0.9M474.7,341.3h0.9M478.6,339.2h0.9M479.2,325.8h0.9M472.4,339.4h0.9M471.8,347.0h0.9M466.2,349.0h0.9M478.2,337.9h0.9M474.7,349.9h0.9M475.5,340.3h0.9M473.1,336.9h0.9M479.1,321.8h0.9M477.9,341.2h0.9M481.4,334.6h0.9M474.4,346.9h0.9M482.0,329.8h0.9M488.9,335.7h0.9M478.4,318.1h0.9M481.2,337.5h0.9M476.6,341.9h0.9M486.2,322.8h0.9M485.9,327.5h0.9M476.9,350.4h0.9M473.1,352.8h0.9M473.7,331.4h0.9M476.0,333.5h0.9M476.8,332.8h0.9M476.1,351.1h0.9M479.5,339.0h0.9M479.9,347.4h0.9M475.9,346.1h0.9M486.1,328.9h0.9M480.2,332.3h0.9M475.5,342.9h0.9M480.8,325.4h0.9M479.5,329.9h0.9M481.4,331.6h0.9M475.6,342.9h0.9M475.7,336.4h0.9M486.1,330.0h0.9M474.9,333.5h0.9M484.3,328.0h0.9M479.7,336.3h0.9M475.3,339.3h0.9M486.5,318.4h0.9M475.0,355.7h0.9M475.0,339.0h0.9M475.5,353.5h0.9M477.7,342.2h0.9M480.5,333.6h0.9M476.5,347.0h0.9M481.2,337.6h0.9M476.0,345.9h0.9M476.9,342.0h0.9M480.4,336.4h0.9M479.8,326.0h0.9M487.4,325.5h0.9M485.9,325.1h0.9M482.6,337.0h0.9M473.3,344.5h0.9M478.1,330.2h0.9M476.8,336.8h0.9M470.9,343.1h0.9M486.5,320.4h0.9M487.2,324.4h0.9M479.1,342.2h0.9M485.3,327.8h0.9M469.8,343.0h0.9M482.9,341.4h0.9M482.9,323.5h0.9M486.1,326.5h0.9M471.4,353.0h0.9M488.6,325.8h0.9M481.4,343.0h0.9M483.9,331.0h0.9M488.7,330.8h0.9M472.7,342.9h0.9M480.7,330.3h0.9M482.8,332.2h0.9M481.3,326.3h0.9M480.0,353.3h0.9M482.7,326.3h0.9M482.1,334.5h0.9M476.2,349.8h0.9M476.3,332.2h0.9M481.8,341.3h0.9M484.9,338.6h0.9M473.2,346.3h0.9M484.6,335.5h0.9M483.9,326.0h0.9M471.6,351.0h0.9M482.4,333.5h0.9M474.9,346.7h0.9M481.0,334.4h0.9M473.7,341.8h0.9M482.4,338.1h0.9M467.7,362.1h0.9M469.8,351.1h0.9M472.1,361.2h0.9M469.5,350.0h0.9M471.1,352.0h0.9M470.5,351.7h0.9M469.7,351.3h0.9M470.7,367.9h0.9M469.3,355.8h0.9M468.9,356.9h0.9M468.2,367.1h0.9M470.2,365.8h0.9M468.5,354.0h0.9M466.2,368.5h0.9M473.4,350.4h0.9M469.4,364.1h0.9M472.4,362.2h0.9M470.3,362.5h0.9M470.2,364.5h0.9M470.9,355.0h0.9M473.7,345.2h0.9M471.0,355.9h0.9M469.9,371.8h0.9M469.9,376.5h0.9M469.1,353.4h0.9M470.6,342.5h0.9M468.9,358.9h0.9M470.1,338.1h0.9M471.7,356.3h0.9M472.8,345.1h0.9M472.4,366.3h0.9M467.1,350.4h0.9M468.0,365.8h0.9M469.7,338.0h0.9M468.4,370.6h0.9M474.2,334.8h0.9M469.4,374.1h0.9M470.6,338.5h0.9M468.5,347.2h0.9M470.9,353.5h0.9M473.9,361.4h0.9M469.1,335.2h0.9M469.9,345.7h0.9M473.1,353.0h0.9M468.6,357.4h0.9M470.6,339.0h0.9M467.3,367.7h0.9M472.4,348.4h0.9M467.8,371.0h0.9M473.0,364.8h0.9M470.3,359.9h0.9M470.0,366.9h0.9M475.8,341.0h0.9M468.4,354.8h0.9M469.2,336.5h0.9M473.4,364.1h0.9M468.9,374.9h0.9M468.0,369.4h0.9M467.5,343.1h0.9M473.5,358.2h0.9M470.7,358.0h0.9M472.5,374.3h0.9M470.3,369.3h0.9M469.4,350.9h0.9M471.0,337.9h0.9M470.1,362.4h0.9M465.0,374.0h0.9M473.6,345.1h0.9M472.0,373.0h0.9M471.5,363.9h0.9M471.7,343.8h0.9M473.6,349.9h0.9M471.0,366.0h0.9M467.7,369.6h0.9M473.3,337.0h0.9M476.0,342.4h0.9M470.8,345.1h0.9M471.6,347.4h0.9M465.8,362.2h0.9M472.4,350.0h0.9M473.7,349.2h0.9M469.0,370.3h0.9M470.0,369.4h0.9M471.0,340.9h0.9M469.4,356.0h0.9M469.6,375.4h0.9M471.9,342.4h0.9M470.4,367.5h0.9M471.2,351.2h0.9M473.2,366.1h0.9M472.8,337.5h0.9M472.1,357.2h0.9M471.9,359.3h0.9M469.9,341.0h0.9M471.4,348.2h0.9M473.2,356.3h0.9M471.7,333.5h0.9M472.8,361.1h0.9M469.9,377.1h0.9M469.8,349.3h0.9M469.0,366.0h0.9M474.9,359.5h0.9M473.1,339.7h0.9M469.1,344.8h0.9M470.6,367.4h0.9M469.0,374.5h0.9M472.7,340.8h0.9M476.0,335.2h0.9M471.2,338.8h0.9M468.7,376.5h0.9M475.2,346.2h0.9M471.8,346.3h0.9M472.6,342.4h0.9M469.8,373.6h0.9M470.2,375.3h0.9M470.6,358.0h0.9M471.6,349.9h0.9M469.3,338.1h0.9M472.2,364.6h0.9M465.4,358.5h0.9M473.1,352.9h0.9M472.0,348.9h0.9M467.4,347.1h0.9M474.0,336.4h0.9M469.2,352.8h0.9M467.9,351.8h0.9M469.4,370.4h0.9M470.0,362.1h0.9M468.6,353.7h0.9M470.0,356.1h0.9M473.2,365.6h0.9M468.6,339.8h0.9M467.4,367.8h0.9M471.0,365.5h0.9M467.0,371.7h0.9M471.8,339.4h0.9M470.0,358.3h0.9M467.3,358.6h0.9M472.1,360.2h0.9M467.7,352.2h0.9M469.8,364.0h0.9M469.0,353.7h0.9M472.9,363.1h0.9M469.5,339.8h0.9M469.3,372.6h0.9M472.5,339.5h0.9M471.6,345.2h0.9M471.3,351.5h0.9M472.7,347.0h0.9M472.2,358.8h0.9M468.2,361.8h0.9M469.2,353.2h0.9M475.4,353.5h0.9M471.0,348.0h0.9M469.6,374.1h0.9M470.8,351.8h0.9M471.7,358.3h0.9M475.2,338.7h0.9M468.0,348.1h0.9M468.4,364.2h0.9M472.4,340.7h0.9M468.4,354.3h0.9M467.6,365.9h0.9M468.7,372.4h0.9M472.6,340.1h0.9M473.5,355.8h0.9M473.2,361.1h0.9M467.5,352.0h0.9M472.4,354.0h0.9M468.3,366.8h0.9M470.8,349.0h0.9M467.8,363.9h0.9M470.3,344.1h0.9M468.1,355.7h0.9M471.3,342.6h0.9M469.7,350.0h0.9M466.5,373.2h0.9M470.5,344.8h0.9M470.5,368.9h0.9M473.1,359.1h0.9M472.5,341.4h0.9M470.8,373.1h0.9M470.1,342.2h0.9M470.9,348.3h0.9M472.0,349.0h0.9M472.1,357.9h0.9M470.4,346.8h0.9M469.0,362.0h0.9M470.9,369.2h0.9M472.0,362.1h0.9M469.1,366.8h0.9M469.3,361.3h0.9M470.2,367.0h0.9M467.5,345.3h0.9M467.6,372.1h0.9M470.4,351.1h0.9M470.6,362.2h0.9M470.9,368.5h0.9M469.6,357.8h0.9M470.2,351.3h0.9M470.1,346.5h0.9M471.3,371.8h0.9M471.1,363.8h0.9M466.8,344.9h0.9M466.9,370.4h0.9M468.3,351.9h0.9M473.0,365.8h0.9M470.1,360.6h0.9M473.2,377.6h0.9M468.5,360.6h0.9M473.2,363.3h0.9M469.7,359.5h0.9M470.5,363.2h0.9M469.2,376.0h0.9M469.7,353.3h0.9M469.2,364.8h0.9M468.9,376.8h0.9M471.4,375.9h0.9M471.6,358.9h0.9M468.8,372.8h0.9M468.9,350.4h0.9M470.3,367.0h0.9M470.4,362.8h0.9M472.9,348.8h0.9M469.3,355.4h0.9M470.8,366.8h0.9M471.2,360.1h0.9M470.3,376.3h0.9M472.3,370.5h0.9M471.2,349.6h0.9M470.6,370.7h0.9M468.2,367.9h0.9M469.7,360.9h0.9M468.8,353.5h0.9M474.0,370.4h0.9M465.8,367.1h0.9M471.4,364.0h0.9M469.6,352.5h0.9M470.6,360.6h0.9M467.9,363.6h0.9M469.0,347.9h0.9M469.2,362.1h0.9M469.8,366.4h0.9M470.2,367.9h0.9M473.9,360.4h0.9M470.2,354.5h0.9M468.3,357.1h0.9M471.4,350.2h0.9M467.3,343.8h0.9M470.7,371.3h0.9M472.3,369.4h0.9M470.5,368.4h0.9M469.5,362.3h0.9M468.0,355.7h0.9M471.1,354.0h0.9M473.4,351.4h0.9M469.2,352.7h0.9M470.2,367.4h0.9M468.1,352.7h0.9M475.1,360.1h0.9M466.5,370.9h0.9M458.3,370.1h0.9M458.3,353.3h0.9M461.5,362.1h0.9M462.6,350.9h0.9M453.9,366.6h0.9M463.9,353.0h0.9M453.3,350.8h0.9M464.2,348.7h0.9M462.5,362.5h0.9M467.4,374.3h0.9M456.1,346.3h0.9M462.5,367.1h0.9M466.6,375.6h0.9M461.6,367.1h0.9M462.5,362.5h0.9M454.1,374.2h0.9M455.4,359.7h0.9M453.9,360.3h0.9M467.8,368.6h0.9M458.3,346.2h0.9M466.8,353.9h0.9M466.5,374.0h0.9M465.4,350.9h0.9M453.4,349.5h0.9M457.9,373.5h0.9M463.4,364.0h0.9M460.8,374.4h0.9M459.7,362.1h0.9M466.2,369.0h0.9M467.1,368.2h0.9M460.5,373.5h0.9M466.9,361.4h0.9M462.9,365.3h0.9M463.8,366.5h0.9M464.6,364.5h0.9M458.7,370.2h0.9M465.8,364.5h0.9M462.9,376.1h0.9M467.6,373.8h0.9M459.7,376.2h0.9M463.8,359.8h0.9M463.7,373.4h0.9M458.8,367.9h0.9M457.3,375.0h0.9M461.0,377.4h0.9M458.8,375.6h0.9M458.9,375.4h0.9M459.6,374.7h0.9M460.4,375.3h0.9M460.7,373.9h0.9M459.9,376.2h0.9M458.2,376.0h0.9M460.4,374.9h0.9M500.2,340.6h0.9M490.7,350.5h0.9M490.3,353.6h0.9M494.9,338.0h0.9M489.4,367.0h0.9M495.4,350.1h0.9M491.7,366.9h0.9M498.7,342.1h0.9M495.8,354.7h0.9M496.1,328.7h0.9M491.7,326.0h0.9M492.3,354.4h0.9M502.7,361.4h0.9M492.7,349.7h0.9M489.0,329.8h0.9M487.6,338.2h0.9M486.6,331.9h0.9M495.2,361.2h0.9M490.9,368.4h0.9M502.4,341.3h0.9M491.1,338.7h0.9M489.3,329.0h0.9M490.5,326.9h0.9M494.1,338.5h0.9M496.3,339.7h0.9M487.0,324.6h0.9M499.1,337.0h0.9M501.6,364.2h0.9M485.9,339.8h0.9M501.3,332.7h0.9M500.1,371.6h0.9M485.7,375.3h0.9M494.4,371.9h0.9M479.9,374.3h0.9M474.5,370.9h0.9M480.2,375.8h0.9M481.1,375.5h0.9M476.5,371.4h0.9M479.3,371.0h0.9M493.0,371.3h0.9M497.3,373.5h0.9M497.6,374.6h0.9M483.8,374.6h0.9" stroke="#000" stroke-opacity="0.5" stroke-width="0.9" fill="none"/><path d="M472.3,332.4h0.9M489.3,342.6h0.9M480.8,334.4h0.9M469.6,339.8h0.9M499.8,332.5h0.9M480.8,323.2h0.9M485.9,327.1h0.9M484.8,337.6h0.9M481.3,327.2h0.9M484.8,339.8h0.9M481.7,342.5h0.9M481.0,324.4h0.9M475.7,340.7h0.9M489.4,323.2h0.9M477.8,335.2h0.9M476.1,328.4h0.9M476.6,327.8h0.9M482.7,341.4h0.9M477.4,321.0h0.9M470.6,334.8h0.9M474.8,344.9h0.9M476.1,326.2h0.9M479.4,323.4h0.9M488.1,335.5h0.9M480.2,334.5h0.9M468.5,340.3h0.9M475.7,328.8h0.9M475.7,335.4h0.9M486.7,331.8h0.9M476.4,349.1h0.9M481.4,335.3h0.9M476.5,334.0h0.9M477.9,321.8h0.9M488.9,326.6h0.9M487.9,321.0h0.9M474.3,321.0h0.9M474.6,352.3h0.9M478.8,333.2h0.9M482.3,337.3h0.9M482.6,331.7h0.9M484.4,322.6h0.9M487.3,330.7h0.9M487.2,330.8h0.9M474.2,330.6h0.9M475.1,334.3h0.9M481.7,339.6h0.9M485.3,341.1h0.9M476.8,331.9h0.9M482.9,327.4h0.9M484.4,367.2h0.9M483.3,324.1h0.9M483.1,332.0h0.9M481.5,334.7h0.9M482.6,331.1h0.9M473.9,332.0h0.9M479.8,323.1h0.9M476.9,314.4h0.9M479.5,354.4h0.9M476.8,317.3h0.9M485.8,333.6h0.9M476.1,322.3h0.9M481.5,332.7h0.9M478.3,336.1h0.9M488.7,332.6h0.9M483.8,342.3h0.9M472.3,330.8h0.9M479.9,334.6h0.9M480.2,329.9h0.9M484.6,331.8h0.9M477.9,330.1h0.9M471.9,338.1h0.9M494.9,332.6h0.9M477.2,339.0h0.9M480.3,360.2h0.9M478.2,329.8h0.9M475.5,341.0h0.9M483.2,320.3h0.9M476.8,343.9h0.9M473.9,328.6h0.9M484.6,337.1h0.9M478.2,336.6h0.9M481.9,325.1h0.9M476.5,339.9h0.9M484.1,322.3h0.9M472.8,329.5h0.9M482.3,335.0h0.9M482.1,349.3h0.9M472.8,333.5h0.9M486.7,318.9h0.9M482.2,323.3h0.9M476.1,357.9h0.9M486.3,337.1h0.9M481.1,348.4h0.9M477.4,344.4h0.9M466.0,325.8h0.9M473.2,331.0h0.9M472.9,345.6h0.9M485.1,324.4h0.9M486.5,318.1h0.9M487.8,329.4h0.9M482.1,327.1h0.9M484.7,336.8h0.9M465.1,339.1h0.9M474.2,328.8h0.9M474.9,341.5h0.9M479.6,324.3h0.9M481.9,336.4h0.9M483.8,336.7h0.9M471.6,332.0h0.9M472.7,341.8h0.9M475.5,344.8h0.9M485.7,346.9h0.9M487.3,332.0h0.9M484.1,336.6h0.9M491.6,351.5h0.9M495.8,316.6h0.9M480.6,345.7h0.9M494.2,331.1h0.9M480.6,331.3h0.9M475.6,332.1h0.9M488.0,329.7h0.9M461.1,335.8h0.9M473.0,331.1h0.9M480.3,324.7h0.9M488.9,337.8h0.9M493.3,319.6h0.9M468.5,324.4h0.9M480.4,341.2h0.9M478.6,331.5h0.9M476.2,334.1h0.9M476.6,334.0h0.9M479.4,324.6h0.9M481.1,341.2h0.9M474.1,343.3h0.9M478.8,346.7h0.9M476.3,328.3h0.9M478.8,345.1h0.9M470.0,347.9h0.9M481.7,321.5h0.9M480.9,327.2h0.9M480.8,344.3h0.9M469.4,324.3h0.9M479.3,350.4h0.9M483.3,339.7h0.9M489.6,342.5h0.9M485.9,336.8h0.9M483.5,332.5h0.9M476.3,338.1h0.9M480.8,340.4h0.9M488.3,331.4h0.9M485.4,323.2h0.9M481.4,341.8h0.9M477.9,342.9h0.9M478.2,324.4h0.9M479.2,325.5h0.9M481.2,331.9h0.9M478.2,332.6h0.9M477.8,342.5h0.9M482.6,338.3h0.9M478.8,341.7h0.9M485.1,331.7h0.9M474.9,337.3h0.9M474.7,339.4h0.9M484.8,343.5h0.9M485.8,336.8h0.9M485.6,334.3h0.9M469.1,316.9h0.9M475.0,338.4h0.9M484.8,341.7h0.9M478.4,326.5h0.9M472.3,328.9h0.9M476.5,347.3h0.9M472.6,333.7h0.9M478.5,338.4h0.9M485.1,340.0h0.9M480.0,344.6h0.9M475.2,347.2h0.9M485.4,317.7h0.9M468.1,321.1h0.9M496.5,321.1h0.9M483.2,332.8h0.9M483.7,315.3h0.9M477.6,321.5h0.9M477.2,333.4h0.9M481.2,344.1h0.9M483.5,335.9h0.9M482.3,323.8h0.9M469.7,339.5h0.9M473.9,345.6h0.9M469.5,330.0h0.9M482.9,332.6h0.9M476.4,329.8h0.9M477.3,339.3h0.9M479.9,320.8h0.9M487.2,333.7h0.9M475.9,347.7h0.9M479.2,327.1h0.9M483.6,332.6h0.9M485.4,322.2h0.9M477.1,324.2h0.9M475.7,325.4h0.9M479.8,324.6h0.9M484.8,321.1h0.9M486.6,321.8h0.9M478.6,346.8h0.9M486.5,319.8h0.9M485.5,335.1h0.9M470.7,318.9h0.9M483.1,346.7h0.9M472.9,323.9h0.9M487.8,328.2h0.9M478.0,342.3h0.9M466.1,332.1h0.9M477.5,351.6h0.9M478.1,334.1h0.9M478.1,326.6h0.9M485.2,315.8h0.9M473.5,344.1h0.9M474.7,334.8h0.9M486.1,332.5h0.9M483.8,361.9h0.9M484.5,345.2h0.9M485.1,340.5h0.9M473.0,330.3h0.9M482.0,336.1h0.9M481.5,343.5h0.9M487.3,330.8h0.9M479.3,317.7h0.9M473.0,318.2h0.9M476.9,342.9h0.9M476.3,338.1h0.9M474.3,337.5h0.9M480.7,337.4h0.9M486.3,333.6h0.9M476.8,339.1h0.9M482.7,334.4h0.9M478.2,347.3h0.9M482.2,319.4h0.9M479.4,331.4h0.9M482.2,331.1h0.9M484.0,338.8h0.9M482.5,336.2h0.9M469.1,328.8h0.9M471.1,333.6h0.9M481.8,341.6h0.9M483.3,325.3h0.9M479.5,348.7h0.9M472.7,338.5h0.9M480.3,328.5h0.9M478.5,337.8h0.9M482.5,344.5h0.9M478.1,324.4h0.9M480.2,335.0h0.9M479.5,340.9h0.9M474.4,325.2h0.9M493.3,340.7h0.9M486.8,329.0h0.9M478.9,329.9h0.9M481.7,330.5h0.9M486.6,319.5h0.9M476.3,333.0h0.9M487.7,330.9h0.9M493.1,326.1h0.9M474.0,324.3h0.9M490.3,315.1h0.9M480.7,315.3h0.9M490.3,334.6h0.9M481.4,353.1h0.9M482.5,330.8h0.9M480.0,327.7h0.9M482.0,326.9h0.9M479.2,325.1h0.9M472.9,318.5h0.9M484.9,321.8h0.9M488.3,329.7h0.9M488.6,321.5h0.9M480.6,324.6h0.9M482.4,316.9h0.9M488.6,320.4h0.9M485.9,318.5h0.9M485.5,324.2h0.9M472.4,323.3h0.9M477.3,319.9h0.9M474.8,326.5h0.9M484.7,321.2h0.9M478.5,321.7h0.9M467.2,323.5h0.9M476.9,319.0h0.9M479.3,324.0h0.9M475.0,323.1h0.9M475.9,323.2h0.9M477.2,314.7h0.9M489.5,324.1h0.9M490.7,326.3h0.9M479.4,321.4h0.9M477.0,318.6h0.9M475.4,315.9h0.9M474.6,333.7h0.9M479.2,326.9h0.9M481.7,319.3h0.9M476.9,328.3h0.9M485.0,322.6h0.9M460.3,318.7h0.9M480.4,331.5h0.9M479.0,324.3h0.9M479.4,318.0h0.9M478.1,316.7h0.9M487.6,325.5h0.9M474.4,336.9h0.9M470.9,329.7h0.9M476.4,324.6h0.9M487.0,319.3h0.9M481.5,318.9h0.9M464.2,319.7h0.9M478.4,320.8h0.9M487.2,314.3h0.9M481.7,331.4h0.9M480.5,329.9h0.9M479.0,332.4h0.9M467.3,317.8h0.9M484.8,318.8h0.9M485.1,326.9h0.9M484.7,315.1h0.9M480.0,318.8h0.9M473.8,320.2h0.9M478.0,328.0h0.9M480.6,319.8h0.9M491.4,325.6h0.9M481.0,341.0h0.9M473.7,343.1h0.9M480.3,349.0h0.9M474.5,342.6h0.9M480.5,325.5h0.9M490.7,324.6h0.9M494.1,327.2h0.9M478.0,332.8h0.9M473.2,357.5h0.9M481.8,320.6h0.9M475.9,349.8h0.9M482.9,334.4h0.9M480.3,315.8h0.9M481.8,352.9h0.9M479.6,337.4h0.9M481.8,327.5h0.9M477.3,320.9h0.9M477.7,337.4h0.9M480.8,322.8h0.9M474.4,349.9h0.9M483.7,326.6h0.9M470.5,350.9h0.9M485.7,325.5h0.9M470.9,355.2h0.9M476.2,342.9h0.9M477.5,348.3h0.9M481.1,322.3h0.9M482.0,339.7h0.9M483.5,330.9h0.9M475.9,354.6h0.9M475.4,340.1h0.9M480.2,329.5h0.9M483.6,323.3h0.9M478.1,350.4h0.9M474.0,344.8h0.9M466.3,345.4h0.9M480.6,326.5h0.9M483.4,320.8h0.9M474.3,342.8h0.9M474.8,346.3h0.9M475.5,341.8h0.9M481.3,329.3h0.9M469.9,353.1h0.9M476.1,351.7h0.9M483.0,335.6h0.9M477.1,359.4h0.9M470.7,352.0h0.9M477.9,343.9h0.9M478.2,338.0h0.9M482.2,324.4h0.9M476.0,332.7h0.9M484.7,322.3h0.9M472.5,349.2h0.9M471.0,342.6h0.9M484.5,329.7h0.9M469.1,347.9h0.9M474.3,338.5h0.9M475.5,345.1h0.9M478.7,326.4h0.9M475.5,333.6h0.9M478.8,340.0h0.9M485.7,325.0h0.9M481.8,346.9h0.9M471.4,333.7h0.9M484.7,322.3h0.9M482.3,350.4h0.9M475.1,340.7h0.9M484.1,337.7h0.9M478.3,326.3h0.9M479.4,330.7h0.9M475.4,347.9h0.9M476.1,327.3h0.9M484.5,332.5h0.9M483.3,332.9h0.9M477.8,345.7h0.9M483.3,321.0h0.9M470.0,345.3h0.9M476.0,347.6h0.9M472.1,348.9h0.9M479.2,327.1h0.9M476.9,337.1h0.9M477.4,351.0h0.9M475.5,347.4h0.9M467.4,346.5h0.9M487.6,321.7h0.9M477.7,345.4h0.9M470.8,349.2h0.9M474.4,343.2h0.9M473.1,338.0h0.9M476.8,352.1h0.9M482.3,327.0h0.9M484.0,325.7h0.9M482.6,322.7h0.9M483.2,341.1h0.9M477.8,321.7h0.9M482.0,331.3h0.9M474.8,344.2h0.9M476.0,340.5h0.9M477.9,350.3h0.9M487.3,325.8h0.9M471.4,347.7h0.9M471.0,354.9h0.9M469.8,373.7h0.9M470.5,353.8h0.9M467.6,362.2h0.9M466.9,372.6h0.9M468.3,368.6h0.9M472.4,349.9h0.9M468.6,370.8h0.9M470.7,354.7h0.9M470.7,354.9h0.9M470.0,356.6h0.9M471.9,337.2h0.9M469.6,374.8h0.9M468.5,367.8h0.9M470.9,368.3h0.9M471.1,356.2h0.9M467.2,362.8h0.9M468.5,370.2h0.9M472.4,362.0h0.9M472.6,358.2h0.9M468.2,371.2h0.9M473.5,371.1h0.9M471.7,348.0h0.9M468.6,349.2h0.9M472.3,367.6h0.9M469.5,365.1h0.9M469.8,353.8h0.9M475.1,339.4h0.9M469.0,368.3h0.9M470.5,350.1h0.9M475.6,350.3h0.9M469.4,360.9h0.9M471.6,362.8h0.9M469.6,363.2h0.9M475.4,339.7h0.9M466.9,359.2h0.9M471.9,362.6h0.9M471.7,349.3h0.9M469.5,370.7h0.9M470.9,359.1h0.9M469.9,352.0h0.9M470.0,344.5h0.9M472.8,350.2h0.9M469.7,376.7h0.9M473.5,346.2h0.9M468.8,351.4h0.9M471.0,367.8h0.9M472.0,364.7h0.9M470.7,345.4h0.9M466.3,376.1h0.9M467.8,373.7h0.9M473.6,355.1h0.9M472.4,351.7h0.9M472.8,348.6h0.9M473.1,342.4h0.9M467.5,372.2h0.9M470.3,350.8h0.9M472.5,334.7h0.9M469.9,356.2h0.9M473.9,338.7h0.9M474.0,337.1h0.9M469.4,363.9h0.9M472.2,364.3h0.9M472.9,357.6h0.9M470.6,342.9h0.9M470.9,370.5h0.9M472.1,343.8h0.9M473.0,367.9h0.9M467.4,375.4h0.9M470.7,347.5h0.9M471.1,344.8h0.9M469.6,359.9h0.9M468.8,351.3h0.9M471.8,361.5h0.9M467.8,361.4h0.9M471.2,348.0h0.9M472.6,355.0h0.9M471.9,374.5h0.9M470.8,351.4h0.9M473.7,341.7h0.9M471.4,356.9h0.9M469.0,369.8h0.9M469.8,364.9h0.9M470.4,358.3h0.9M471.3,365.2h0.9M468.4,376.2h0.9M470.8,359.8h0.9M467.1,354.4h0.9M471.2,346.0h0.9M472.5,343.9h0.9M471.3,346.1h0.9M475.1,348.4h0.9M469.6,346.2h0.9M472.4,336.9h0.9M472.5,343.0h0.9M467.8,373.2h0.9M470.9,359.1h0.9M469.3,365.1h0.9M468.7,373.9h0.9M472.0,372.7h0.9M469.9,348.7h0.9M466.8,375.0h0.9M469.1,369.2h0.9M471.3,373.6h0.9M471.0,372.2h0.9M472.8,341.1h0.9M472.1,342.1h0.9M472.0,337.2h0.9M468.1,363.4h0.9M470.6,350.4h0.9M471.7,340.7h0.9M467.3,346.4h0.9M472.9,346.4h0.9M472.0,343.5h0.9M467.6,373.0h0.9M471.9,364.0h0.9M470.4,347.5h0.9M473.8,356.8h0.9M471.4,355.7h0.9M468.2,364.2h0.9M470.6,357.0h0.9M468.4,360.8h0.9M469.5,351.3h0.9M472.4,338.6h0.9M469.9,340.8h0.9M466.7,362.5h0.9M475.6,342.9h0.9M471.6,347.6h0.9M471.5,340.4h0.9M469.3,357.2h0.9M471.8,361.3h0.9M470.8,350.4h0.9M470.1,353.2h0.9M472.5,359.8h0.9M470.4,347.5h0.9M468.5,359.6h0.9M471.9,338.8h0.9M470.5,375.6h0.9M472.4,361.3h0.9M470.9,344.2h0.9M473.1,351.5h0.9M467.6,372.2h0.9M472.8,357.3h0.9M474.6,352.1h0.9M471.2,339.2h0.9M472.5,351.3h0.9M470.0,353.6h0.9M474.9,342.2h0.9M472.7,354.5h0.9M472.0,354.6h0.9M472.1,357.3h0.9M471.6,335.9h0.9M469.0,359.0h0.9M467.7,361.9h0.9M468.5,366.9h0.9M472.3,357.3h0.9M470.8,344.6h0.9M472.4,358.3h0.9M470.7,354.2h0.9M474.0,342.7h0.9M467.3,376.2h0.9M475.4,338.5h0.9M473.0,343.7h0.9M469.9,362.1h0.9M472.0,358.4h0.9M467.5,342.8h0.9M472.9,345.4h0.9M471.9,363.6h0.9M472.1,359.7h0.9M471.8,354.5h0.9M471.1,340.7h0.9M472.5,347.1h0.9M475.3,343.5h0.9M472.4,347.6h0.9M469.4,366.0h0.9M470.1,357.9h0.9M469.9,365.8h0.9M471.3,341.7h0.9M473.0,356.7h0.9M472.3,338.1h0.9M468.7,352.7h0.9M469.0,337.5h0.9M472.8,343.2h0.9M468.9,369.4h0.9M475.5,351.9h0.9M472.4,366.1h0.9M469.5,362.9h0.9M469.4,361.8h0.9M469.4,368.9h0.9M473.2,365.5h0.9M471.6,350.9h0.9M468.0,340.7h0.9M472.0,369.9h0.9M467.4,359.3h0.9M466.8,345.4h0.9M472.4,365.1h0.9M469.1,367.3h0.9M467.8,364.4h0.9M470.8,364.1h0.9M470.8,366.2h0.9M469.7,370.5h0.9M469.7,359.2h0.9M468.1,362.5h0.9M470.0,357.3h0.9M468.5,367.1h0.9M472.0,375.5h0.9M472.4,362.8h0.9M467.9,364.5h0.9M469.8,366.0h0.9M471.4,364.0h0.9M469.5,368.3h0.9M467.0,346.2h0.9M469.8,368.9h0.9M469.8,369.5h0.9M467.6,363.5h0.9M471.3,367.4h0.9M469.2,353.0h0.9M468.0,360.3h0.9M468.6,352.9h0.9M470.5,357.1h0.9M470.4,371.7h0.9M472.2,362.1h0.9M467.7,369.0h0.9M470.9,370.7h0.9M469.2,370.6h0.9M469.4,369.9h0.9M467.5,363.4h0.9M470.9,362.9h0.9M467.6,362.2h0.9M471.2,361.5h0.9M470.5,361.2h0.9M470.4,373.4h0.9M469.6,363.4h0.9M468.4,361.4h0.9M470.2,350.3h0.9M472.7,362.4h0.9M470.3,357.9h0.9M469.6,349.9h0.9M468.6,358.0h0.9M471.1,351.0h0.9M466.8,364.4h0.9M469.1,360.4h0.9M472.4,360.3h0.9M474.9,362.6h0.9M473.3,370.7h0.9M473.3,375.7h0.9M470.7,368.2h0.9M467.9,361.2h0.9M470.1,369.9h0.9M470.4,372.0h0.9M470.4,360.2h0.9M471.5,362.6h0.9M468.9,344.7h0.9M473.0,365.4h0.9M470.2,353.9h0.9M468.7,360.5h0.9M471.1,351.6h0.9M469.6,361.1h0.9M471.4,348.5h0.9M466.6,373.4h0.9M465.3,358.2h0.9M455.9,364.7h0.9M459.2,346.5h0.9M465.7,358.7h0.9M460.4,365.1h0.9M454.9,365.8h0.9M461.7,362.3h0.9M460.3,369.6h0.9M460.4,364.2h0.9M464.9,349.4h0.9M465.9,375.8h0.9M466.3,357.1h0.9M453.6,369.6h0.9M458.3,362.5h0.9M464.9,371.6h0.9M454.4,357.4h0.9M462.5,370.2h0.9M458.3,346.7h0.9M453.7,364.4h0.9M457.9,355.3h0.9M458.6,347.9h0.9M460.0,363.7h0.9M460.2,354.7h0.9M464.7,359.7h0.9M462.0,363.0h0.9M457.9,364.9h0.9M464.4,372.9h0.9M460.4,361.1h0.9M466.0,367.8h0.9M458.7,358.2h0.9M460.2,365.9h0.9M463.6,360.3h0.9M461.1,369.5h0.9M464.5,366.5h0.9M467.6,373.5h0.9M461.2,367.7h0.9M462.2,365.1h0.9M461.6,373.5h0.9M462.5,372.6h0.9M463.1,377.4h0.9M461.0,367.6h0.9M457.7,360.6h0.9M465.1,371.1h0.9M459.8,375.2h0.9M458.3,374.6h0.9M461.2,374.9h0.9M459.1,375.8h0.9M460.3,374.1h0.9M460.8,374.7h0.9M458.8,377.6h0.9M458.3,375.1h0.9M460.3,374.6h0.9M460.8,372.9h0.9M490.0,361.0h0.9M491.4,353.7h0.9M496.6,363.9h0.9M486.2,364.6h0.9M493.3,360.7h0.9M502.3,350.6h0.9M488.8,332.6h0.9M502.8,365.1h0.9M488.2,352.8h0.9M489.3,337.0h0.9M502.8,344.2h0.9M495.1,337.9h0.9M488.5,323.4h0.9M485.9,357.4h0.9M499.5,368.3h0.9M502.2,357.6h0.9M490.8,325.0h0.9M492.7,365.1h0.9M494.3,353.8h0.9M495.4,358.7h0.9M495.7,343.6h0.9M494.6,332.6h0.9M489.6,355.3h0.9M490.7,328.0h0.9M491.9,335.9h0.9M501.3,339.7h0.9M494.3,323.3h0.9M491.0,337.7h0.9M495.1,351.0h0.9M497.8,365.5h0.9M486.8,377.1h0.9M494.0,375.4h0.9M487.8,370.8h0.9M495.7,376.3h0.9M499.2,377.0h0.9M500.6,370.8h0.9M476.2,371.8h0.9M483.2,372.9h0.9M494.1,371.5h0.9M475.9,371.8h0.9M483.4,373.0h0.9M478.5,373.4h0.9" stroke="#000" stroke-opacity="0.5" stroke-width="0.9" fill="none"/><path d="M483.0,343.7h0.9M479.6,330.3h0.9M478.2,332.4h0.9M471.8,331.3h0.9M485.2,320.1h0.9M483.5,325.1h0.9M486.1,331.8h0.9M490.0,329.3h0.9M474.2,329.1h0.9M481.3,340.5h0.9M485.4,321.9h0.9M479.5,336.6h0.9M486.8,330.2h0.9M480.2,339.3h0.9M495.0,339.0h0.9M484.5,346.9h0.9M483.7,329.7h0.9M477.4,330.7h0.9M481.2,335.0h0.9M470.6,366.9h0.9M490.0,321.5h0.9M473.1,326.4h0.9M479.5,320.2h0.9M475.9,333.8h0.9M477.4,346.9h0.9M476.1,345.8h0.9M484.8,341.6h0.9M481.6,342.8h0.9M481.5,334.1h0.9M483.4,333.6h0.9M475.8,325.3h0.9M486.9,333.7h0.9M472.7,322.2h0.9M484.7,340.8h0.9M486.4,329.3h0.9M483.1,353.4h0.9M483.6,325.9h0.9M481.0,329.7h0.9M470.7,331.4h0.9M481.5,344.7h0.9M478.0,341.8h0.9M476.6,330.1h0.9M471.5,343.2h0.9M493.2,327.1h0.9M483.2,345.6h0.9M478.2,325.1h0.9M480.2,339.5h0.9M482.6,346.2h0.9M479.6,315.2h0.9M482.6,329.6h0.9M481.0,328.1h0.9M470.2,332.4h0.9M473.4,329.3h0.9M493.7,342.1h0.9M479.4,332.1h0.9M481.4,338.5h0.9M476.0,325.8h0.9M479.8,316.1h0.9M480.8,323.1h0.9M474.9,322.6h0.9M474.4,331.0h0.9M472.9,322.4h0.9M480.1,354.2h0.9M481.1,329.4h0.9M483.6,343.0h0.9M477.0,339.0h0.9M480.3,335.9h0.9M494.4,331.3h0.9M466.4,329.6h0.9M475.5,325.4h0.9M475.7,335.1h0.9M479.8,325.8h0.9M477.2,321.5h0.9M490.7,322.9h0.9M478.0,332.0h0.9M481.5,341.7h0.9M480.7,326.3h0.9M475.1,337.1h0.9M478.2,325.5h0.9M478.8,318.2h0.9M478.2,320.8h0.9M477.7,342.0h0.9M475.5,338.9h0.9M484.7,347.7h0.9M488.6,330.0h0.9M487.5,340.0h0.9M470.2,330.8h0.9M478.5,318.0h0.9M486.5,315.3h0.9M477.3,335.6h0.9M485.0,336.0h0.9M469.0,322.2h0.9M476.7,329.1h0.9M483.0,322.8h0.9M476.0,333.8h0.9M477.4,362.3h0.9M478.3,320.0h0.9M479.4,345.0h0.9M484.3,336.8h0.9M483.4,326.5h0.9M473.2,329.8h0.9M471.0,336.2h0.9M484.4,320.5h0.9M498.5,335.0h0.9M478.6,341.4h0.9M487.4,328.8h0.9M476.1,319.2h0.9M481.9,337.2h0.9M481.4,315.0h0.9M490.6,331.1h0.9M484.7,338.9h0.9M486.3,326.0h0.9M477.8,314.9h0.9M472.1,326.0h0.9M488.7,348.9h0.9M483.5,320.9h0.9M482.0,327.5h0.9M477.4,326.0h0.9M482.3,343.4h0.9M475.3,329.4h0.9M474.2,334.9h0.9M486.3,316.7h0.9M468.5,341.7h0.9M478.3,330.9h0.9M475.9,331.8h0.9M474.2,316.1h0.9M488.8,343.0h0.9M479.2,336.1h0.9M492.7,337.1h0.9M476.4,354.2h0.9M482.7,346.2h0.9M489.9,321.5h0.9M479.2,326.7h0.9M486.1,324.4h0.9M494.5,347.9h0.9M480.1,350.6h0.9M485.1,352.1h0.9M476.5,333.0h0.9M468.7,332.3h0.9M476.8,328.5h0.9M481.6,345.6h0.9M481.7,338.1h0.9M491.8,342.4h0.9M485.2,335.2h0.9M482.4,339.6h0.9M477.5,338.1h0.9M470.8,337.5h0.9M478.1,334.8h0.9M476.0,330.7h0.9M486.0,335.4h0.9M485.2,325.9h0.9M483.2,344.3h0.9M489.1,332.4h0.9M480.0,334.9h0.9M478.0,337.3h0.9M477.6,341.6h0.9M476.8,337.4h0.9M477.1,331.6h0.9M478.4,348.1h0.9M480.6,335.7h0.9M482.1,347.6h0.9M485.6,336.5h0.9M484.6,345.5h0.9M477.9,321.2h0.9M486.7,336.8h0.9M486.2,325.1h0.9M475.1,342.7h0.9M478.4,351.1h0.9M478.2,341.6h0.9M487.6,333.1h0.9M469.8,326.1h0.9M477.2,319.0h0.9M476.9,338.8h0.9M477.1,332.6h0.9M481.1,321.9h0.9M481.9,323.7h0.9M486.3,317.7h0.9M484.3,339.7h0.9M483.3,332.0h0.9M489.2,337.6h0.9M479.5,335.0h0.9M479.0,342.5h0.9M481.2,327.8h0.9M479.7,334.7h0.9M477.1,338.6h0.9M460.0,336.5h0.9M487.2,337.4h0.9M479.6,327.0h0.9M477.6,343.9h0.9M482.7,317.7h0.9M485.9,330.0h0.9M475.8,339.0h0.9M484.5,328.2h0.9M478.6,327.5h0.9M475.9,337.9h0.9M493.9,351.2h0.9M478.9,347.5h0.9M476.4,325.9h0.9M472.5,332.6h0.9M477.0,337.7h0.9M473.6,325.7h0.9M470.4,344.3h0.9M490.5,326.0h0.9M480.2,350.7h0.9M487.0,338.5h0.9M467.9,326.5h0.9M487.6,319.1h0.9M496.1,345.6h0.9M479.3,333.7h0.9M481.5,337.6h0.9M477.7,338.0h0.9M485.3,343.9h0.9M474.9,345.5h0.9M477.3,323.4h0.9M476.0,336.9h0.9M477.5,335.7h0.9M473.9,326.4h0.9M477.5,325.2h0.9M475.1,334.9h0.9M484.3,320.6h0.9M481.6,342.1h0.9M473.2,321.8h0.9M491.9,334.9h0.9M488.2,344.1h0.9M475.3,332.4h0.9M474.0,329.1h0.9M473.4,340.4h0.9M484.2,343.0h0.9M486.1,335.9h0.9M473.2,316.2h0.9M479.9,325.5h0.9M490.9,338.7h0.9M476.6,339.1h0.9M480.9,332.8h0.9M474.1,324.8h0.9M480.1,340.7h0.9M494.9,347.4h0.9M489.7,338.8h0.9M489.3,326.5h0.9M481.5,322.7h0.9M480.0,329.3h0.9M474.8,355.5h0.9M488.8,346.9h0.9M472.3,344.0h0.9M483.0,340.8h0.9M474.3,327.4h0.9M476.1,329.6h0.9M465.1,323.3h0.9M476.2,350.7h0.9M489.8,328.0h0.9M477.9,329.9h0.9M489.2,328.3h0.9M475.8,331.3h0.9M479.0,344.5h0.9M479.5,321.0h0.9M473.4,346.0h0.9M475.2,329.4h0.9M482.4,330.4h0.9M479.1,329.8h0.9M477.8,332.5h0.9M478.5,323.3h0.9M483.5,339.2h0.9M489.0,315.3h0.9M482.5,331.3h0.9M481.7,333.4h0.9M482.4,333.0h0.9M479.6,345.9h0.9M481.7,338.0h0.9M481.3,329.6h0.9M480.4,315.5h0.9M465.0,331.3h0.9M484.6,314.4h0.9M470.0,324.7h0.9M485.5,333.5h0.9M485.8,322.1h0.9M479.5,325.1h0.9M480.4,326.3h0.9M484.3,322.6h0.9M484.9,327.2h0.9M487.5,334.9h0.9M486.7,330.8h0.9M477.8,324.0h0.9M472.9,324.5h0.9M476.2,324.4h0.9M463.1,322.4h0.9M486.8,321.9h0.9M475.5,322.8h0.9M488.2,326.5h0.9M483.3,319.6h0.9M467.1,319.0h0.9M483.3,326.7h0.9M483.1,320.2h0.9M475.5,330.9h0.9M496.0,332.6h0.9M481.5,321.5h0.9M477.3,326.5h0.9M479.2,317.4h0.9M486.4,321.0h0.9M474.4,322.4h0.9M484.5,329.8h0.9M490.6,320.9h0.9M472.8,326.5h0.9M477.7,322.7h0.9M481.0,318.7h0.9M465.9,325.3h0.9M486.6,327.2h0.9M491.6,325.6h0.9M478.8,323.7h0.9M485.8,326.3h0.9M481.3,332.4h0.9M477.1,319.5h0.9M472.0,331.1h0.9M476.4,316.8h0.9M476.3,330.1h0.9M465.3,333.1h0.9M475.1,327.6h0.9M474.3,320.8h0.9M474.4,322.2h0.9M478.6,324.7h0.9M475.2,330.3h0.9M480.9,328.1h0.9M492.3,314.6h0.9M481.1,329.3h0.9M485.1,320.7h0.9M486.4,322.9h0.9M470.8,327.3h0.9M491.6,316.2h0.9M493.3,327.1h0.9M484.7,326.3h0.9M477.5,337.9h0.9M475.4,337.6h0.9M474.2,337.0h0.9M478.8,341.1h0.9M485.1,327.8h0.9M474.2,355.2h0.9M482.0,334.6h0.9M479.8,348.7h0.9M478.5,352.2h0.9M471.5,342.7h0.9M484.8,325.4h0.9M478.6,328.8h0.9M476.0,342.9h0.9M487.2,333.6h0.9M484.0,328.6h0.9M474.6,353.4h0.9M476.3,334.6h0.9M480.7,334.8h0.9M480.0,319.6h0.9M486.6,331.5h0.9M474.0,347.0h0.9M476.1,338.7h0.9M484.2,320.5h0.9M476.0,338.4h0.9M474.0,341.7h0.9M482.1,327.2h0.9M481.9,328.4h0.9M479.7,325.1h0.9M486.7,330.8h0.9M477.7,341.3h0.9M471.3,349.3h0.9M481.6,335.6h0.9M482.8,333.8h0.9M488.3,322.0h0.9M483.3,330.5h0.9M475.3,350.2h0.9M477.6,327.5h0.9M478.7,335.2h0.9M484.9,326.0h0.9M481.3,328.6h0.9M475.5,347.6h0.9M480.0,329.0h0.9M478.4,347.4h0.9M472.4,339.0h0.9M472.7,344.5h0.9M485.9,326.2h0.9M474.9,351.1h0.9M474.6,339.7h0.9M476.9,347.1h0.9M474.7,341.4h0.9M474.3,345.1h0.9M481.8,328.3h0.9M478.2,336.2h0.9M480.4,333.7h0.9M480.3,332.6h0.9M479.3,335.6h0.9M471.8,351.7h0.9M476.6,337.2h0.9M483.4,326.0h0.9M482.7,340.1h0.9M480.1,346.9h0.9M486.7,326.3h0.9M489.3,319.4h0.9M474.6,355.8h0.9M483.9,317.9h0.9M485.2,324.9h0.9M483.4,325.4h0.9M476.1,339.9h0.9M470.2,354.1h0.9M479.3,327.3h0.9M482.5,338.7h0.9M480.7,335.7h0.9M480.3,343.9h0.9M482.7,328.9h0.9M483.4,329.2h0.9M485.6,341.3h0.9M477.9,338.8h0.9M475.0,348.8h0.9M472.2,350.6h0.9M474.9,339.1h0.9M483.8,321.1h0.9M469.1,351.8h0.9M472.1,348.2h0.9M467.9,357.2h0.9M479.3,331.8h0.9M468.4,350.8h0.9M480.2,331.5h0.9M476.5,346.0h0.9M482.3,325.5h0.9M487.0,317.7h0.9M488.7,324.2h0.9M482.8,336.5h0.9M478.0,335.9h0.9M480.7,337.9h0.9M479.7,335.3h0.9M478.3,348.2h0.9M480.4,318.0h0.9M479.8,348.9h0.9M481.1,319.7h0.9M467.0,362.7h0.9M474.1,354.5h0.9M470.2,368.2h0.9M471.9,352.0h0.9M473.2,352.4h0.9M471.5,348.8h0.9M472.7,358.1h0.9M475.3,338.8h0.9M473.5,343.2h0.9M474.4,342.4h0.9M471.6,352.8h0.9M471.4,346.3h0.9M472.7,336.8h0.9M468.7,375.6h0.9M471.6,369.8h0.9M471.7,351.9h0.9M471.5,350.4h0.9M468.9,351.9h0.9M470.0,358.7h0.9M471.3,337.5h0.9M468.9,366.3h0.9M472.3,362.8h0.9M473.5,361.2h0.9M469.7,342.4h0.9M471.8,356.9h0.9M468.3,363.7h0.9M468.4,355.7h0.9M468.4,358.0h0.9M474.0,364.9h0.9M466.9,360.6h0.9M471.5,335.8h0.9M471.5,360.7h0.9M470.4,365.7h0.9M471.9,347.9h0.9M473.3,361.9h0.9M469.9,358.7h0.9M472.8,353.3h0.9M467.3,365.0h0.9M469.5,369.7h0.9M468.2,369.9h0.9M469.5,358.1h0.9M468.5,351.4h0.9M471.1,360.0h0.9M468.7,353.2h0.9M463.8,369.9h0.9M467.3,363.4h0.9M471.1,360.6h0.9M469.7,355.8h0.9M473.1,356.0h0.9M472.9,349.8h0.9M471.2,351.6h0.9M471.1,377.0h0.9M472.7,346.6h0.9M473.1,338.8h0.9M470.9,359.9h0.9M469.2,375.3h0.9M473.1,355.4h0.9M470.9,355.3h0.9M469.4,364.0h0.9M472.5,376.2h0.9M475.3,350.8h0.9M470.0,369.0h0.9M469.6,372.2h0.9M467.6,358.3h0.9M471.0,374.6h0.9M469.6,363.2h0.9M472.0,351.5h0.9M469.0,349.7h0.9M472.4,368.9h0.9M473.5,364.0h0.9M472.8,361.3h0.9M469.6,337.5h0.9M469.6,357.5h0.9M473.5,334.9h0.9M466.1,366.9h0.9M468.8,368.4h0.9M469.7,371.5h0.9M471.0,353.9h0.9M472.7,339.3h0.9M468.9,373.9h0.9M471.8,358.5h0.9M474.3,361.6h0.9M472.1,355.6h0.9M470.7,369.2h0.9M470.6,359.4h0.9M472.6,341.7h0.9M468.8,376.0h0.9M471.4,332.8h0.9M472.7,334.8h0.9M471.0,342.4h0.9M472.1,363.4h0.9M469.7,358.0h0.9M472.5,357.7h0.9M471.6,359.4h0.9M467.1,363.9h0.9M467.0,363.9h0.9M471.2,369.9h0.9M469.6,346.7h0.9M470.2,362.7h0.9M470.5,351.5h0.9M472.1,337.8h0.9M469.0,373.2h0.9M471.0,355.6h0.9M470.3,349.8h0.9M472.6,333.3h0.9M470.8,357.6h0.9M475.4,348.8h0.9M466.6,356.4h0.9M471.4,347.7h0.9M471.9,349.3h0.9M469.2,350.9h0.9M468.4,366.5h0.9M469.4,358.8h0.9M470.4,352.6h0.9M467.7,363.4h0.9M467.9,356.1h0.9M474.6,340.2h0.9M468.4,354.6h0.9M470.7,341.7h0.9M469.3,348.5h0.9M474.5,344.7h0.9M471.3,353.9h0.9M470.4,358.7h0.9M466.5,370.3h0.9M471.0,338.2h0.9M470.9,346.5h0.9M469.2,347.2h0.9M471.8,368.8h0.9M472.3,345.5h0.9M471.7,356.7h0.9M474.2,340.9h0.9M468.6,360.7h0.9M470.9,366.5h0.9M472.2,360.5h0.9M473.5,342.3h0.9M474.1,336.2h0.9M470.6,344.1h0.9M473.5,355.2h0.9M471.3,344.4h0.9M470.1,347.7h0.9M471.8,347.2h0.9M467.6,347.2h0.9M470.2,356.7h0.9M469.5,356.3h0.9M469.9,365.7h0.9M469.7,352.3h0.9M473.5,340.5h0.9M473.4,360.7h0.9M472.3,345.4h0.9M472.7,372.2h0.9M472.7,348.3h0.9M467.9,367.6h0.9M469.1,349.9h0.9M468.2,351.4h0.9M470.4,373.5h0.9M472.0,340.4h0.9M469.9,343.1h0.9M474.1,347.0h0.9M472.5,348.1h0.9M475.3,354.1h0.9M472.8,358.0h0.9M470.6,365.3h0.9M474.6,352.4h0.9M472.0,358.8h0.9M473.8,346.0h0.9M467.8,365.0h0.9M472.6,356.2h0.9M470.0,355.4h0.9M469.8,361.4h0.9M468.6,334.7h0.9M469.8,373.1h0.9M470.4,374.4h0.9M465.2,374.1h0.9M473.1,334.6h0.9M473.2,343.3h0.9M470.3,364.4h0.9M472.2,367.0h0.9M471.7,354.0h0.9M469.5,360.2h0.9M468.0,370.2h0.9M473.5,340.9h0.9M467.7,353.5h0.9M468.1,371.3h0.9M470.1,351.8h0.9M467.2,365.4h0.9M473.0,352.2h0.9M469.5,356.7h0.9M470.8,375.4h0.9M469.3,361.1h0.9M469.6,366.7h0.9M469.5,368.2h0.9M471.5,363.0h0.9M469.8,360.7h0.9M469.7,360.5h0.9M472.4,366.1h0.9M471.4,351.4h0.9M472.0,361.8h0.9M475.2,341.6h0.9M468.6,374.8h0.9M471.6,343.8h0.9M472.6,366.9h0.9M466.0,352.0h0.9M472.1,348.5h0.9M471.0,358.0h0.9M466.9,342.6h0.9M471.1,372.1h0.9M470.7,355.7h0.9M467.6,365.0h0.9M470.8,366.9h0.9M473.7,369.5h0.9M467.9,363.0h0.9M468.0,363.2h0.9M468.9,359.4h0.9M471.3,363.9h0.9M468.3,361.9h0.9M473.2,353.9h0.9M473.1,367.7h0.9M466.7,367.2h0.9M473.0,353.4h0.9M467.1,360.7h0.9M474.4,353.1h0.9M471.3,357.8h0.9M470.6,347.0h0.9M474.4,363.6h0.9M471.5,355.0h0.9M471.3,360.0h0.9M470.7,363.5h0.9M468.2,351.6h0.9M469.9,366.4h0.9M469.9,351.8h0.9M468.8,371.5h0.9M471.8,355.9h0.9M468.8,370.5h0.9M468.2,365.9h0.9M467.5,359.2h0.9M471.5,372.6h0.9M472.1,354.5h0.9M467.3,364.3h0.9M473.7,349.3h0.9M470.7,352.9h0.9M469.9,362.4h0.9M466.4,368.0h0.9M470.9,367.4h0.9M472.0,334.1h0.9M469.1,357.7h0.9M469.4,366.5h0.9M469.7,359.8h0.9M471.6,374.8h0.9M470.8,365.8h0.9M472.7,364.1h0.9M472.3,364.3h0.9M467.8,362.8h0.9M468.9,366.4h0.9M467.2,357.7h0.9M465.4,362.1h0.9M467.1,367.6h0.9M469.7,368.1h0.9M469.6,365.7h0.9M471.0,347.1h0.9M472.1,375.5h0.9M454.6,351.2h0.9M459.2,367.3h0.9M463.7,352.8h0.9M461.0,366.2h0.9M467.2,374.8h0.9M457.9,364.1h0.9M467.5,374.6h0.9M465.4,346.9h0.9M467.6,370.3h0.9M459.7,357.6h0.9M460.5,361.2h0.9M458.1,364.4h0.9M460.4,359.8h0.9M454.8,361.2h0.9M459.0,350.7h0.9M464.2,358.2h0.9M465.6,355.5h0.9M466.3,371.0h0.9M456.2,376.4h0.9M456.2,354.5h0.9M454.9,349.0h0.9M465.0,351.8h0.9M454.3,373.6h0.9M461.5,353.7h0.9M460.7,366.2h0.9M460.4,366.3h0.9M457.0,367.0h0.9M463.0,367.9h0.9M460.9,366.9h0.9M462.7,361.5h0.9M464.9,363.1h0.9M461.5,367.7h0.9M464.0,375.0h0.9M459.9,361.8h0.9M463.7,369.0h0.9M461.6,371.2h0.9M469.1,368.9h0.9M463.3,374.8h0.9M459.7,372.6h0.9M465.3,370.0h0.9M468.6,366.6h0.9M460.5,362.6h0.9M469.1,368.1h0.9M465.2,366.6h0.9M457.4,373.5h0.9M457.8,373.7h0.9M459.2,375.3h0.9M459.9,376.6h0.9M460.1,377.4h0.9M458.4,375.9h0.9M459.4,376.6h0.9M458.5,374.9h0.9M458.9,376.4h0.9M458.7,375.3h0.9M488.3,348.9h0.9M499.4,359.7h0.9M493.2,326.0h0.9M486.7,339.1h0.9M492.9,352.7h0.9M490.1,329.6h0.9M497.2,346.2h0.9M488.9,340.2h0.9M499.8,341.9h0.9M497.5,357.0h0.9M500.1,334.4h0.9M487.8,335.6h0.9M499.8,325.2h0.9M500.1,325.0h0.9M502.7,332.1h0.9M488.7,341.3h0.9M502.4,367.5h0.9M502.1,335.9h0.9M487.3,341.2h0.9M491.0,355.2h0.9M493.8,349.0h0.9M501.7,332.6h0.9M491.6,366.3h0.9M494.3,357.3h0.9M487.2,344.7h0.9M498.1,363.2h0.9M495.7,343.3h0.9M491.5,339.0h0.9M491.4,356.1h0.9M488.5,357.7h0.9M487.0,376.4h0.9M494.8,372.1h0.9M501.9,374.9h0.9M502.3,375.0h0.9M497.2,371.9h0.9M495.5,375.3h0.9M485.4,371.8h0.9M474.1,371.9h0.9M485.1,371.6h0.9M499.0,371.2h0.9M491.3,373.8h0.9M477.2,376.7h0.9" stroke="#000" stroke-opacity="0.5" stroke-width="0.9" fill="none"/>
<rect x="450.5" y="313.5" width="54.0" height="65.0" fill="none" stroke="#222" stroke-width="1"/>
<line x1="466.5" y1="313.5" x2="466.5" y2="378.5" stroke="#333" stroke-width="1"/>
<line x1="466.5" y1="370.5" x2="504.5" y2="370.5" stroke="#333" stroke-width="1"/>
<text x="478.0" y="311.0" font-size="7.0" text-anchor="middle" font-weight="bold">Control</text>
<text x="477.0" y="392.5" font-size="7.0" text-anchor="middle" stroke="#111" stroke-width="0.15">DNA content</text>
<text x="441.5" y="346.0" font-size="6.8" text-anchor="middle" stroke="#111" stroke-width="0.14" transform="rotate(-90 441.5 346.0)">PCNA</text>
<text x="452.5" y="385.0" font-size="3.8" text-anchor="middle" fill="#444" stroke="none">0</text>
<text x="447.0" y="376.5" font-size="3.8" text-anchor="middle" fill="#444" stroke="none" transform="rotate(-90 447.0 376.5)">0</text>
<text x="462.5" y="385.0" font-size="3.8" text-anchor="middle" fill="#444" stroke="none">50</text>
<text x="447.0" y="364.3" font-size="3.8" text-anchor="middle" fill="#444" stroke="none" transform="rotate(-90 447.0 364.3)">50</text>
<text x="472.5" y="385.0" font-size="3.8" text-anchor="middle" fill="#444" stroke="none">100</text>
<text x="447.0" y="352.1" font-size="3.8" text-anchor="middle" fill="#444" stroke="none" transform="rotate(-90 447.0 352.1)">100</text>
<text x="482.5" y="385.0" font-size="3.8" text-anchor="middle" fill="#444" stroke="none">150</text>
<text x="447.0" y="339.9" font-size="3.8" text-anchor="middle" fill="#444" stroke="none" transform="rotate(-90 447.0 339.9)">150</text>
<text x="492.5" y="385.0" font-size="3.8" text-anchor="middle" fill="#444" stroke="none">200</text>
<text x="447.0" y="327.7" font-size="3.8" text-anchor="middle" fill="#444" stroke="none" transform="rotate(-90 447.0 327.7)">200</text>
<text x="502.5" y="385.0" font-size="3.8" text-anchor="middle" fill="#444" stroke="none">250</text>
<text x="447.0" y="315.5" font-size="3.8" text-anchor="middle" fill="#444" stroke="none" transform="rotate(-90 447.0 315.5)">250</text>
<path d="M454.5,470.0h0.9M454.7,466.1h0.9M456.8,473.3h0.9M463.9,467.8h0.9M457.8,467.2h0.9M457.1,455.6h0.9M459.4,471.3h0.9M455.4,471.5h0.9M460.0,469.8h0.9M452.0,470.7h0.9M460.0,469.0h0.9M466.8,466.9h0.9M454.7,469.8h0.9M457.7,472.7h0.9M454.9,466.2h0.9M458.8,462.3h0.9M461.6,463.6h0.9M456.8,472.4h0.9M457.3,463.9h0.9M458.3,461.3h0.9M457.0,464.8h0.9M458.8,474.0h0.9M458.1,474.5h0.9M456.4,462.1h0.9M455.8,468.8h0.9M458.7,464.9h0.9M460.5,474.0h0.9M456.1,471.6h0.9M461.0,467.7h0.9M457.6,471.4h0.9M460.1,475.8h0.9M461.0,473.5h0.9M456.3,464.5h0.9M460.6,466.1h0.9M454.9,463.5h0.9M459.9,469.0h0.9M458.6,468.4h0.9M458.1,471.0h0.9M455.1,464.3h0.9M456.8,473.1h0.9M456.9,471.7h0.9M458.0,474.2h0.9M456.0,466.5h0.9M459.2,473.4h0.9M456.3,475.3h0.9M461.7,468.3h0.9M455.7,465.7h0.9M457.2,460.5h0.9M457.6,464.1h0.9M459.4,464.2h0.9M457.6,471.6h0.9M459.1,471.7h0.9M461.6,464.2h0.9M456.9,466.6h0.9M456.5,472.8h0.9M455.2,466.8h0.9M452.7,458.0h0.9M455.9,459.6h0.9M459.4,468.4h0.9M458.5,473.9h0.9M458.1,464.6h0.9M460.4,472.1h0.9M459.5,465.6h0.9M458.9,468.3h0.9M453.1,473.2h0.9M458.5,472.3h0.9M456.8,463.7h0.9M459.4,473.9h0.9M456.9,463.2h0.9M456.6,468.0h0.9M459.2,466.9h0.9M460.9,468.0h0.9M459.1,472.3h0.9M459.2,471.3h0.9M457.9,466.0h0.9M459.3,470.5h0.9M459.7,474.8h0.9M465.6,459.3h0.9M458.3,469.1h0.9M457.7,466.7h0.9M457.3,472.8h0.9M457.7,465.7h0.9M455.8,469.9h0.9M456.7,454.5h0.9M457.8,466.0h0.9M458.9,470.0h0.9M456.7,470.3h0.9M457.6,460.1h0.9M458.5,467.7h0.9M458.6,462.2h0.9M455.8,463.9h0.9M459.3,470.1h0.9M458.6,475.6h0.9M464.3,462.1h0.9M454.8,470.9h0.9M460.1,464.1h0.9M457.6,467.9h0.9M460.9,473.5h0.9M459.5,467.2h0.9M457.0,468.3h0.9M459.5,463.6h0.9M460.1,467.3h0.9M462.8,467.0h0.9M460.1,465.3h0.9M455.2,464.9h0.9M460.2,472.3h0.9M459.6,471.7h0.9M458.0,460.1h0.9M457.7,474.6h0.9M459.7,475.7h0.9M458.8,465.8h0.9M454.6,468.6h0.9M459.5,461.0h0.9M456.0,469.9h0.9M456.5,464.4h0.9M456.5,465.8h0.9M458.6,475.3h0.9M456.6,471.7h0.9M456.7,467.7h0.9M455.0,472.2h0.9M454.3,474.1h0.9M456.2,471.5h0.9M455.9,458.7h0.9M459.9,462.1h0.9M455.9,468.5h0.9M457.6,469.1h0.9M454.9,462.1h0.9M457.7,468.5h0.9M456.9,467.5h0.9M459.0,467.5h0.9M455.5,468.8h0.9M462.2,453.6h0.9M454.7,465.9h0.9M459.1,465.3h0.9M458.3,467.0h0.9M453.5,471.8h0.9M457.1,467.3h0.9M458.5,465.0h0.9M461.1,467.6h0.9M459.5,466.9h0.9M460.2,472.8h0.9M458.0,471.2h0.9M457.9,469.2h0.9M457.0,470.6h0.9M456.6,475.5h0.9M453.5,467.9h0.9M461.3,466.7h0.9M454.6,473.0h0.9M459.0,470.9h0.9M460.4,462.0h0.9M459.5,468.8h0.9M457.3,472.6h0.9M462.8,466.6h0.9M460.8,466.4h0.9M458.7,465.2h0.9M459.0,469.1h0.9M462.2,468.4h0.9M461.4,471.3h0.9M461.5,472.0h0.9M459.6,471.6h0.9M459.0,458.8h0.9M457.9,464.4h0.9M456.5,472.9h0.9M455.5,458.4h0.9M457.5,468.7h0.9M462.7,467.6h0.9M460.7,450.7h0.9M462.0,450.1h0.9M464.2,453.5h0.9M459.9,458.5h0.9M466.4,447.8h0.9M456.4,472.2h0.9M459.8,466.5h0.9M462.3,447.2h0.9M462.0,451.3h0.9M455.6,465.9h0.9M464.0,447.4h0.9M456.1,468.1h0.9M455.8,471.3h0.9M456.6,467.2h0.9M456.8,463.7h0.9M457.8,472.7h0.9M457.2,454.0h0.9M461.5,456.5h0.9M459.4,443.6h0.9M463.6,449.5h0.9M464.6,448.1h0.9M458.3,471.8h0.9M462.9,451.8h0.9M455.5,457.0h0.9M463.6,440.9h0.9M459.8,469.1h0.9M460.1,457.0h0.9M457.4,471.2h0.9M459.1,463.0h0.9M462.4,466.5h0.9M460.0,448.7h0.9M467.0,456.1h0.9M460.7,469.9h0.9M460.6,448.5h0.9M462.1,465.5h0.9M464.6,449.2h0.9M462.5,450.5h0.9M457.7,467.7h0.9M458.3,465.7h0.9M460.6,460.1h0.9M461.9,460.3h0.9M459.1,471.9h0.9M461.5,446.0h0.9M460.6,456.7h0.9M460.5,460.4h0.9M459.8,453.0h0.9M460.5,460.8h0.9M458.9,470.0h0.9M462.2,447.8h0.9M459.8,469.0h0.9M464.3,450.6h0.9M455.8,463.3h0.9M460.7,468.6h0.9M453.6,466.8h0.9M462.6,446.9h0.9M454.2,467.3h0.9M457.6,460.8h0.9M459.9,442.5h0.9M459.1,462.6h0.9M459.0,467.2h0.9M460.1,448.2h0.9M459.7,472.6h0.9M462.5,459.1h0.9M463.9,442.6h0.9M456.4,469.4h0.9M464.3,451.3h0.9M461.9,459.7h0.9M458.1,446.0h0.9M462.7,441.6h0.9M459.9,443.9h0.9M463.3,459.2h0.9M453.9,468.0h0.9M465.8,447.9h0.9M458.8,450.6h0.9M460.7,459.4h0.9M456.7,458.4h0.9M463.4,446.4h0.9M458.6,460.0h0.9M458.8,464.2h0.9M459.9,470.7h0.9M456.4,469.6h0.9M458.1,452.2h0.9M459.8,465.2h0.9M464.2,464.7h0.9M457.8,463.2h0.9M460.6,474.8h0.9M459.9,474.2h0.9M459.4,456.6h0.9M458.1,466.1h0.9M459.0,451.2h0.9M458.7,457.8h0.9M456.5,450.5h0.9M463.9,450.9h0.9M464.5,457.4h0.9M458.0,446.4h0.9M461.7,447.2h0.9M457.0,463.0h0.9M460.8,452.8h0.9M460.3,469.3h0.9M454.7,465.1h0.9M461.1,458.9h0.9M460.0,467.3h0.9M463.3,455.8h0.9M458.5,452.8h0.9M456.5,470.7h0.9M454.8,467.4h0.9M463.8,458.8h0.9M463.4,448.2h0.9M459.6,459.9h0.9M463.8,441.3h0.9M460.4,443.7h0.9M463.6,441.2h0.9M458.4,467.7h0.9M459.5,457.7h0.9M456.8,458.6h0.9M457.5,467.9h0.9M460.2,448.5h0.9M458.1,469.3h0.9M468.6,425.3h0.9M467.3,435.1h0.9M464.9,439.5h0.9M475.0,420.2h0.9M455.3,449.8h0.9M468.2,429.5h0.9M466.5,423.8h0.9M464.1,423.4h0.9M465.6,446.3h0.9M459.5,454.5h0.9M463.6,429.1h0.9M467.9,427.0h0.9M456.7,444.0h0.9M461.0,440.7h0.9M463.5,452.2h0.9M465.8,445.6h0.9M468.8,423.5h0.9M467.5,429.1h0.9M467.3,428.4h0.9M464.1,427.3h0.9M464.4,428.6h0.9M464.3,429.4h0.9M460.2,452.3h0.9M457.9,445.2h0.9M466.3,434.5h0.9M460.0,429.9h0.9M467.1,428.4h0.9M469.8,431.2h0.9M462.7,424.8h0.9M465.5,439.6h0.9M468.8,430.2h0.9M466.9,423.0h0.9M460.7,424.1h0.9M461.6,437.3h0.9M464.8,433.2h0.9M463.2,444.4h0.9M463.4,442.3h0.9M463.8,438.5h0.9M454.4,447.5h0.9M470.0,423.6h0.9M469.4,422.4h0.9M461.4,450.6h0.9M462.6,432.3h0.9M467.2,437.0h0.9M466.4,430.8h0.9M465.3,430.9h0.9M471.1,418.3h0.9M463.8,435.1h0.9M468.2,430.9h0.9M468.8,422.6h0.9M472.2,472.6h0.9M472.3,473.8h0.9M473.0,469.7h0.9M473.9,470.7h0.9M467.7,469.2h0.9M470.9,472.3h0.9M472.3,472.9h0.9M471.0,471.4h0.9M470.2,470.7h0.9M470.8,469.4h0.9M471.0,472.4h0.9M469.4,471.1h0.9M470.4,471.5h0.9M473.5,468.7h0.9M472.9,468.2h0.9M473.6,468.2h0.9M469.3,466.5h0.9M472.6,471.1h0.9M470.6,465.6h0.9M471.0,467.0h0.9M471.9,471.9h0.9M473.6,468.6h0.9M470.9,471.3h0.9M471.2,475.1h0.9M470.3,475.5h0.9M470.1,472.1h0.9M467.8,470.7h0.9M467.9,469.9h0.9M468.6,471.0h0.9M473.5,471.6h0.9M472.1,471.6h0.9M470.4,472.6h0.9M470.9,474.5h0.9M469.4,472.5h0.9M470.0,472.2h0.9M469.8,472.1h0.9M472.2,468.1h0.9M472.2,467.7h0.9M469.3,473.3h0.9M472.0,464.2h0.9M471.0,473.3h0.9M474.8,472.9h0.9M470.8,467.9h0.9M469.0,473.4h0.9M469.7,472.3h0.9M470.7,470.5h0.9M469.4,472.1h0.9M470.3,469.7h0.9M471.3,469.1h0.9M473.4,475.0h0.9M470.7,468.4h0.9M470.1,473.7h0.9M470.0,471.2h0.9M471.9,472.8h0.9M470.6,475.2h0.9M470.9,474.6h0.9M471.9,472.6h0.9M471.6,468.0h0.9M470.6,469.6h0.9M467.9,471.2h0.9M471.9,470.7h0.9M470.4,473.4h0.9M469.1,465.6h0.9M469.9,473.1h0.9M472.1,469.0h0.9M472.4,471.3h0.9M466.8,470.5h0.9M470.5,470.0h0.9M466.7,474.7h0.9M469.9,469.4h0.9M470.2,473.7h0.9M469.7,469.5h0.9M469.7,468.3h0.9M471.8,473.1h0.9M468.3,470.4h0.9M472.3,475.1h0.9M470.8,460.7h0.9M472.6,468.3h0.9M471.6,470.1h0.9M469.2,467.6h0.9M486.7,425.7h0.9M486.6,454.1h0.9M485.4,425.1h0.9M485.1,458.8h0.9M484.6,461.3h0.9M486.3,441.2h0.9M484.5,456.4h0.9M482.9,448.2h0.9M488.5,422.8h0.9M487.2,452.1h0.9M488.6,431.2h0.9M486.9,451.6h0.9M491.5,458.3h0.9M488.5,423.3h0.9M488.5,453.4h0.9M488.0,459.9h0.9M485.6,430.1h0.9M488.0,443.6h0.9M485.4,429.5h0.9M485.5,428.9h0.9M484.6,448.5h0.9M483.5,441.1h0.9M490.1,426.4h0.9M485.4,454.1h0.9M486.2,438.6h0.9M486.0,419.0h0.9M485.9,429.8h0.9M485.6,460.0h0.9M485.3,438.9h0.9M485.0,447.5h0.9M485.7,441.3h0.9M482.1,457.1h0.9M483.6,457.1h0.9M484.4,435.2h0.9M480.7,469.2h0.9M485.9,456.7h0.9M484.3,441.5h0.9M487.4,422.1h0.9M484.1,447.9h0.9M486.3,432.3h0.9M487.0,419.0h0.9M488.3,439.8h0.9M485.5,456.3h0.9M485.3,431.5h0.9M480.4,439.0h0.9M486.6,447.3h0.9M489.7,436.0h0.9M484.1,417.3h0.9M487.6,455.5h0.9M484.8,421.0h0.9M489.0,442.2h0.9M484.3,449.6h0.9M486.2,445.1h0.9M488.4,435.4h0.9M485.3,431.5h0.9M487.8,421.1h0.9M487.1,435.0h0.9M486.7,428.0h0.9M487.8,433.1h0.9M484.0,421.5h0.9M486.0,445.1h0.9M486.7,423.2h0.9M487.5,436.8h0.9M484.5,432.4h0.9M486.2,443.5h0.9M487.5,462.4h0.9M487.2,418.6h0.9M485.8,460.6h0.9M483.4,428.7h0.9M485.1,455.3h0.9M483.6,456.1h0.9M487.1,443.5h0.9M486.9,458.4h0.9M485.8,444.3h0.9M483.1,451.6h0.9M488.5,422.6h0.9M484.6,427.6h0.9M487.1,450.2h0.9M486.3,421.5h0.9M484.1,430.3h0.9M486.0,426.0h0.9M485.5,444.4h0.9M484.7,457.0h0.9M487.7,435.2h0.9M486.2,461.3h0.9M489.7,458.7h0.9M484.7,424.4h0.9M483.3,416.8h0.9M485.0,464.4h0.9M487.0,425.7h0.9M486.8,424.4h0.9M484.2,465.9h0.9M486.8,452.3h0.9M485.8,442.2h0.9M485.6,445.0h0.9M486.6,453.8h0.9M490.6,447.9h0.9M486.4,460.6h0.9M489.6,451.3h0.9M484.1,432.7h0.9M484.7,443.3h0.9M484.2,465.2h0.9M484.9,447.0h0.9M485.8,447.8h0.9M489.6,453.7h0.9M484.7,445.5h0.9M487.5,457.7h0.9M487.3,467.8h0.9M485.6,424.4h0.9M486.8,428.0h0.9M485.2,463.1h0.9M488.3,450.9h0.9M486.4,441.9h0.9M486.7,420.2h0.9M486.5,438.7h0.9M485.2,458.5h0.9M486.6,446.9h0.9M487.5,446.1h0.9M486.9,429.2h0.9M485.9,429.3h0.9M485.3,443.1h0.9M486.0,434.2h0.9M482.1,428.4h0.9M487.8,428.9h0.9M486.4,440.2h0.9M485.9,419.7h0.9M490.7,455.1h0.9M486.4,445.6h0.9M485.3,437.1h0.9M487.3,454.2h0.9M485.7,438.2h0.9M486.1,441.7h0.9M489.4,442.5h0.9M485.3,443.7h0.9M485.5,435.8h0.9M489.4,441.9h0.9M485.5,447.3h0.9M485.3,446.1h0.9M489.2,418.4h0.9M486.9,450.4h0.9M486.3,418.0h0.9M485.7,446.9h0.9M488.1,419.6h0.9M481.3,428.6h0.9M484.1,442.3h0.9M485.5,464.3h0.9M486.1,458.1h0.9M486.2,441.8h0.9M484.4,455.5h0.9M490.3,441.8h0.9M486.3,448.6h0.9M487.2,454.1h0.9M487.2,461.1h0.9M487.5,449.9h0.9M488.4,458.5h0.9M487.6,427.6h0.9M485.5,441.6h0.9M483.5,465.7h0.9M486.9,465.7h0.9M485.1,426.6h0.9M489.5,425.1h0.9M485.6,442.5h0.9M488.1,460.4h0.9M488.1,440.5h0.9M482.8,457.1h0.9M488.6,429.1h0.9M484.8,467.1h0.9M484.3,433.9h0.9M482.9,437.1h0.9M483.6,460.2h0.9M486.0,459.7h0.9M485.2,460.9h0.9M485.3,425.9h0.9M482.5,433.2h0.9M486.8,463.0h0.9M487.9,417.1h0.9M487.2,421.8h0.9M487.6,451.9h0.9M486.4,454.1h0.9M489.1,428.2h0.9M486.8,422.2h0.9M492.1,458.8h0.9M486.6,435.8h0.9M484.4,458.1h0.9M489.3,441.3h0.9M487.3,464.7h0.9M484.8,430.2h0.9M485.8,426.2h0.9M487.4,453.6h0.9M483.6,456.9h0.9M485.7,440.9h0.9M483.4,451.0h0.9M483.7,420.6h0.9M486.9,448.7h0.9M484.2,433.5h0.9M486.3,448.9h0.9M485.1,433.6h0.9M483.8,462.6h0.9M486.9,450.8h0.9M484.7,436.3h0.9M490.1,426.7h0.9M485.4,444.7h0.9M485.2,427.2h0.9M485.4,433.7h0.9M485.0,460.8h0.9M486.6,415.9h0.9M486.0,443.5h0.9M486.9,430.6h0.9M487.9,455.7h0.9M485.3,435.1h0.9M482.9,448.9h0.9M484.9,438.6h0.9M483.4,446.6h0.9M488.2,451.0h0.9M486.6,435.9h0.9M485.1,431.9h0.9M490.4,452.0h0.9M487.3,434.2h0.9M489.0,459.1h0.9M488.2,438.2h0.9M483.6,431.0h0.9M485.5,456.9h0.9M486.5,447.0h0.9M487.8,442.8h0.9M488.4,463.7h0.9M487.0,436.1h0.9M485.5,417.1h0.9M486.5,439.6h0.9M488.2,453.7h0.9M488.1,426.5h0.9M488.8,443.4h0.9M483.7,420.1h0.9M487.5,448.8h0.9M487.6,438.3h0.9M488.8,421.7h0.9M481.0,446.5h0.9M484.4,447.3h0.9M486.4,434.9h0.9M487.9,421.5h0.9M483.0,437.1h0.9M484.3,426.5h0.9M486.4,432.6h0.9M487.7,418.1h0.9M489.3,449.7h0.9M485.4,441.6h0.9M485.4,445.9h0.9M485.9,427.8h0.9M487.1,435.9h0.9M486.2,422.6h0.9M475.8,419.1h0.9M480.0,438.5h0.9M469.0,468.3h0.9M467.4,426.7h0.9M477.1,443.0h0.9M473.5,418.8h0.9M469.3,425.1h0.9M475.5,439.4h0.9M478.0,419.2h0.9M479.3,450.0h0.9M472.6,439.2h0.9M477.2,446.8h0.9M470.5,456.4h0.9M476.6,430.3h0.9M466.8,441.6h0.9M481.4,430.6h0.9M470.7,469.0h0.9M473.2,419.5h0.9M470.7,422.3h0.9M472.7,421.7h0.9M478.8,436.1h0.9M473.6,435.8h0.9M470.8,462.0h0.9M476.7,465.4h0.9M478.2,458.5h0.9M467.4,463.6h0.9M480.0,436.8h0.9M482.8,456.1h0.9M474.0,442.1h0.9M480.8,421.8h0.9M469.3,440.4h0.9M472.8,417.8h0.9M477.8,465.7h0.9M480.8,431.2h0.9M476.8,445.2h0.9M481.8,416.9h0.9M474.5,456.2h0.9M467.3,458.0h0.9M473.6,418.9h0.9M482.2,420.5h0.9M476.3,454.0h0.9M474.4,429.9h0.9M468.6,436.9h0.9M470.5,468.3h0.9M468.7,439.8h0.9M474.1,463.2h0.9M474.9,447.0h0.9M473.8,425.9h0.9M467.1,441.2h0.9M478.2,459.0h0.9M467.9,462.7h0.9M472.2,463.5h0.9M467.6,432.0h0.9M470.2,417.0h0.9M480.5,427.3h0.9M467.1,466.8h0.9M480.5,464.2h0.9M472.1,443.8h0.9M467.3,467.8h0.9M469.8,421.3h0.9M478.1,425.1h0.9M477.2,469.5h0.9M471.5,469.3h0.9M500.3,455.1h0.9M502.4,434.0h0.9M493.2,438.8h0.9M489.6,459.3h0.9M494.5,451.2h0.9M500.0,437.5h0.9M492.9,447.1h0.9M498.0,469.7h0.9M498.5,452.9h0.9M497.0,429.8h0.9M502.8,422.5h0.9M502.7,462.1h0.9M489.5,451.7h0.9M502.7,419.4h0.9M496.4,454.2h0.9M494.7,461.3h0.9M494.8,440.8h0.9M490.4,446.7h0.9M494.8,424.4h0.9M489.4,465.5h0.9M494.2,422.8h0.9M499.7,465.3h0.9M493.8,448.7h0.9M492.4,441.2h0.9M500.3,449.5h0.9M494.5,459.1h0.9M497.8,423.4h0.9M499.7,441.8h0.9M496.2,440.5h0.9M499.9,420.4h0.9M454.1,449.5h0.9M453.9,457.0h0.9M453.5,449.9h0.9M452.4,464.7h0.9M453.7,445.1h0.9M453.0,453.7h0.9M454.0,469.6h0.9M455.0,447.4h0.9M453.9,448.0h0.9M455.5,441.2h0.9M452.2,473.2h0.9M455.7,454.7h0.9M454.3,458.7h0.9M453.9,454.8h0.9M452.2,441.3h0.9" stroke="#000" stroke-opacity="0.5" stroke-width="0.9" fill="none"/><path d="M457.4,466.4h0.9M459.7,473.2h0.9M458.3,468.0h0.9M460.0,472.3h0.9M456.0,471.9h0.9M461.6,467.7h0.9M456.2,473.5h0.9M458.5,474.1h0.9M456.1,474.9h0.9M452.0,470.3h0.9M458.3,464.2h0.9M457.5,468.8h0.9M459.2,466.9h0.9M456.5,461.6h0.9M463.5,462.5h0.9M456.7,472.8h0.9M462.3,462.1h0.9M461.5,465.7h0.9M458.1,474.1h0.9M460.2,466.9h0.9M458.2,473.4h0.9M454.3,468.8h0.9M460.9,461.2h0.9M461.1,467.7h0.9M457.6,471.4h0.9M461.1,466.1h0.9M459.9,463.0h0.9M456.2,472.2h0.9M462.4,472.0h0.9M461.1,461.6h0.9M457.6,472.0h0.9M455.5,467.6h0.9M456.5,465.0h0.9M460.4,462.6h0.9M458.7,466.5h0.9M460.9,473.9h0.9M456.4,469.4h0.9M453.4,461.0h0.9M459.8,469.1h0.9M462.8,457.0h0.9M455.5,473.5h0.9M461.2,473.8h0.9M457.2,473.3h0.9M458.7,473.2h0.9M455.7,472.5h0.9M459.3,473.7h0.9M460.7,467.4h0.9M458.3,475.1h0.9M457.9,469.9h0.9M457.3,472.5h0.9M461.4,475.5h0.9M461.5,460.2h0.9M454.0,465.9h0.9M460.5,460.5h0.9M462.9,474.2h0.9M459.4,464.8h0.9M458.5,474.0h0.9M456.7,464.9h0.9M457.0,467.2h0.9M457.0,465.3h0.9M458.2,463.4h0.9M456.2,471.1h0.9M458.8,468.1h0.9M459.2,473.7h0.9M457.7,470.3h0.9M459.0,469.8h0.9M458.7,460.9h0.9M456.7,469.8h0.9M455.8,470.9h0.9M456.6,474.9h0.9M462.9,475.2h0.9M459.2,467.3h0.9M462.8,465.4h0.9M453.6,472.9h0.9M457.6,472.1h0.9M458.5,468.2h0.9M457.8,458.3h0.9M459.6,471.3h0.9M456.0,459.6h0.9M459.1,466.9h0.9M458.0,467.2h0.9M458.7,470.2h0.9M457.2,473.2h0.9M459.6,461.1h0.9M458.8,462.7h0.9M458.1,464.0h0.9M459.6,473.3h0.9M456.4,456.7h0.9M461.7,468.0h0.9M456.4,464.1h0.9M462.0,465.6h0.9M459.4,475.3h0.9M455.8,471.7h0.9M463.6,470.4h0.9M454.6,470.8h0.9M456.7,468.1h0.9M454.0,471.8h0.9M456.8,465.7h0.9M455.4,469.2h0.9M455.7,466.4h0.9M457.7,467.3h0.9M459.9,468.8h0.9M454.6,468.1h0.9M455.8,465.3h0.9M460.0,463.0h0.9M453.8,475.6h0.9M456.4,471.5h0.9M457.0,467.5h0.9M456.5,462.2h0.9M460.0,463.3h0.9M458.0,465.4h0.9M460.0,472.6h0.9M459.1,463.9h0.9M460.7,464.5h0.9M456.4,473.9h0.9M460.7,472.4h0.9M460.0,465.2h0.9M454.9,471.2h0.9M459.7,464.7h0.9M458.3,472.6h0.9M454.3,464.8h0.9M463.1,471.0h0.9M457.5,466.8h0.9M458.1,467.7h0.9M455.9,468.6h0.9M452.7,471.8h0.9M463.2,468.0h0.9M457.3,468.2h0.9M458.6,468.7h0.9M456.2,468.6h0.9M456.7,467.7h0.9M457.3,462.7h0.9M457.8,458.2h0.9M457.0,472.0h0.9M460.2,468.2h0.9M452.9,470.4h0.9M460.2,471.1h0.9M456.4,472.7h0.9M458.1,462.7h0.9M458.1,470.5h0.9M456.2,468.5h0.9M463.1,463.9h0.9M460.3,473.9h0.9M454.4,469.8h0.9M459.0,470.4h0.9M457.8,464.2h0.9M458.5,471.7h0.9M459.3,474.4h0.9M456.9,474.8h0.9M456.3,470.2h0.9M461.1,468.7h0.9M459.9,470.8h0.9M455.8,469.0h0.9M459.6,467.3h0.9M458.6,470.0h0.9M455.8,467.8h0.9M457.3,465.5h0.9M457.3,462.9h0.9M457.2,470.7h0.9M455.4,464.1h0.9M464.4,444.1h0.9M458.9,473.2h0.9M458.4,446.8h0.9M460.1,447.1h0.9M457.0,472.1h0.9M461.3,440.5h0.9M457.4,468.1h0.9M457.5,456.1h0.9M462.5,448.6h0.9M459.9,463.3h0.9M456.4,474.6h0.9M463.5,450.3h0.9M454.5,468.9h0.9M460.4,444.1h0.9M460.6,453.6h0.9M461.6,469.6h0.9M459.4,447.1h0.9M457.5,469.0h0.9M463.4,456.6h0.9M461.8,443.7h0.9M457.9,462.7h0.9M454.9,462.0h0.9M459.6,466.5h0.9M459.2,472.6h0.9M460.9,448.7h0.9M460.8,456.6h0.9M459.4,454.9h0.9M461.0,451.2h0.9M463.6,443.0h0.9M466.2,449.2h0.9M462.7,452.7h0.9M460.5,459.7h0.9M462.0,455.1h0.9M459.9,467.1h0.9M459.9,463.5h0.9M461.5,444.5h0.9M459.5,466.5h0.9M461.1,454.9h0.9M457.2,472.8h0.9M456.9,472.7h0.9M463.4,443.5h0.9M460.9,461.3h0.9M458.0,470.7h0.9M459.8,440.7h0.9M459.2,450.9h0.9M464.0,444.1h0.9M457.3,462.5h0.9M462.5,445.0h0.9M456.7,473.6h0.9M456.1,467.5h0.9M462.0,457.3h0.9M458.8,472.4h0.9M459.0,443.9h0.9M460.7,450.7h0.9M462.3,462.3h0.9M461.2,457.1h0.9M458.2,466.6h0.9M460.5,455.4h0.9M457.1,467.7h0.9M462.3,460.4h0.9M459.8,460.0h0.9M465.4,454.1h0.9M455.2,475.4h0.9M459.6,449.7h0.9M456.5,467.0h0.9M465.1,450.2h0.9M458.1,459.6h0.9M454.8,471.4h0.9M458.7,466.6h0.9M464.3,440.5h0.9M455.8,471.6h0.9M455.7,465.1h0.9M460.8,461.7h0.9M460.2,454.0h0.9M460.6,460.0h0.9M462.9,459.9h0.9M456.0,464.6h0.9M461.0,446.2h0.9M462.0,451.6h0.9M460.8,443.4h0.9M454.5,456.5h0.9M460.3,472.6h0.9M463.3,443.2h0.9M462.1,456.0h0.9M458.6,454.0h0.9M461.0,449.1h0.9M454.4,467.7h0.9M459.0,447.2h0.9M460.6,460.3h0.9M458.1,447.6h0.9M459.6,463.4h0.9M459.8,453.9h0.9M461.0,446.7h0.9M456.4,445.5h0.9M465.1,453.8h0.9M458.4,445.7h0.9M462.1,446.5h0.9M464.7,446.3h0.9M461.9,442.7h0.9M457.5,461.2h0.9M459.3,462.0h0.9M459.9,469.7h0.9M464.0,442.3h0.9M459.8,466.5h0.9M457.6,472.5h0.9M461.6,441.6h0.9M463.1,441.7h0.9M462.6,445.5h0.9M460.9,454.3h0.9M462.8,442.2h0.9M459.6,465.3h0.9M460.4,456.6h0.9M459.2,460.8h0.9M459.2,447.3h0.9M460.2,461.5h0.9M458.1,473.1h0.9M462.4,445.3h0.9M457.2,456.3h0.9M458.8,467.3h0.9M458.1,442.8h0.9M462.1,437.3h0.9M458.7,460.0h0.9M464.6,454.2h0.9M464.7,455.3h0.9M464.8,441.0h0.9M462.1,453.0h0.9M466.0,438.7h0.9M462.4,451.3h0.9M458.8,439.5h0.9M460.2,447.8h0.9M467.5,424.8h0.9M462.1,440.0h0.9M460.8,453.6h0.9M466.7,444.2h0.9M466.8,423.3h0.9M466.8,441.6h0.9M463.9,449.7h0.9M466.2,432.3h0.9M460.2,439.6h0.9M465.9,446.6h0.9M466.7,434.0h0.9M463.3,450.3h0.9M463.0,430.9h0.9M465.1,428.6h0.9M463.9,452.2h0.9M463.7,434.6h0.9M465.3,427.8h0.9M465.4,423.0h0.9M468.9,429.7h0.9M460.1,434.6h0.9M464.9,440.2h0.9M464.4,441.0h0.9M465.6,444.0h0.9M464.2,445.1h0.9M461.7,443.0h0.9M464.5,437.7h0.9M472.7,416.6h0.9M464.4,426.0h0.9M467.8,437.1h0.9M464.7,437.4h0.9M459.1,444.4h0.9M461.8,439.2h0.9M465.5,430.2h0.9M464.0,448.9h0.9M460.4,437.3h0.9M465.5,428.0h0.9M464.7,451.6h0.9M464.3,428.3h0.9M466.5,422.8h0.9M457.7,448.7h0.9M460.4,450.9h0.9M464.8,439.3h0.9M466.4,424.0h0.9M467.1,449.4h0.9M469.6,472.4h0.9M474.3,468.4h0.9M471.9,474.1h0.9M468.6,474.7h0.9M470.8,468.8h0.9M472.5,471.7h0.9M472.0,466.1h0.9M468.7,468.3h0.9M473.6,466.9h0.9M468.6,465.8h0.9M469.2,465.3h0.9M470.2,471.6h0.9M470.1,475.1h0.9M471.1,470.3h0.9M470.8,471.3h0.9M475.0,473.6h0.9M471.7,471.1h0.9M471.9,466.6h0.9M470.3,473.1h0.9M471.6,474.9h0.9M471.5,467.2h0.9M472.3,472.6h0.9M470.4,472.6h0.9M471.5,469.4h0.9M474.2,474.9h0.9M470.4,473.3h0.9M470.6,474.4h0.9M470.8,471.1h0.9M470.2,471.6h0.9M471.5,473.5h0.9M472.8,471.0h0.9M470.1,466.9h0.9M472.1,475.3h0.9M471.7,467.6h0.9M470.0,464.2h0.9M472.1,470.1h0.9M475.2,473.6h0.9M471.9,470.5h0.9M471.7,470.4h0.9M472.5,469.8h0.9M471.7,471.8h0.9M469.1,472.6h0.9M469.8,470.6h0.9M472.7,475.1h0.9M470.9,461.1h0.9M470.6,471.7h0.9M467.1,473.8h0.9M469.4,470.6h0.9M471.6,472.0h0.9M470.7,469.2h0.9M471.7,466.0h0.9M473.0,468.6h0.9M469.2,467.4h0.9M470.8,474.1h0.9M471.6,475.3h0.9M471.9,468.6h0.9M471.2,466.9h0.9M470.0,471.5h0.9M468.3,469.9h0.9M471.2,471.7h0.9M470.8,470.5h0.9M466.9,470.3h0.9M474.1,470.3h0.9M471.1,469.0h0.9M472.6,469.9h0.9M470.7,471.6h0.9M471.1,466.7h0.9M470.5,474.5h0.9M470.4,473.7h0.9M472.7,474.7h0.9M469.2,468.0h0.9M470.4,468.8h0.9M473.2,475.0h0.9M471.3,470.7h0.9M470.9,469.8h0.9M473.1,473.1h0.9M469.5,471.1h0.9M470.2,468.9h0.9M472.1,471.0h0.9M483.3,447.0h0.9M486.6,447.3h0.9M486.3,451.4h0.9M486.2,441.8h0.9M487.0,444.5h0.9M485.7,465.7h0.9M488.4,427.4h0.9M485.2,444.2h0.9M486.0,434.5h0.9M484.5,467.5h0.9M483.4,466.0h0.9M483.3,427.5h0.9M485.5,438.0h0.9M487.9,445.5h0.9M482.7,460.2h0.9M487.1,445.0h0.9M487.6,438.2h0.9M484.4,438.6h0.9M482.5,467.7h0.9M486.5,450.4h0.9M484.7,435.5h0.9M487.5,435.1h0.9M488.2,438.1h0.9M490.0,448.8h0.9M483.6,438.5h0.9M488.6,462.2h0.9M486.2,457.0h0.9M487.0,462.5h0.9M486.1,434.3h0.9M485.7,458.4h0.9M488.5,450.8h0.9M486.0,439.4h0.9M485.1,448.0h0.9M486.0,431.0h0.9M483.5,426.3h0.9M483.4,436.6h0.9M485.8,431.8h0.9M485.0,464.3h0.9M489.1,456.3h0.9M486.5,454.2h0.9M485.5,418.0h0.9M483.9,448.9h0.9M486.7,436.5h0.9M486.6,432.7h0.9M483.7,464.7h0.9M489.2,430.6h0.9M486.5,427.6h0.9M485.6,428.1h0.9M487.5,447.3h0.9M484.5,447.4h0.9M489.1,439.9h0.9M483.4,424.2h0.9M484.1,445.5h0.9M483.6,464.1h0.9M486.3,421.2h0.9M485.5,466.0h0.9M488.1,445.6h0.9M484.6,462.2h0.9M489.8,437.3h0.9M483.5,418.9h0.9M485.8,440.9h0.9M485.8,432.7h0.9M488.0,440.4h0.9M485.7,462.5h0.9M485.1,446.6h0.9M487.2,456.8h0.9M486.5,452.1h0.9M485.3,439.3h0.9M486.0,459.9h0.9M483.5,452.4h0.9M490.8,452.4h0.9M488.7,422.9h0.9M484.1,453.0h0.9M485.2,421.5h0.9M485.6,431.8h0.9M482.9,449.3h0.9M486.7,432.0h0.9M483.1,429.2h0.9M484.1,435.2h0.9M486.1,457.8h0.9M485.7,458.6h0.9M488.3,442.8h0.9M487.0,420.3h0.9M485.7,455.7h0.9M490.7,463.6h0.9M488.5,452.6h0.9M489.4,416.7h0.9M486.4,465.8h0.9M485.1,456.2h0.9M488.0,430.7h0.9M483.3,418.7h0.9M487.3,443.3h0.9M485.0,428.4h0.9M487.0,428.0h0.9M488.8,430.3h0.9M491.8,448.1h0.9M487.6,464.3h0.9M484.8,424.5h0.9M486.8,417.5h0.9M487.1,451.9h0.9M482.7,437.4h0.9M485.3,452.9h0.9M483.9,455.9h0.9M484.5,447.5h0.9M486.4,463.0h0.9M486.3,425.8h0.9M480.9,467.4h0.9M487.0,468.3h0.9M484.3,431.3h0.9M483.1,429.0h0.9M484.5,415.7h0.9M483.9,438.2h0.9M482.1,442.3h0.9M484.8,460.5h0.9M488.0,428.8h0.9M486.5,437.6h0.9M486.6,436.4h0.9M486.5,429.7h0.9M488.2,455.7h0.9M483.5,465.5h0.9M484.2,448.2h0.9M483.5,441.3h0.9M488.4,421.1h0.9M487.6,441.2h0.9M489.0,461.9h0.9M483.0,420.0h0.9M487.7,424.4h0.9M484.3,446.3h0.9M487.8,420.0h0.9M486.5,428.2h0.9M482.7,466.6h0.9M488.1,426.1h0.9M483.4,432.4h0.9M488.6,442.1h0.9M486.8,425.0h0.9M484.8,459.2h0.9M487.2,434.4h0.9M485.0,438.0h0.9M484.6,462.5h0.9M484.6,461.0h0.9M487.1,427.6h0.9M487.5,433.4h0.9M488.1,446.8h0.9M484.4,433.7h0.9M484.3,446.2h0.9M484.8,457.6h0.9M489.5,427.1h0.9M488.0,413.2h0.9M485.8,438.4h0.9M485.0,433.3h0.9M486.3,440.7h0.9M482.2,419.9h0.9M484.8,441.2h0.9M486.8,430.5h0.9M484.4,427.3h0.9M484.4,435.5h0.9M485.7,421.6h0.9M488.1,463.7h0.9M487.5,442.5h0.9M485.2,431.8h0.9M486.1,457.6h0.9M487.4,421.9h0.9M487.2,441.9h0.9M483.1,458.3h0.9M483.0,433.0h0.9M490.1,464.9h0.9M485.4,459.1h0.9M485.1,430.0h0.9M484.6,440.7h0.9M492.2,445.1h0.9M487.9,434.4h0.9M483.8,453.4h0.9M487.8,438.5h0.9M485.5,453.9h0.9M487.7,449.7h0.9M486.3,459.9h0.9M488.7,458.0h0.9M486.8,451.6h0.9M486.5,438.3h0.9M487.9,462.1h0.9M486.6,438.4h0.9M486.2,416.3h0.9M485.7,420.9h0.9M484.3,461.4h0.9M487.8,433.4h0.9M488.4,461.8h0.9M486.5,428.8h0.9M486.3,461.5h0.9M487.2,422.7h0.9M485.7,434.2h0.9M487.4,463.8h0.9M487.9,424.0h0.9M483.9,456.4h0.9M487.7,423.4h0.9M485.4,461.7h0.9M482.9,451.0h0.9M486.5,463.7h0.9M485.9,427.8h0.9M486.5,449.6h0.9M487.1,418.5h0.9M485.2,442.2h0.9M486.2,430.5h0.9M485.0,458.7h0.9M483.0,424.8h0.9M486.0,451.9h0.9M488.9,429.1h0.9M487.3,453.6h0.9M487.0,454.7h0.9M483.2,451.7h0.9M486.7,425.7h0.9M483.0,456.8h0.9M484.2,419.1h0.9M488.7,437.2h0.9M488.7,441.7h0.9M486.1,454.0h0.9M485.1,447.0h0.9M488.8,432.3h0.9M490.8,445.6h0.9M488.9,459.9h0.9M483.9,438.4h0.9M485.8,432.4h0.9M488.5,462.1h0.9M485.0,428.7h0.9M486.9,425.8h0.9M486.0,425.1h0.9M485.4,461.4h0.9M486.8,462.0h0.9M487.7,426.8h0.9M486.4,465.5h0.9M487.5,456.4h0.9M486.1,433.7h0.9M482.4,433.8h0.9M488.1,465.4h0.9M485.0,422.7h0.9M486.6,461.7h0.9M486.6,432.6h0.9M489.5,439.7h0.9M486.7,452.2h0.9M486.8,462.6h0.9M483.2,431.9h0.9M485.3,454.9h0.9M488.0,459.6h0.9M483.8,433.7h0.9M487.4,441.3h0.9M487.0,458.6h0.9M485.2,420.5h0.9M488.8,423.0h0.9M483.2,449.5h0.9M485.2,469.5h0.9M487.8,434.7h0.9M470.0,422.2h0.9M469.3,463.9h0.9M470.0,446.4h0.9M470.3,428.0h0.9M476.7,418.8h0.9M479.5,424.8h0.9M479.3,447.1h0.9M475.7,442.2h0.9M481.3,442.6h0.9M471.7,422.3h0.9M480.1,456.8h0.9M468.1,430.4h0.9M480.9,420.4h0.9M481.6,467.7h0.9M476.2,452.9h0.9M477.6,455.1h0.9M476.6,465.8h0.9M473.6,446.2h0.9M469.9,464.4h0.9M482.8,466.7h0.9M477.8,427.9h0.9M468.1,415.8h0.9M471.3,426.2h0.9M480.6,469.5h0.9M476.2,440.6h0.9M475.6,458.6h0.9M481.2,440.8h0.9M482.4,428.0h0.9M479.1,461.2h0.9M470.6,429.8h0.9M472.8,453.6h0.9M479.6,444.3h0.9M466.8,467.4h0.9M479.9,417.6h0.9M478.8,422.4h0.9M481.8,435.7h0.9M476.7,445.7h0.9M472.5,443.5h0.9M471.8,468.6h0.9M482.0,432.4h0.9M473.9,466.9h0.9M471.7,462.2h0.9M476.9,425.0h0.9M467.0,426.7h0.9M480.1,431.5h0.9M467.5,424.8h0.9M471.0,446.7h0.9M473.2,452.0h0.9M466.7,454.5h0.9M480.0,431.3h0.9M469.3,435.4h0.9M482.6,446.2h0.9M476.9,433.7h0.9M475.0,457.2h0.9M477.6,426.7h0.9M473.0,432.4h0.9M468.7,416.9h0.9M482.8,428.7h0.9M475.6,447.9h0.9M472.3,420.8h0.9M481.8,446.1h0.9M470.8,444.1h0.9M499.1,459.3h0.9M497.1,420.1h0.9M496.4,464.8h0.9M492.3,465.4h0.9M491.6,444.5h0.9M501.6,471.1h0.9M494.5,466.1h0.9M501.3,442.0h0.9M489.5,435.1h0.9M491.9,442.4h0.9M501.8,453.6h0.9M499.3,464.2h0.9M492.3,469.3h0.9M498.9,448.3h0.9M490.2,422.4h0.9M494.9,428.6h0.9M500.0,473.3h0.9M495.0,432.5h0.9M493.0,469.0h0.9M501.2,434.1h0.9M501.3,460.0h0.9M497.3,434.0h0.9M501.0,462.6h0.9M497.9,440.1h0.9M502.9,459.8h0.9M502.5,425.2h0.9M496.7,453.6h0.9M499.4,425.1h0.9M490.6,431.8h0.9M495.8,451.1h0.9M452.6,462.3h0.9M455.1,454.0h0.9M452.9,456.3h0.9M454.9,471.6h0.9M454.3,462.5h0.9M455.8,467.6h0.9M452.4,471.3h0.9M452.7,449.5h0.9M454.3,459.0h0.9M454.3,459.0h0.9M455.8,440.1h0.9M451.9,441.4h0.9M455.8,445.3h0.9M453.6,450.3h0.9M455.3,452.1h0.9" stroke="#000" stroke-opacity="0.5" stroke-width="0.9" fill="none"/><path d="M460.4,469.2h0.9M462.2,472.2h0.9M463.1,473.1h0.9M459.5,472.1h0.9M455.8,465.5h0.9M456.6,472.6h0.9M459.1,463.2h0.9M454.9,474.5h0.9M460.6,470.6h0.9M457.0,471.3h0.9M458.1,469.5h0.9M459.8,462.5h0.9M454.3,468.1h0.9M456.5,470.6h0.9M458.2,463.5h0.9M457.8,462.3h0.9M453.9,466.9h0.9M454.8,467.0h0.9M456.4,475.8h0.9M460.8,469.9h0.9M458.3,468.6h0.9M459.5,473.7h0.9M458.5,475.1h0.9M457.1,464.5h0.9M458.5,475.2h0.9M454.3,475.5h0.9M458.6,463.7h0.9M458.6,465.9h0.9M461.2,462.0h0.9M460.1,469.5h0.9M458.9,472.9h0.9M454.6,467.5h0.9M455.5,472.0h0.9M461.6,466.7h0.9M459.1,469.8h0.9M453.3,460.0h0.9M458.2,463.5h0.9M462.2,468.1h0.9M454.1,469.7h0.9M456.5,469.1h0.9M460.2,473.4h0.9M457.0,466.5h0.9M460.2,468.7h0.9M456.5,472.3h0.9M457.5,467.2h0.9M458.2,472.2h0.9M460.3,466.9h0.9M457.6,462.8h0.9M461.4,463.1h0.9M457.4,469.7h0.9M456.0,472.9h0.9M460.8,466.2h0.9M457.9,475.1h0.9M456.5,464.5h0.9M455.0,467.9h0.9M458.5,468.2h0.9M459.3,460.7h0.9M457.8,470.9h0.9M461.0,467.5h0.9M454.6,465.5h0.9M458.3,469.7h0.9M455.3,466.2h0.9M456.1,462.0h0.9M459.6,461.8h0.9M462.9,466.2h0.9M452.9,470.2h0.9M462.7,467.9h0.9M458.8,473.8h0.9M461.1,465.0h0.9M458.9,472.1h0.9M455.2,463.8h0.9M457.6,475.2h0.9M456.8,464.1h0.9M458.4,470.5h0.9M453.0,473.1h0.9M458.6,470.5h0.9M451.6,474.6h0.9M456.4,458.8h0.9M460.2,466.3h0.9M454.6,471.4h0.9M459.5,465.6h0.9M460.4,474.1h0.9M460.0,472.2h0.9M458.2,471.3h0.9M459.5,470.7h0.9M456.8,469.2h0.9M458.7,470.0h0.9M459.3,473.4h0.9M458.9,468.6h0.9M460.0,463.5h0.9M458.3,474.7h0.9M459.6,474.6h0.9M459.7,475.8h0.9M458.5,465.0h0.9M458.0,468.3h0.9M462.9,473.0h0.9M456.9,470.9h0.9M454.6,466.1h0.9M458.9,458.9h0.9M458.1,463.9h0.9M458.4,472.8h0.9M454.7,468.7h0.9M457.6,471.5h0.9M457.6,466.6h0.9M455.9,473.5h0.9M458.7,463.7h0.9M456.6,454.1h0.9M458.8,466.8h0.9M456.9,473.6h0.9M459.6,466.3h0.9M457.8,468.3h0.9M458.6,464.0h0.9M457.6,463.6h0.9M455.8,464.7h0.9M460.5,474.2h0.9M457.7,464.8h0.9M459.9,467.9h0.9M458.3,471.2h0.9M453.2,466.0h0.9M458.5,475.3h0.9M459.2,468.1h0.9M458.1,469.5h0.9M462.5,464.4h0.9M458.3,468.8h0.9M457.7,467.7h0.9M454.2,467.7h0.9M460.0,466.1h0.9M456.4,468.2h0.9M454.8,473.0h0.9M455.9,465.5h0.9M460.1,466.2h0.9M454.2,472.6h0.9M456.0,467.1h0.9M455.4,466.7h0.9M458.0,464.2h0.9M458.0,465.7h0.9M460.0,470.3h0.9M458.5,467.5h0.9M456.3,462.0h0.9M457.1,460.0h0.9M456.8,474.1h0.9M458.7,474.9h0.9M453.2,469.0h0.9M459.3,475.0h0.9M459.4,461.3h0.9M459.0,464.5h0.9M459.1,465.0h0.9M459.5,468.0h0.9M460.3,474.3h0.9M454.6,468.4h0.9M456.9,468.6h0.9M455.4,468.4h0.9M461.3,463.6h0.9M455.0,474.6h0.9M455.5,470.2h0.9M458.5,463.7h0.9M454.2,471.8h0.9M452.8,465.0h0.9M459.7,466.6h0.9M462.0,451.1h0.9M455.9,463.6h0.9M459.8,442.2h0.9M457.7,465.2h0.9M460.9,473.7h0.9M456.6,464.2h0.9M457.6,464.2h0.9M459.6,466.2h0.9M458.0,467.3h0.9M459.8,445.4h0.9M460.3,463.5h0.9M461.9,452.7h0.9M458.9,463.6h0.9M456.2,473.9h0.9M459.8,460.3h0.9M459.8,452.1h0.9M457.3,473.5h0.9M459.9,449.6h0.9M459.3,446.0h0.9M463.2,450.3h0.9M458.0,470.5h0.9M458.4,471.4h0.9M454.0,458.6h0.9M459.8,461.1h0.9M462.6,452.0h0.9M460.2,443.2h0.9M461.3,453.0h0.9M462.2,441.9h0.9M459.6,452.8h0.9M466.0,442.9h0.9M456.6,471.1h0.9M462.1,459.1h0.9M459.6,472.8h0.9M458.5,457.9h0.9M464.1,450.5h0.9M464.0,449.1h0.9M461.5,448.6h0.9M458.5,464.9h0.9M458.2,461.0h0.9M462.2,452.3h0.9M461.4,448.8h0.9M462.4,441.1h0.9M457.7,462.9h0.9M457.3,445.3h0.9M460.1,466.8h0.9M460.4,446.9h0.9M458.3,442.6h0.9M459.8,450.0h0.9M459.5,451.8h0.9M456.1,471.2h0.9M459.5,438.9h0.9M465.8,454.6h0.9M459.8,469.5h0.9M458.8,455.5h0.9M461.8,450.6h0.9M456.9,469.6h0.9M456.3,470.9h0.9M457.7,450.3h0.9M456.1,467.3h0.9M457.3,465.3h0.9M459.3,462.9h0.9M458.3,456.1h0.9M457.6,471.0h0.9M465.7,446.0h0.9M462.2,458.7h0.9M463.3,453.2h0.9M461.1,451.5h0.9M458.0,453.7h0.9M459.1,459.5h0.9M458.4,455.2h0.9M458.6,470.2h0.9M456.8,463.6h0.9M458.1,461.3h0.9M461.7,464.1h0.9M461.6,445.9h0.9M457.6,471.1h0.9M459.0,467.7h0.9M460.6,466.0h0.9M455.7,469.8h0.9M461.2,449.4h0.9M461.1,451.9h0.9M460.0,453.4h0.9M460.0,457.3h0.9M460.9,453.9h0.9M455.9,470.7h0.9M457.2,466.0h0.9M461.2,463.0h0.9M463.6,445.9h0.9M458.0,457.6h0.9M459.7,454.1h0.9M461.6,443.6h0.9M451.5,471.2h0.9M459.1,464.6h0.9M454.9,468.7h0.9M457.0,473.5h0.9M459.7,453.6h0.9M462.8,444.6h0.9M460.7,460.5h0.9M462.3,439.9h0.9M455.1,450.9h0.9M462.5,448.3h0.9M460.6,444.2h0.9M460.6,449.6h0.9M458.3,463.6h0.9M455.1,462.6h0.9M462.6,452.1h0.9M463.5,447.9h0.9M459.0,452.5h0.9M457.7,460.8h0.9M459.2,453.5h0.9M460.3,464.5h0.9M459.6,459.3h0.9M456.3,471.8h0.9M463.1,455.2h0.9M461.9,443.0h0.9M461.1,460.5h0.9M457.6,472.0h0.9M461.3,446.6h0.9M462.9,463.2h0.9M454.6,468.4h0.9M460.6,451.8h0.9M461.7,454.4h0.9M466.1,443.1h0.9M455.8,466.7h0.9M468.2,422.3h0.9M464.8,434.6h0.9M468.0,433.9h0.9M465.8,436.3h0.9M458.8,440.9h0.9M464.6,428.9h0.9M470.3,427.2h0.9M466.5,435.3h0.9M469.2,433.6h0.9M461.7,436.4h0.9M469.4,432.6h0.9M462.2,449.8h0.9M468.5,427.4h0.9M468.2,430.3h0.9M467.0,446.0h0.9M463.3,436.3h0.9M465.0,440.8h0.9M462.5,450.4h0.9M463.7,447.5h0.9M463.6,428.3h0.9M465.7,434.3h0.9M461.7,445.3h0.9M459.5,441.0h0.9M466.3,442.5h0.9M464.4,436.6h0.9M468.0,433.0h0.9M464.3,434.8h0.9M466.4,433.3h0.9M459.8,434.0h0.9M465.6,434.5h0.9M458.5,448.2h0.9M462.4,437.8h0.9M469.6,430.7h0.9M469.1,430.8h0.9M465.9,432.5h0.9M462.4,443.6h0.9M467.2,421.5h0.9M462.7,438.8h0.9M465.5,421.0h0.9M465.1,430.5h0.9M460.0,451.7h0.9M461.4,436.1h0.9M463.7,441.4h0.9M466.2,428.3h0.9M462.4,449.3h0.9M470.5,432.3h0.9M463.6,438.9h0.9M468.7,429.0h0.9M463.6,424.4h0.9M464.9,440.3h0.9M469.5,468.7h0.9M469.4,472.4h0.9M470.0,471.2h0.9M467.2,473.0h0.9M472.2,473.5h0.9M468.4,475.5h0.9M471.2,468.6h0.9M470.4,471.2h0.9M465.9,472.7h0.9M472.1,468.1h0.9M472.0,468.5h0.9M472.0,475.6h0.9M473.1,472.5h0.9M469.1,472.6h0.9M471.8,470.3h0.9M471.9,471.1h0.9M471.2,464.9h0.9M470.8,474.9h0.9M473.5,469.3h0.9M470.3,472.9h0.9M471.2,468.3h0.9M472.5,473.1h0.9M474.3,467.9h0.9M471.4,471.7h0.9M470.0,473.2h0.9M469.1,469.4h0.9M468.9,469.9h0.9M469.2,471.8h0.9M473.6,469.7h0.9M472.0,471.2h0.9M473.0,466.8h0.9M470.0,468.9h0.9M472.5,463.8h0.9M469.8,468.3h0.9M472.4,471.4h0.9M470.9,472.0h0.9M469.6,466.0h0.9M470.4,474.0h0.9M472.9,475.6h0.9M473.7,471.5h0.9M470.7,471.8h0.9M470.4,470.5h0.9M470.4,475.2h0.9M472.5,468.7h0.9M471.1,474.2h0.9M468.9,471.1h0.9M471.1,469.8h0.9M470.8,471.1h0.9M471.3,474.4h0.9M471.7,470.9h0.9M473.7,474.4h0.9M470.8,465.5h0.9M469.6,468.8h0.9M467.9,471.7h0.9M471.1,471.1h0.9M471.1,472.1h0.9M469.6,472.4h0.9M469.5,472.8h0.9M470.4,468.5h0.9M470.9,473.0h0.9M472.4,471.3h0.9M471.3,469.3h0.9M470.6,472.9h0.9M466.4,470.2h0.9M470.4,473.1h0.9M470.4,475.3h0.9M472.2,471.2h0.9M471.7,474.0h0.9M469.7,474.5h0.9M473.7,468.4h0.9M470.0,468.2h0.9M474.5,472.1h0.9M466.6,469.7h0.9M473.2,466.9h0.9M468.3,468.4h0.9M468.0,469.7h0.9M468.3,473.6h0.9M470.5,471.0h0.9M471.1,467.1h0.9M472.8,471.7h0.9M489.1,413.4h0.9M488.3,445.2h0.9M486.7,420.9h0.9M485.2,436.5h0.9M487.4,418.0h0.9M481.1,452.9h0.9M485.3,421.4h0.9M486.4,430.7h0.9M491.1,439.4h0.9M484.8,437.5h0.9M485.3,437.0h0.9M488.8,428.4h0.9M487.9,458.9h0.9M486.7,461.5h0.9M486.8,425.4h0.9M487.2,430.3h0.9M483.7,442.9h0.9M486.7,422.5h0.9M486.0,463.7h0.9M486.0,420.8h0.9M484.6,453.8h0.9M486.4,428.3h0.9M483.7,454.3h0.9M484.5,436.0h0.9M486.4,428.9h0.9M483.2,434.2h0.9M484.3,444.3h0.9M487.7,422.4h0.9M484.5,451.7h0.9M485.3,437.2h0.9M488.5,449.7h0.9M484.1,418.6h0.9M485.3,417.3h0.9M483.1,434.4h0.9M486.4,452.5h0.9M485.6,459.0h0.9M484.4,444.7h0.9M485.8,438.9h0.9M486.3,453.2h0.9M484.6,438.9h0.9M488.5,454.9h0.9M485.1,436.8h0.9M486.1,434.1h0.9M484.0,429.6h0.9M484.5,434.9h0.9M486.6,442.3h0.9M487.8,456.3h0.9M483.2,440.6h0.9M482.6,452.1h0.9M486.7,424.8h0.9M484.5,431.8h0.9M485.0,454.6h0.9M487.3,435.2h0.9M485.4,452.1h0.9M488.4,425.4h0.9M486.8,428.3h0.9M487.1,426.1h0.9M489.4,415.5h0.9M487.9,431.5h0.9M486.4,445.5h0.9M486.2,452.2h0.9M484.8,433.4h0.9M487.5,418.6h0.9M487.4,447.9h0.9M484.4,420.7h0.9M484.7,468.7h0.9M484.5,420.4h0.9M487.5,422.2h0.9M485.1,439.7h0.9M484.6,446.7h0.9M485.9,441.2h0.9M488.7,424.1h0.9M487.9,448.3h0.9M483.1,439.2h0.9M485.2,427.5h0.9M484.3,440.8h0.9M487.6,441.7h0.9M483.9,462.9h0.9M485.0,426.0h0.9M484.8,463.3h0.9M485.8,454.2h0.9M486.6,464.0h0.9M484.1,427.5h0.9M486.1,432.0h0.9M486.7,433.9h0.9M481.7,435.6h0.9M487.1,435.1h0.9M485.8,436.3h0.9M486.3,471.2h0.9M486.1,451.0h0.9M487.0,432.2h0.9M483.5,445.6h0.9M482.2,438.6h0.9M486.3,453.8h0.9M484.9,466.5h0.9M486.5,433.9h0.9M485.7,443.1h0.9M488.6,420.8h0.9M486.8,462.7h0.9M485.6,442.3h0.9M487.6,425.5h0.9M484.7,427.3h0.9M485.5,415.7h0.9M486.6,432.2h0.9M487.8,456.6h0.9M487.6,456.8h0.9M484.2,461.4h0.9M485.9,429.4h0.9M487.9,459.4h0.9M486.6,458.2h0.9M483.6,457.7h0.9M486.6,426.3h0.9M486.9,434.3h0.9M486.6,425.5h0.9M488.7,432.4h0.9M487.5,461.3h0.9M486.7,452.1h0.9M488.3,447.3h0.9M483.5,427.8h0.9M487.4,463.2h0.9M483.1,423.7h0.9M486.2,418.1h0.9M484.1,431.7h0.9M485.1,424.7h0.9M488.8,426.2h0.9M488.4,444.9h0.9M485.1,420.8h0.9M482.8,460.6h0.9M487.9,431.6h0.9M487.6,463.0h0.9M486.1,433.5h0.9M487.8,448.2h0.9M487.7,420.6h0.9M484.3,450.5h0.9M488.3,453.9h0.9M486.8,426.2h0.9M486.5,441.6h0.9M486.3,418.4h0.9M485.9,435.1h0.9M479.5,457.8h0.9M489.7,435.5h0.9M483.1,447.2h0.9M486.0,445.1h0.9M483.0,415.7h0.9M485.1,425.6h0.9M489.0,427.0h0.9M486.2,436.3h0.9M487.2,431.3h0.9M484.7,436.1h0.9M486.5,420.8h0.9M485.8,429.8h0.9M488.6,433.7h0.9M487.1,443.9h0.9M485.6,467.4h0.9M487.5,424.9h0.9M484.9,423.4h0.9M485.6,417.8h0.9M486.4,438.0h0.9M488.9,419.6h0.9M485.5,420.9h0.9M484.9,420.4h0.9M481.9,438.1h0.9M487.2,419.5h0.9M485.8,450.6h0.9M482.5,436.3h0.9M481.3,432.5h0.9M487.7,425.0h0.9M487.6,416.6h0.9M488.7,418.0h0.9M484.6,451.4h0.9M484.1,458.2h0.9M486.0,423.1h0.9M491.1,438.0h0.9M488.0,444.2h0.9M488.7,421.8h0.9M485.3,424.8h0.9M482.2,432.9h0.9M485.9,458.1h0.9M488.4,431.5h0.9M487.1,424.2h0.9M487.6,463.4h0.9M487.6,446.2h0.9M488.3,426.8h0.9M487.5,424.5h0.9M485.9,446.6h0.9M484.9,461.1h0.9M484.2,445.0h0.9M487.3,429.5h0.9M486.0,438.1h0.9M487.4,451.6h0.9M483.9,450.6h0.9M483.4,437.3h0.9M488.0,455.8h0.9M486.5,416.0h0.9M480.6,449.3h0.9M486.2,450.9h0.9M483.3,450.6h0.9M485.2,456.3h0.9M485.5,429.0h0.9M485.4,442.8h0.9M483.8,462.0h0.9M486.2,466.0h0.9M487.1,432.9h0.9M489.5,421.0h0.9M483.2,436.9h0.9M485.2,465.9h0.9M484.7,448.8h0.9M484.7,438.4h0.9M487.9,424.2h0.9M486.6,434.7h0.9M486.6,440.3h0.9M488.5,435.6h0.9M484.0,454.9h0.9M488.1,444.6h0.9M482.8,461.2h0.9M485.5,416.2h0.9M487.5,441.7h0.9M486.9,432.6h0.9M489.8,454.3h0.9M487.3,434.9h0.9M485.5,449.2h0.9M485.5,462.5h0.9M485.4,464.6h0.9M489.1,459.2h0.9M488.4,444.4h0.9M485.7,421.3h0.9M484.8,464.1h0.9M488.2,440.9h0.9M487.6,417.6h0.9M483.2,449.7h0.9M487.9,420.4h0.9M488.3,460.3h0.9M483.5,419.6h0.9M488.3,421.0h0.9M487.4,437.9h0.9M485.5,438.0h0.9M483.7,470.1h0.9M486.9,462.7h0.9M485.1,438.9h0.9M484.1,463.8h0.9M486.0,438.0h0.9M483.5,420.6h0.9M487.2,426.3h0.9M485.0,464.1h0.9M484.0,437.8h0.9M485.6,437.8h0.9M488.1,437.9h0.9M487.5,416.7h0.9M485.7,435.7h0.9M486.8,433.0h0.9M468.3,422.3h0.9M479.6,450.0h0.9M469.4,429.8h0.9M481.8,459.1h0.9M478.8,454.1h0.9M470.8,433.5h0.9M474.6,457.6h0.9M472.3,464.7h0.9M476.1,454.8h0.9M479.9,422.8h0.9M477.8,437.8h0.9M473.2,453.9h0.9M481.6,448.9h0.9M479.8,416.3h0.9M476.5,421.5h0.9M467.9,431.7h0.9M470.3,425.5h0.9M468.8,465.9h0.9M471.8,454.2h0.9M474.9,425.4h0.9M475.0,464.0h0.9M469.0,417.6h0.9M481.7,456.1h0.9M468.4,433.3h0.9M471.4,463.5h0.9M471.1,456.7h0.9M472.6,422.0h0.9M472.5,428.7h0.9M479.9,434.0h0.9M473.3,423.0h0.9M468.3,432.1h0.9M473.7,434.9h0.9M479.5,461.7h0.9M468.5,421.1h0.9M478.9,429.6h0.9M471.6,432.6h0.9M478.5,419.0h0.9M482.5,464.7h0.9M480.4,446.3h0.9M469.1,419.2h0.9M472.0,449.8h0.9M477.3,458.7h0.9M470.2,443.8h0.9M480.9,457.4h0.9M477.4,452.5h0.9M477.4,431.4h0.9M472.2,457.0h0.9M474.9,453.0h0.9M476.5,460.6h0.9M476.3,463.0h0.9M479.8,425.6h0.9M481.3,449.5h0.9M470.1,458.8h0.9M468.9,448.7h0.9M473.9,451.8h0.9M475.9,421.8h0.9M478.0,460.8h0.9M475.1,417.7h0.9M481.2,436.9h0.9M467.1,418.3h0.9M475.4,434.9h0.9M476.4,445.4h0.9M491.3,466.3h0.9M499.9,452.1h0.9M495.0,466.4h0.9M499.8,419.1h0.9M492.7,466.4h0.9M500.2,433.9h0.9M493.4,436.7h0.9M501.5,432.7h0.9M496.4,472.3h0.9M491.4,421.7h0.9M491.4,419.2h0.9M501.2,467.8h0.9M502.5,443.9h0.9M491.6,460.2h0.9M498.1,427.2h0.9M494.8,437.2h0.9M497.0,429.4h0.9M499.6,458.4h0.9M499.4,425.2h0.9M493.0,459.4h0.9M502.1,438.6h0.9M492.3,435.6h0.9M502.0,462.0h0.9M493.4,448.1h0.9M501.8,452.2h0.9M489.9,430.7h0.9M499.7,427.6h0.9M498.4,427.7h0.9M492.0,434.5h0.9M495.4,441.4h0.9M453.1,460.6h0.9M453.0,455.3h0.9M455.4,441.4h0.9M454.0,451.7h0.9M454.8,461.6h0.9M454.0,443.7h0.9M453.1,461.3h0.9M454.4,444.1h0.9M453.2,440.7h0.9M455.6,446.0h0.9M455.1,442.2h0.9M451.9,465.1h0.9M452.0,451.4h0.9M454.4,439.7h0.9M452.5,457.8h0.9" stroke="#000" stroke-opacity="0.5" stroke-width="0.9" fill="none"/><path d="M456.9,462.4h0.9M461.4,472.3h0.9M457.0,468.7h0.9M457.0,466.7h0.9M457.6,469.7h0.9M456.7,461.7h0.9M462.5,470.5h0.9M460.5,472.7h0.9M458.6,472.8h0.9M458.0,457.5h0.9M461.3,470.6h0.9M458.4,475.0h0.9M457.6,465.4h0.9M451.8,474.5h0.9M453.6,463.0h0.9M461.9,469.7h0.9M457.3,470.4h0.9M460.2,473.3h0.9M458.7,470.6h0.9M456.6,469.9h0.9M456.8,472.0h0.9M454.4,462.7h0.9M458.2,463.7h0.9M457.8,464.3h0.9M458.1,470.4h0.9M459.8,466.1h0.9M456.7,466.1h0.9M458.6,472.6h0.9M455.6,475.3h0.9M459.5,469.1h0.9M460.2,463.5h0.9M459.0,463.1h0.9M457.6,464.8h0.9M455.8,471.1h0.9M458.8,469.7h0.9M462.0,466.7h0.9M456.0,467.6h0.9M460.2,466.8h0.9M459.9,461.2h0.9M455.9,464.3h0.9M461.9,466.3h0.9M454.9,466.8h0.9M455.4,468.7h0.9M459.9,467.2h0.9M457.5,466.7h0.9M455.8,463.3h0.9M455.8,469.9h0.9M456.3,462.8h0.9M459.2,467.1h0.9M459.2,469.6h0.9M453.5,461.7h0.9M457.0,471.3h0.9M459.0,467.5h0.9M460.9,469.6h0.9M460.9,459.7h0.9M458.9,462.8h0.9M453.9,467.5h0.9M458.6,469.9h0.9M462.3,457.9h0.9M458.1,459.3h0.9M456.4,465.5h0.9M459.8,466.4h0.9M458.4,471.3h0.9M462.3,468.7h0.9M456.6,463.9h0.9M460.7,466.3h0.9M456.6,462.7h0.9M459.6,475.2h0.9M457.3,466.5h0.9M457.7,463.0h0.9M456.8,467.8h0.9M458.0,470.9h0.9M462.5,471.3h0.9M458.3,468.5h0.9M459.7,463.5h0.9M460.7,473.9h0.9M453.1,475.8h0.9M457.8,468.9h0.9M456.9,461.8h0.9M457.9,459.2h0.9M456.4,471.6h0.9M458.3,468.8h0.9M458.0,470.6h0.9M461.7,468.0h0.9M461.4,467.4h0.9M459.3,474.2h0.9M457.3,469.1h0.9M457.2,469.8h0.9M463.0,460.6h0.9M455.7,467.3h0.9M454.2,467.5h0.9M459.9,465.2h0.9M454.4,469.0h0.9M457.4,462.4h0.9M455.6,462.7h0.9M459.8,472.4h0.9M463.6,473.4h0.9M458.5,472.5h0.9M458.4,461.7h0.9M459.8,472.3h0.9M456.8,469.1h0.9M458.5,466.8h0.9M464.2,469.7h0.9M458.1,465.6h0.9M460.1,455.4h0.9M458.4,461.1h0.9M460.4,474.9h0.9M452.7,462.6h0.9M461.1,463.9h0.9M458.0,471.5h0.9M454.5,464.9h0.9M457.9,461.9h0.9M456.1,466.7h0.9M456.6,469.5h0.9M458.5,464.0h0.9M457.2,470.0h0.9M461.8,474.7h0.9M455.1,464.5h0.9M460.0,473.3h0.9M460.8,462.8h0.9M458.4,457.8h0.9M460.5,472.1h0.9M459.9,458.5h0.9M455.2,471.8h0.9M456.1,475.0h0.9M453.7,467.3h0.9M459.5,462.7h0.9M456.9,466.9h0.9M455.0,465.2h0.9M455.1,462.2h0.9M453.4,468.9h0.9M457.8,468.3h0.9M457.8,470.9h0.9M458.7,467.3h0.9M462.8,473.1h0.9M459.5,469.3h0.9M456.9,466.1h0.9M458.5,466.7h0.9M459.0,471.5h0.9M462.8,471.2h0.9M458.4,465.0h0.9M459.6,465.6h0.9M456.2,470.2h0.9M461.8,468.7h0.9M455.8,464.2h0.9M454.6,462.3h0.9M460.0,474.2h0.9M456.2,472.1h0.9M456.6,471.9h0.9M458.3,461.3h0.9M459.1,459.5h0.9M459.2,468.9h0.9M455.8,462.5h0.9M458.3,467.2h0.9M460.2,468.8h0.9M458.0,471.9h0.9M456.9,465.5h0.9M457.4,460.6h0.9M456.0,469.8h0.9M458.0,446.1h0.9M455.3,468.0h0.9M456.7,468.1h0.9M461.7,463.9h0.9M460.1,444.4h0.9M459.8,465.8h0.9M461.5,454.0h0.9M461.3,452.0h0.9M458.2,457.3h0.9M458.1,469.5h0.9M458.7,459.2h0.9M462.1,446.5h0.9M460.2,467.2h0.9M464.4,456.4h0.9M463.5,453.2h0.9M460.0,466.5h0.9M458.3,474.4h0.9M455.8,461.3h0.9M462.7,443.3h0.9M459.2,472.9h0.9M461.1,462.4h0.9M460.1,467.4h0.9M456.5,461.0h0.9M460.4,473.9h0.9M463.1,460.4h0.9M463.7,443.5h0.9M465.5,450.9h0.9M460.4,463.6h0.9M462.0,449.1h0.9M457.2,471.3h0.9M456.4,453.3h0.9M456.0,472.4h0.9M455.4,459.3h0.9M457.8,463.0h0.9M454.1,467.0h0.9M455.7,464.1h0.9M462.8,443.4h0.9M459.1,462.6h0.9M459.0,468.0h0.9M459.7,457.5h0.9M457.8,454.1h0.9M456.3,474.4h0.9M459.1,463.1h0.9M462.6,464.4h0.9M457.0,466.2h0.9M456.5,465.5h0.9M458.4,468.1h0.9M459.0,455.4h0.9M459.5,442.8h0.9M462.7,458.2h0.9M459.7,452.1h0.9M461.1,452.5h0.9M457.3,467.6h0.9M455.8,471.3h0.9M460.2,439.1h0.9M460.5,455.7h0.9M463.9,467.8h0.9M458.1,459.5h0.9M456.8,461.7h0.9M459.2,466.9h0.9M465.1,441.9h0.9M459.6,462.9h0.9M461.3,446.8h0.9M459.9,458.4h0.9M460.2,452.5h0.9M454.5,466.5h0.9M457.9,464.1h0.9M457.0,464.2h0.9M460.6,447.1h0.9M458.4,448.9h0.9M458.1,451.5h0.9M458.1,460.0h0.9M457.8,441.8h0.9M461.7,454.6h0.9M458.2,442.0h0.9M464.2,449.2h0.9M457.8,456.3h0.9M456.2,462.5h0.9M460.1,445.4h0.9M464.7,441.2h0.9M459.9,443.1h0.9M458.2,459.3h0.9M461.2,442.0h0.9M459.3,475.5h0.9M457.2,472.7h0.9M457.9,463.1h0.9M454.3,470.4h0.9M457.1,467.0h0.9M462.1,442.3h0.9M463.4,446.3h0.9M459.1,450.5h0.9M460.0,453.8h0.9M459.6,468.3h0.9M461.2,459.5h0.9M460.2,449.1h0.9M454.1,475.1h0.9M461.6,447.7h0.9M462.4,444.5h0.9M465.5,447.6h0.9M463.6,448.5h0.9M459.1,445.1h0.9M463.0,447.0h0.9M457.2,460.4h0.9M465.1,447.9h0.9M459.0,457.8h0.9M460.8,460.9h0.9M459.7,460.4h0.9M456.7,467.3h0.9M462.7,447.1h0.9M460.1,445.4h0.9M459.2,470.2h0.9M460.3,457.9h0.9M462.2,471.3h0.9M461.1,448.6h0.9M455.7,452.4h0.9M458.9,464.6h0.9M461.2,456.3h0.9M459.6,458.9h0.9M463.7,450.9h0.9M456.7,449.8h0.9M459.4,450.9h0.9M460.6,464.4h0.9M456.8,473.1h0.9M462.8,452.0h0.9M465.6,451.9h0.9M463.5,423.6h0.9M460.1,445.2h0.9M461.9,447.8h0.9M466.3,433.6h0.9M463.0,437.4h0.9M468.8,427.8h0.9M466.4,444.4h0.9M460.0,433.5h0.9M463.4,454.3h0.9M465.0,429.6h0.9M464.1,442.8h0.9M466.0,429.6h0.9M467.0,431.7h0.9M458.8,445.6h0.9M456.7,447.2h0.9M466.5,439.7h0.9M462.2,442.4h0.9M466.9,426.9h0.9M463.1,448.5h0.9M463.1,427.2h0.9M462.2,428.0h0.9M465.7,439.0h0.9M460.6,435.5h0.9M464.7,442.0h0.9M464.7,432.6h0.9M464.1,424.5h0.9M465.4,436.7h0.9M465.5,436.9h0.9M472.7,427.2h0.9M461.1,438.3h0.9M464.7,442.9h0.9M463.7,445.9h0.9M463.1,438.5h0.9M463.1,434.9h0.9M471.4,434.5h0.9M468.1,444.4h0.9M459.2,450.0h0.9M467.4,427.6h0.9M469.7,433.5h0.9M466.6,447.3h0.9M459.8,430.6h0.9M471.0,436.8h0.9M467.3,446.1h0.9M467.0,431.4h0.9M462.8,431.7h0.9M456.9,449.9h0.9M467.7,429.4h0.9M464.0,432.9h0.9M465.9,435.1h0.9M470.3,467.8h0.9M473.4,472.8h0.9M470.5,469.8h0.9M469.3,470.4h0.9M473.8,471.1h0.9M469.8,471.7h0.9M469.3,472.2h0.9M469.5,473.4h0.9M470.7,469.2h0.9M470.5,473.4h0.9M468.9,472.8h0.9M470.6,473.7h0.9M471.8,469.7h0.9M471.1,465.6h0.9M470.1,471.0h0.9M471.5,472.4h0.9M471.0,472.3h0.9M469.7,468.5h0.9M469.2,471.4h0.9M468.5,471.3h0.9M471.3,472.8h0.9M468.7,469.2h0.9M471.0,469.5h0.9M470.3,473.3h0.9M472.3,471.8h0.9M469.1,473.4h0.9M468.4,468.5h0.9M470.5,465.3h0.9M471.9,466.7h0.9M473.3,473.6h0.9M470.6,470.1h0.9M472.6,472.2h0.9M469.7,469.0h0.9M469.2,467.8h0.9M472.4,470.7h0.9M467.3,472.2h0.9M467.8,472.7h0.9M471.2,469.1h0.9M471.9,466.7h0.9M472.6,468.9h0.9M468.5,468.9h0.9M472.1,471.4h0.9M471.5,474.3h0.9M471.6,473.6h0.9M466.9,474.0h0.9M472.5,467.4h0.9M472.1,471.5h0.9M469.8,472.7h0.9M470.7,470.4h0.9M470.4,474.0h0.9M475.1,472.8h0.9M467.0,475.0h0.9M471.4,473.4h0.9M469.7,469.3h0.9M474.0,471.7h0.9M472.5,468.2h0.9M471.1,469.8h0.9M471.3,471.3h0.9M467.7,471.0h0.9M471.3,467.2h0.9M475.6,471.6h0.9M472.6,474.0h0.9M472.5,471.8h0.9M470.9,469.2h0.9M469.6,472.0h0.9M473.5,474.7h0.9M471.0,471.1h0.9M470.3,464.3h0.9M471.6,471.3h0.9M469.3,473.2h0.9M469.7,472.5h0.9M471.2,472.2h0.9M469.0,472.8h0.9M470.9,465.6h0.9M473.8,472.0h0.9M473.3,469.4h0.9M467.4,473.8h0.9M471.2,473.3h0.9M470.2,470.9h0.9M471.5,468.5h0.9M488.0,469.6h0.9M490.8,447.5h0.9M485.7,433.3h0.9M486.1,424.2h0.9M487.1,423.4h0.9M488.1,432.5h0.9M486.5,436.5h0.9M487.2,423.7h0.9M489.2,445.2h0.9M485.2,424.0h0.9M485.8,443.8h0.9M488.2,422.4h0.9M485.4,442.8h0.9M484.3,437.9h0.9M485.4,423.0h0.9M484.7,442.7h0.9M484.9,447.9h0.9M483.9,430.4h0.9M487.9,432.0h0.9M485.4,437.8h0.9M485.1,469.6h0.9M486.0,468.0h0.9M489.8,425.5h0.9M488.7,426.1h0.9M485.7,424.9h0.9M487.1,421.0h0.9M490.1,428.7h0.9M487.6,459.1h0.9M484.4,430.1h0.9M487.9,423.1h0.9M482.8,460.8h0.9M485.2,415.1h0.9M486.3,422.8h0.9M488.9,432.2h0.9M487.8,455.2h0.9M487.8,453.5h0.9M487.9,430.5h0.9M488.4,434.5h0.9M484.8,422.3h0.9M486.3,443.2h0.9M485.0,431.3h0.9M488.0,440.8h0.9M487.3,449.9h0.9M488.3,416.0h0.9M482.8,460.5h0.9M485.3,441.4h0.9M485.9,441.4h0.9M486.7,467.6h0.9M485.0,466.9h0.9M484.0,450.1h0.9M487.5,466.7h0.9M485.4,438.6h0.9M485.6,455.4h0.9M485.3,433.1h0.9M484.4,444.5h0.9M487.8,440.4h0.9M489.0,451.7h0.9M488.6,434.2h0.9M488.2,452.8h0.9M488.4,449.3h0.9M486.5,435.1h0.9M486.3,458.3h0.9M487.4,452.1h0.9M485.1,446.5h0.9M486.3,454.2h0.9M486.3,453.0h0.9M486.6,425.2h0.9M485.4,419.3h0.9M484.8,462.3h0.9M484.1,465.2h0.9M482.9,422.4h0.9M486.6,423.7h0.9M489.1,455.2h0.9M484.0,434.7h0.9M485.6,439.5h0.9M490.1,445.3h0.9M484.2,464.0h0.9M486.1,421.3h0.9M483.5,419.7h0.9M484.9,448.1h0.9M487.3,444.5h0.9M489.7,419.4h0.9M486.4,432.9h0.9M485.5,444.5h0.9M483.6,454.6h0.9M486.9,465.9h0.9M488.2,443.3h0.9M488.9,457.0h0.9M485.9,453.0h0.9M484.7,455.2h0.9M487.4,447.5h0.9M485.2,446.3h0.9M487.6,454.4h0.9M484.6,443.9h0.9M485.6,454.8h0.9M486.2,468.9h0.9M484.8,441.5h0.9M486.6,433.8h0.9M483.1,466.5h0.9M486.4,450.6h0.9M486.9,424.1h0.9M484.2,434.5h0.9M486.6,449.9h0.9M486.2,435.2h0.9M490.3,427.0h0.9M486.3,428.4h0.9M490.2,425.0h0.9M484.9,466.8h0.9M487.8,438.6h0.9M486.3,450.8h0.9M487.7,460.2h0.9M485.1,427.2h0.9M487.3,415.5h0.9M488.3,443.7h0.9M486.2,420.5h0.9M487.3,423.4h0.9M487.3,420.5h0.9M485.2,416.0h0.9M485.5,456.0h0.9M484.6,460.5h0.9M490.1,449.7h0.9M485.8,432.9h0.9M486.1,449.7h0.9M486.7,461.9h0.9M484.8,458.1h0.9M483.7,423.4h0.9M484.3,416.9h0.9M489.4,421.5h0.9M483.9,459.6h0.9M487.5,449.8h0.9M484.3,450.9h0.9M485.3,436.2h0.9M489.3,443.8h0.9M489.6,461.2h0.9M485.6,440.6h0.9M487.9,422.3h0.9M484.4,454.5h0.9M484.1,427.6h0.9M483.3,463.6h0.9M486.6,446.3h0.9M487.4,449.4h0.9M488.3,468.4h0.9M488.5,436.7h0.9M487.9,469.0h0.9M485.3,449.5h0.9M488.8,415.1h0.9M488.8,460.8h0.9M487.9,424.6h0.9M482.8,428.0h0.9M488.3,457.7h0.9M486.2,453.4h0.9M485.4,419.4h0.9M486.3,421.0h0.9M486.8,436.7h0.9M486.3,426.5h0.9M482.0,432.4h0.9M486.9,460.5h0.9M488.9,430.2h0.9M486.9,448.5h0.9M487.1,419.5h0.9M487.9,440.3h0.9M487.4,429.4h0.9M485.0,420.7h0.9M487.9,438.0h0.9M486.7,443.6h0.9M485.7,440.9h0.9M483.2,418.6h0.9M485.3,459.8h0.9M487.2,416.1h0.9M484.9,424.9h0.9M485.4,445.4h0.9M490.9,451.7h0.9M483.2,450.9h0.9M487.3,436.2h0.9M484.9,446.8h0.9M484.9,431.3h0.9M486.5,457.3h0.9M486.7,454.4h0.9M486.4,421.1h0.9M485.7,421.8h0.9M487.2,417.8h0.9M484.3,468.2h0.9M485.6,420.5h0.9M487.4,439.1h0.9M486.9,430.5h0.9M488.2,466.8h0.9M487.9,460.1h0.9M485.8,432.8h0.9M485.2,467.3h0.9M484.5,420.2h0.9M485.4,445.1h0.9M485.9,451.5h0.9M486.5,436.8h0.9M484.1,442.0h0.9M484.0,419.9h0.9M489.4,421.7h0.9M489.1,451.5h0.9M483.3,456.2h0.9M487.2,455.7h0.9M486.1,423.8h0.9M485.1,464.5h0.9M485.8,464.5h0.9M484.8,435.5h0.9M486.7,424.2h0.9M486.9,458.2h0.9M488.5,463.9h0.9M487.4,463.2h0.9M486.6,424.7h0.9M485.8,422.0h0.9M488.5,440.6h0.9M484.5,438.9h0.9M485.2,461.7h0.9M489.3,445.0h0.9M485.6,445.7h0.9M483.9,440.3h0.9M486.2,418.2h0.9M486.0,420.2h0.9M485.6,420.6h0.9M485.6,450.1h0.9M486.9,455.6h0.9M484.2,450.7h0.9M485.9,448.6h0.9M489.4,451.0h0.9M487.6,427.4h0.9M488.9,448.3h0.9M487.3,431.7h0.9M485.6,454.9h0.9M487.4,458.6h0.9M486.4,425.8h0.9M486.7,463.8h0.9M485.1,454.1h0.9M484.8,462.3h0.9M490.4,460.7h0.9M485.4,463.5h0.9M485.9,457.3h0.9M486.3,427.7h0.9M489.9,452.8h0.9M482.3,462.9h0.9M488.6,430.3h0.9M487.0,463.5h0.9M486.1,417.8h0.9M484.0,440.0h0.9M485.2,453.3h0.9M486.4,416.9h0.9M488.0,430.0h0.9M487.4,446.5h0.9M486.4,426.0h0.9M488.9,463.1h0.9M488.2,416.0h0.9M479.5,465.1h0.9M477.0,456.1h0.9M478.7,449.8h0.9M481.7,443.0h0.9M480.9,431.5h0.9M478.5,417.1h0.9M475.9,436.3h0.9M479.5,465.5h0.9M468.2,435.1h0.9M476.6,445.8h0.9M476.5,422.4h0.9M482.7,425.6h0.9M475.4,427.0h0.9M480.9,462.1h0.9M466.8,430.1h0.9M467.6,459.0h0.9M471.6,449.7h0.9M476.7,422.9h0.9M468.7,455.7h0.9M469.7,416.1h0.9M482.5,466.3h0.9M476.1,419.6h0.9M477.7,442.3h0.9M471.3,469.7h0.9M468.3,448.8h0.9M472.2,435.9h0.9M472.9,469.8h0.9M479.6,467.1h0.9M482.7,435.2h0.9M473.7,453.1h0.9M476.5,441.3h0.9M469.7,462.1h0.9M473.2,432.2h0.9M468.6,420.7h0.9M479.3,444.6h0.9M467.6,465.4h0.9M471.9,453.7h0.9M467.4,454.5h0.9M482.4,440.5h0.9M469.3,449.9h0.9M476.7,449.2h0.9M473.6,419.6h0.9M467.5,419.1h0.9M474.3,427.9h0.9M479.1,460.5h0.9M477.7,433.7h0.9M482.0,438.2h0.9M482.3,449.9h0.9M467.4,431.3h0.9M468.7,425.7h0.9M468.7,465.7h0.9M475.1,425.5h0.9M472.2,466.0h0.9M467.3,449.4h0.9M468.2,435.0h0.9M471.7,433.4h0.9M476.7,446.4h0.9M477.6,456.0h0.9M468.5,446.3h0.9M473.9,430.3h0.9M474.4,448.0h0.9M477.1,445.7h0.9M474.6,455.4h0.9M497.4,463.1h0.9M491.0,451.1h0.9M500.8,444.6h0.9M498.3,461.1h0.9M500.7,462.7h0.9M495.0,438.4h0.9M495.2,453.8h0.9M500.2,419.4h0.9M492.5,446.9h0.9M502.6,448.3h0.9M502.6,433.0h0.9M499.4,459.0h0.9M490.4,461.7h0.9M497.7,472.4h0.9M495.7,440.7h0.9M492.4,423.2h0.9M492.8,422.1h0.9M495.8,462.7h0.9M493.7,422.4h0.9M501.0,449.5h0.9M494.2,416.9h0.9M490.4,440.6h0.9M494.1,437.8h0.9M498.4,435.8h0.9M489.4,444.5h0.9M497.6,471.2h0.9M500.3,434.1h0.9M499.8,457.3h0.9M494.7,457.4h0.9M489.9,455.8h0.9M452.6,461.5h0.9M454.3,458.7h0.9M453.7,455.4h0.9M455.3,450.0h0.9M455.1,445.7h0.9M452.6,466.8h0.9M455.8,438.5h0.9M453.0,453.3h0.9M452.2,474.2h0.9M452.8,455.8h0.9M455.4,442.8h0.9M455.6,460.7h0.9M453.9,461.2h0.9M454.7,444.6h0.9M455.8,450.8h0.9" stroke="#000" stroke-opacity="0.5" stroke-width="0.9" fill="none"/>
<rect x="450.5" y="412.5" width="54.0" height="64.0" fill="none" stroke="#222" stroke-width="1"/>
<line x1="467.5" y1="412.5" x2="467.5" y2="476.5" stroke="#333" stroke-width="1"/>
<line x1="467.5" y1="463.5" x2="504.5" y2="463.5" stroke="#333" stroke-width="1"/>
<text x="478.0" y="410.0" font-size="7.0" text-anchor="middle" font-weight="bold">CD437</text>
<text x="477.0" y="490.5" font-size="7.0" text-anchor="middle" stroke="#111" stroke-width="0.15">DNA content</text>
<text x="441.5" y="444.5" font-size="6.8" text-anchor="middle" stroke="#111" stroke-width="0.14" transform="rotate(-90 441.5 444.5)">PCNA</text>
<text x="452.5" y="483.0" font-size="3.8" text-anchor="middle" fill="#444" stroke="none">0</text>
<text x="447.0" y="474.5" font-size="3.8" text-anchor="middle" fill="#444" stroke="none" transform="rotate(-90 447.0 474.5)">0</text>
<text x="462.5" y="483.0" font-size="3.8" text-anchor="middle" fill="#444" stroke="none">50</text>
<text x="447.0" y="462.5" font-size="3.8" text-anchor="middle" fill="#444" stroke="none" transform="rotate(-90 447.0 462.5)">50</text>
<text x="472.5" y="483.0" font-size="3.8" text-anchor="middle" fill="#444" stroke="none">100</text>
<text x="447.0" y="450.5" font-size="3.8" text-anchor="middle" fill="#444" stroke="none" transform="rotate(-90 447.0 450.5)">100</text>
<text x="482.5" y="483.0" font-size="3.8" text-anchor="middle" fill="#444" stroke="none">150</text>
<text x="447.0" y="438.5" font-size="3.8" text-anchor="middle" fill="#444" stroke="none" transform="rotate(-90 447.0 438.5)">150</text>
<text x="492.5" y="483.0" font-size="3.8" text-anchor="middle" fill="#444" stroke="none">200</text>
<text x="447.0" y="426.5" font-size="3.8" text-anchor="middle" fill="#444" stroke="none" transform="rotate(-90 447.0 426.5)">200</text>
<text x="502.5" y="483.0" font-size="3.8" text-anchor="middle" fill="#444" stroke="none">250</text>
<text x="447.0" y="414.5" font-size="3.8" text-anchor="middle" fill="#444" stroke="none" transform="rotate(-90 447.0 414.5)">250</text>

<line x1="0.9" y1="1.5" x2="518.3" y2="1.5" stroke="#1a1a1a" stroke-width="1.3"/>
<line x1="1.6" y1="0.9" x2="1.6" y2="549.9" stroke="#1a1a1a" stroke-width="1.4"/>
<line x1="517.6" y1="0.9" x2="517.6" y2="549.9" stroke="#1a1a1a" stroke-width="1.5"/>
<line x1="0.9" y1="549.2" x2="518.3" y2="549.2" stroke="#1a1a1a" stroke-width="1.4"/>
<line x1="1.6" y1="268.5" x2="517.6" y2="268.5" stroke="#1a1a1a" stroke-width="1.4"/>
<line x1="324.05" y1="1.5" x2="324.05" y2="549.2" stroke="#2a2a2a" stroke-width="1.8"/>

</svg>
</body></html>
